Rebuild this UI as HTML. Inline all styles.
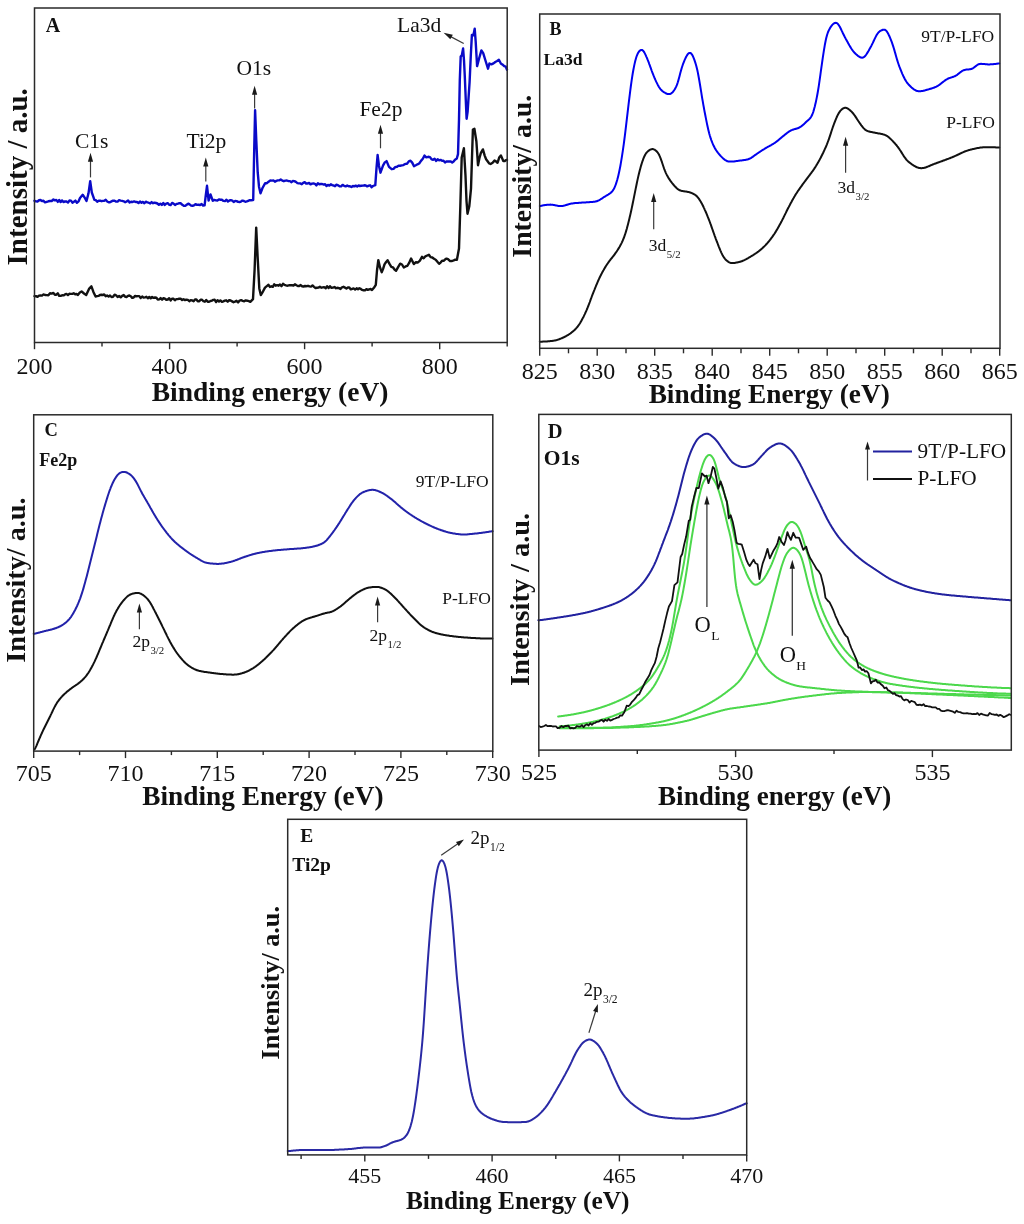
<!DOCTYPE html><html><head><meta charset="utf-8"><style>html,body{margin:0;padding:0;background:#fff;width:1024px;height:1224px;overflow:hidden}svg{display:block;will-change:transform}text{font-family:"Liberation Serif",serif;fill:#111}</style></head><body>
<svg width="1024" height="1224" viewBox="0 0 1024 1224">
<rect width="1024" height="1224" fill="#fff"/>
<g>
<line x1="34.5" y1="342.5" x2="34.5" y2="349.2" stroke="#2a2a2a" stroke-width="1.4"/>
<line x1="169.6" y1="342.5" x2="169.6" y2="349.2" stroke="#2a2a2a" stroke-width="1.4"/>
<line x1="304.6" y1="342.5" x2="304.6" y2="349.2" stroke="#2a2a2a" stroke-width="1.4"/>
<line x1="439.7" y1="342.5" x2="439.7" y2="349.2" stroke="#2a2a2a" stroke-width="1.4"/>
<line x1="102" y1="342.5" x2="102" y2="346.5" stroke="#2a2a2a" stroke-width="1.4"/>
<line x1="237.1" y1="342.5" x2="237.1" y2="346.5" stroke="#2a2a2a" stroke-width="1.4"/>
<line x1="372.1" y1="342.5" x2="372.1" y2="346.5" stroke="#2a2a2a" stroke-width="1.4"/>
<line x1="507.2" y1="342.5" x2="507.2" y2="346.5" stroke="#2a2a2a" stroke-width="1.4"/>
<path d="M34.5,296.1 36,296.2 37.5,296.9 39,295.6 40.5,295.5 42,295.6 43.5,294.4 45,295 46.7,295.1 48.4,295.3 50,293.3 51.7,293.6 53.4,292.9 54.9,294.8 56.3,294.7 57.8,293.3 59.2,295.8 60.6,295.9 62.1,295.3 63.5,295.4 65,294.4 66.4,293.9 67.9,295.1 69.3,293.8 70.8,293.9 72.2,293.9 73.7,293.3 75.1,294.2 76.6,294 78,294.9 79.8,292.5 81.6,291.4 84,293.5 86.2,295 89,288.9 91.4,286.3 93.5,292.2 95.6,296.5 97,296.2 98.5,295.9 99.9,295 101.4,294.8 102.8,295 104.2,294.5 105.7,296.3 107.1,295.5 108.6,296.6 110,295.5 111.5,297 113,296.8 114.6,294.7 116.1,295.3 117.6,297 119.1,296 120.7,297.3 122.2,295.9 123.7,295.1 125.1,296.6 126.5,297.1 128,295.9 129.4,295.5 130.8,296.2 132.2,297.9 133.6,297.5 135.1,295.9 136.5,296.3 137.9,296.1 139.3,296.1 140.7,298 142.2,296.5 143.6,297.6 145,297.4 146.4,296.8 147.8,298.3 149.3,296.9 150.7,298.3 152.1,297 153.5,297.9 155,297.5 156.4,297.7 157.8,299.6 159.2,299.3 160.6,298.1 162.1,299.7 163.5,298.1 164.9,298.6 166.3,299.9 167.8,299.5 169.2,298.2 170.6,300.5 172,298.6 173.5,298.8 174.9,300.2 176.3,299.1 177.8,299.1 179.2,298.6 180.6,298.7 182.1,300 183.5,299.2 185,300.1 186.4,299.6 187.8,299.9 189.3,301.2 190.7,300.1 192.1,300.4 193.6,301.2 195,299.5 196.4,299.5 197.8,301.4 199.2,301.2 200.6,299.8 202,299.7 203.4,301.2 204.8,301.7 206.2,299.9 207.7,301.8 209.1,301.7 210.5,301 211.9,300.6 213.3,299.9 214.7,299.8 216.1,302.1 217.5,300.3 219,301.5 220.4,300.4 221.9,301.9 223.3,301.3 224.8,300.6 226.2,300.3 227.7,301.7 229.2,300.1 230.6,300.5 232.1,301.4 233.5,302.2 235,301.6 236.5,300.8 238.1,302.4 239.6,300.6 241.1,300.2 242.7,300.9 244.2,301.3 245.7,300.4 247.2,300.7 248.8,301.2 250.3,301.8 253,299.1 254.6,269.7 256.2,227.6 257.6,256.2 259.3,288.4 260.8,295.1 262.3,292.7 265,287.6 266.8,286.1 268.5,284.8 269.9,286.9 271.4,286.3 272.8,286.8 274.2,284.3 275.7,285.7 277.1,285.2 278.6,285.7 280,284.5 281.5,286.2 283,283.8 284.5,284.9 286,285.4 287.5,285.7 289,285.3 290.5,285.1 292,285.3 293.5,285.5 294.9,284.3 296.4,285.3 297.8,286 299.2,286.1 300.7,285.1 302.1,286.2 303.6,286.5 305,286 306.5,286.2 308,285.8 309.5,286.4 311,286.6 312.5,285.4 314,286.9 315.5,288 317,287.8 318.5,287.6 319.9,286.8 321.4,287.7 322.8,287.4 324.2,287.1 325.7,288.2 327.1,286.3 328.6,288.1 330,286.3 331.5,287.8 333,287.6 334.5,287 336,288.2 337.5,287.8 339,288.1 340.5,288.9 342,287.3 343.5,286.8 344.9,287.6 346.4,288.6 347.9,287.5 349.3,287.5 350.8,289.4 352.2,288.9 353.6,288.4 355.1,289.6 356.6,288.3 358,289.2 359.4,288.2 360.8,288.9 362.2,289.9 363.6,290.3 365,290.4 366.4,289.2 367.8,289.8 369.2,289.3 370.6,289 372,290 373.9,287.8 375.8,284.8 377,270.5 378.3,260.1 380,267.4 381.7,272.2 383.1,268.9 384.5,264.4 386.1,262 387.6,260.2 389.5,263.9 391.3,266.8 392.9,267.3 394.5,269.5 396.1,270.8 398.1,267.1 400.2,263.7 402,264.5 403.8,267.5 405.6,266.4 407.3,265.8 409,263.2 411.1,258.5 413.8,264.1 415.9,262.2 417.9,262.5 419.9,260.6 422,256.8 423.7,258.3 425.4,256.3 427.2,255.5 428.9,254.8 430.6,257.1 432.3,257.5 434,258.8 435.7,259.7 437.4,261.8 439.1,263.8 440.6,262.6 442.1,260.8 443.6,260.9 445,259.6 446.5,258.6 448,259.2 450.1,261.1 452.1,261 453.7,260.4 455.3,259.7 456.9,259.8 459,248.5 460.3,207.3 461.7,157.5 463.9,148.2 465.5,175.7 466.5,201 467.5,213.7 469.3,206.1 471,188.6 472.9,129.5 474.4,128.8 476.4,141.5 478,165.2 479.4,158.2 480.8,153.1 482.9,149.4 484.7,155.6 486.1,159.2 487.6,161.2 489.1,163.4 490.6,164 492.6,162.8 494.5,160.6 496,161.4 497.5,162.8 499.2,157.6 500.9,155.4 503.3,161 504.8,161 506.3,159.9 507,160" fill="none" stroke="#111111" stroke-width="2.4" stroke-linejoin="round" stroke-linecap="round"/>
<path d="M34.5,200.8 36,201.4 37.5,201.5 39,200.3 40.5,200 42,201 43.5,200.8 45,202.3 46.7,201.8 48.4,201.3 50,201 51.7,201 53.4,199.5 54.9,200.4 56.3,199.9 57.8,201.9 59.2,200 60.6,202.1 62.1,200.4 63.5,202.1 65,201.4 66.5,201.5 68,202.6 69.5,200.5 71,200.6 72.4,202.7 73.9,201.7 75.4,200.6 76.9,202.8 78.5,201.4 80,198 82.7,194.8 85,198.1 86.5,201 88.5,193.3 90.2,181.2 91.8,192.5 94.4,199.8 95.8,200.1 97.2,201.7 98.7,200.7 100.1,200.7 101.5,201.2 102.9,200.9 104.3,200.7 105.7,199.8 107.2,201.5 108.6,202.2 110,202.2 111.5,201.4 113,200.7 114.6,200.8 116.1,201.6 117.6,201.6 119.1,200.2 120.7,200.6 122.2,200.9 123.7,201.3 125.2,202.2 126.7,201.5 128.1,200.4 129.6,202.5 131.1,201.7 132.6,202 134.1,201.4 135.6,202 137,202 138.5,203.1 140,201.5 141.5,202.7 142.9,201.9 144.4,203.3 145.8,201.7 147.3,202.4 148.7,202.7 150.2,203.5 151.6,202.1 153.1,203.2 154.5,202.7 156,203 157.4,203.5 158.9,204.8 160.4,203.7 161.8,204.9 163.3,203 164.8,204.9 166.2,203.6 167.7,203.2 169.1,204.6 170.6,205.1 172.1,202.9 173.5,203.6 175,204.9 176.5,203.9 177.9,203.7 179.4,203.2 180.8,203.3 182.3,204.8 183.8,205.8 185.2,205.9 186.7,204.7 188.2,203.6 189.6,204.4 191.1,205.6 192.5,205.8 194,205.3 195.5,204.2 197,204.9 198.5,204.7 200.1,205 201.6,204 203.1,205.6 204.6,205.4 205.8,195.2 207,185.8 208.6,200.6 210.5,194.4 212.8,200.8 214.3,199.9 215.9,200.4 217.4,200.5 218.9,199.4 220.4,199.7 221.9,199.8 223.5,200.9 225,201.1 226.5,199.7 227.9,201.6 229.4,200.5 230.8,200.1 232.3,200.6 233.7,202 235.2,200.9 236.6,201.1 238.1,201.9 239.5,202 241,201.6 242.4,200.6 243.9,201 245.3,201.7 246.8,201.4 248.2,200.8 249.7,200.2 251.1,200.2 253.2,200.1 254.2,150.2 255.1,110.3 256.3,140.5 257.7,172.2 259,186.7 260.5,193.3 262.5,188 265.2,183.1 266.9,183.2 268.6,181.7 270.3,180.5 272,180.6 273.4,180.4 274.9,181.7 276.3,180.9 277.8,180.4 279.2,180.4 280.7,179.4 282.3,180.6 283.8,181.2 285.4,180.6 286.9,180.5 288.5,181.1 290,181.1 291.5,182.2 292.9,181 294.4,181.1 295.9,181.9 297.4,183.1 298.8,183.4 300.3,183.4 301.8,184.2 303.2,182.9 304.7,182.2 306.1,183.5 307.6,183.5 309.1,182.9 310.5,184.3 312,183.6 313.5,183.4 314.9,183.8 316.4,185.4 317.9,183.2 319.3,184.2 320.8,184 322.2,184 323.7,184.6 325.1,184.2 326.5,186 327.9,185 329.4,185.5 330.8,184.3 332.2,185.1 333.6,185.5 335,186.2 336.5,184.7 338.1,185.3 339.6,186.4 341.1,186.4 342.6,184.9 344.1,185.8 345.7,186.4 347.2,185.5 348.6,186.3 350,186.3 351.5,187 352.9,186 354.3,186.4 355.7,185.6 357.2,186.5 358.6,185.5 360,186 361.4,185.7 362.9,185.6 364.3,185.3 365.8,185.5 367.2,186.4 368.7,185.7 370.1,185.3 371.6,187.2 373,186 375.3,185.1 376.5,168.2 377.6,155 379,165.9 380.5,172.7 383,165.6 384.8,162.4 386.6,161.1 389,166.9 391.7,169.2 393.5,168.8 395.2,167.1 397,166.8 398.6,165.6 400.2,165.7 401.8,165.4 403.4,165.1 405.2,163.9 407,163.8 408.8,161.4 410.5,160.7 412.2,162.6 414,166.2 415.8,165.3 417.5,164.3 419.2,163.5 421,160.9 422.8,158.8 424.5,155.6 426.3,157.3 428.2,156.8 430,157.1 431.6,159.4 433.1,159.8 434.6,158.8 436.2,160.9 437.6,159.2 439.1,160.3 440.6,159.9 442,160.7 443.5,160.8 445,162.4 446.4,161.5 447.9,161.4 449.4,161.5 450.8,161.4 452.2,162.4 453.6,161.4 455,159.7 456.8,158.5 458,154.1 459,119.9 459.8,80.1 460.7,56.4 461.8,55.5 463.1,48.5 464,60.3 464.8,76.5 466,105.3 466.6,118.8 467.6,111.8 469.6,82 470.8,55.5 471.9,34.9 473.4,35.3 474.7,28.7 475.7,41.9 477.1,66.1 479.1,58.5 481.4,50.4 483.2,53.1 485.3,60 488,68.7 489.4,63.5 491.4,64.4 493.5,63.4 495.3,62 497.1,61 498.9,59.8 501,63.8 502.6,64.6 504.2,66.1 505.8,66.7 507,69.7" fill="none" stroke="#0a0ac8" stroke-width="2.4" stroke-linejoin="round" stroke-linecap="round"/>
<rect x="34.5" y="8" width="472.7" height="334.5" fill="none" stroke="#2a2a2a" stroke-width="1.5"/>
<text x="34.5" y="374" font-size="24" text-anchor="middle">200</text>
<text x="169.6" y="374" font-size="24" text-anchor="middle">400</text>
<text x="304.6" y="374" font-size="24" text-anchor="middle">600</text>
<text x="439.7" y="374" font-size="24" text-anchor="middle">800</text>
<text x="270.1" y="401.2" font-size="27.5" font-weight="bold" text-anchor="middle">Binding energy (eV)</text>
<text transform="translate(26.5,176.8) rotate(-90)" font-size="29" font-weight="bold" text-anchor="middle">Intensity / a.u.</text>
<text x="45.8" y="32" font-size="20" font-weight="bold">A</text>
<text x="75" y="148" font-size="21.5">C1s</text>
<text x="186.5" y="148" font-size="21.5">Ti2p</text>
<text x="236.6" y="74.7" font-size="21.5">O1s</text>
<text x="359.4" y="116.2" font-size="21.5">Fe2p</text>
<text x="397" y="32.1" font-size="21.5">La3d</text>
<line x1="90.5" y1="177.4" x2="90.5" y2="160.8" stroke="#3a3a3a" stroke-width="1.2"/>
<path d="M90.5,152.8 L93.1,161.8 L87.9,161.8 Z" fill="#1a1a1a"/>
<line x1="205.8" y1="181.4" x2="205.8" y2="165.5" stroke="#3a3a3a" stroke-width="1.2"/>
<path d="M205.8,157.5 L208.4,166.5 L203.2,166.5 Z" fill="#1a1a1a"/>
<line x1="254.6" y1="108.4" x2="254.6" y2="93.7" stroke="#3a3a3a" stroke-width="1.2"/>
<path d="M254.6,85.7 L257.2,94.7 L252,94.7 Z" fill="#1a1a1a"/>
<line x1="380.5" y1="148.3" x2="380.5" y2="132.8" stroke="#3a3a3a" stroke-width="1.2"/>
<path d="M380.5,124.8 L383.1,133.8 L377.9,133.8 Z" fill="#1a1a1a"/>
<line x1="463.7" y1="43.5" x2="450.7" y2="36.6" stroke="#3a3a3a" stroke-width="1.2"/>
<path d="M443.6,32.8 L452.8,34.7 L450.3,39.3 Z" fill="#1a1a1a"/>
<line x1="539.7" y1="348.3" x2="539.7" y2="355.8" stroke="#2a2a2a" stroke-width="1.4"/>
<line x1="597.2" y1="348.3" x2="597.2" y2="355.8" stroke="#2a2a2a" stroke-width="1.4"/>
<line x1="654.7" y1="348.3" x2="654.7" y2="355.8" stroke="#2a2a2a" stroke-width="1.4"/>
<line x1="712.2" y1="348.3" x2="712.2" y2="355.8" stroke="#2a2a2a" stroke-width="1.4"/>
<line x1="769.7" y1="348.3" x2="769.7" y2="355.8" stroke="#2a2a2a" stroke-width="1.4"/>
<line x1="827.2" y1="348.3" x2="827.2" y2="355.8" stroke="#2a2a2a" stroke-width="1.4"/>
<line x1="884.7" y1="348.3" x2="884.7" y2="355.8" stroke="#2a2a2a" stroke-width="1.4"/>
<line x1="942.2" y1="348.3" x2="942.2" y2="355.8" stroke="#2a2a2a" stroke-width="1.4"/>
<line x1="999.7" y1="348.3" x2="999.7" y2="355.8" stroke="#2a2a2a" stroke-width="1.4"/>
<line x1="568.5" y1="348.3" x2="568.5" y2="353.3" stroke="#2a2a2a" stroke-width="1.4"/>
<line x1="626" y1="348.3" x2="626" y2="353.3" stroke="#2a2a2a" stroke-width="1.4"/>
<line x1="683.5" y1="348.3" x2="683.5" y2="353.3" stroke="#2a2a2a" stroke-width="1.4"/>
<line x1="741" y1="348.3" x2="741" y2="353.3" stroke="#2a2a2a" stroke-width="1.4"/>
<line x1="798.5" y1="348.3" x2="798.5" y2="353.3" stroke="#2a2a2a" stroke-width="1.4"/>
<line x1="856" y1="348.3" x2="856" y2="353.3" stroke="#2a2a2a" stroke-width="1.4"/>
<line x1="913.5" y1="348.3" x2="913.5" y2="353.3" stroke="#2a2a2a" stroke-width="1.4"/>
<line x1="971" y1="348.3" x2="971" y2="353.3" stroke="#2a2a2a" stroke-width="1.4"/>
<path d="M539.8,341.7 540.3,341.7 540.8,341.7 541.3,341.7 541.8,341.7 542.3,341.7 542.8,341.6 543.3,341.6 543.8,341.6 544.3,341.6 544.8,341.5 545.3,341.5 545.8,341.5 546.3,341.5 546.8,341.4 547.3,341.4 547.8,341.3 548.3,341.3 548.8,341.3 549.3,341.2 549.8,341.2 550.3,341.1 550.8,341.1 551.3,341 551.8,341 552.3,340.9 552.8,340.8 553.3,340.8 553.8,340.7 554.3,340.6 554.8,340.5 555.3,340.4 555.8,340.3 556.3,340.2 556.8,340.1 557.3,339.9 557.8,339.7 558.3,339.6 558.8,339.4 559.3,339.2 559.8,339 560.3,338.8 560.8,338.6 561.3,338.4 561.8,338.2 562.3,338 562.8,337.7 563.3,337.5 563.8,337.3 564.3,337 564.8,336.8 565.3,336.5 565.8,336.3 566.3,336 566.8,335.7 567.3,335.4 567.8,335.1 568.3,334.8 568.8,334.5 569.3,334.2 569.8,333.8 570.3,333.5 570.8,333.1 571.3,332.7 571.8,332.3 572.3,331.9 572.8,331.5 573.3,331.1 573.8,330.6 574.3,330.2 574.8,329.7 575.3,329.2 575.8,328.7 576.3,328.1 576.8,327.6 577.3,327 577.8,326.4 578.3,325.7 578.8,325 579.3,324.3 579.8,323.5 580.3,322.7 580.8,321.8 581.3,320.9 581.8,320 582.3,319.1 582.8,318.1 583.3,317.2 583.8,316.2 584.3,315.1 584.8,314.1 585.3,313 585.8,311.9 586.3,310.8 586.8,309.7 587.3,308.5 587.8,307.2 588.3,306 588.8,304.6 589.3,303.3 589.8,302 590.3,300.6 590.8,299.2 591.3,297.9 591.8,296.5 592.3,295.2 592.8,293.9 593.3,292.6 593.8,291.3 594.3,290.1 594.8,288.8 595.3,287.6 595.8,286.4 596.3,285.1 596.8,284 597.3,282.8 597.8,281.6 598.3,280.5 598.8,279.4 599.3,278.3 599.8,277.3 600.3,276.2 600.8,275.2 601.3,274.2 601.8,273.3 602.3,272.3 602.8,271.4 603.3,270.5 603.8,269.7 604.3,268.8 604.8,267.9 605.3,267.1 605.8,266.3 606.3,265.5 606.8,264.7 607.3,264 607.8,263.3 608.3,262.5 608.8,261.9 609.3,261.2 609.8,260.5 610.3,259.9 610.8,259.2 611.3,258.6 611.8,258 612.3,257.4 612.8,256.7 613.3,256.1 613.8,255.5 614.3,254.8 614.8,254.1 615.3,253.4 615.8,252.7 616.3,252 616.8,251.3 617.3,250.5 617.8,249.7 618.3,248.9 618.8,248.1 619.3,247.3 619.8,246.4 620.3,245.5 620.8,244.6 621.3,243.6 621.8,242.6 622.3,241.5 622.8,240.4 623.3,239.2 623.8,238 624.3,236.6 624.8,235.2 625.3,233.7 625.8,232.1 626.3,230.4 626.8,228.7 627.3,226.8 627.8,224.9 628.3,223 628.8,221 629.3,218.9 629.8,216.8 630.3,214.7 630.8,212.5 631.3,210.2 631.8,207.9 632.3,205.5 632.8,203 633.3,200.6 633.8,198.1 634.3,195.6 634.8,193.1 635.3,190.6 635.8,188.1 636.3,185.7 636.8,183.3 637.3,180.9 637.8,178.6 638.3,176.4 638.8,174.3 639.3,172.2 639.8,170.2 640.3,168.4 640.8,166.6 641.3,164.9 641.8,163.3 642.3,161.7 642.8,160.3 643.3,158.9 643.8,157.6 644.3,156.5 644.8,155.5 645.3,154.5 645.8,153.7 646.3,153 646.8,152.4 647.3,151.9 647.8,151.4 648.3,151 648.8,150.6 649.3,150.2 649.8,149.9 650.3,149.6 650.8,149.4 651.3,149.3 651.8,149.2 652.3,149.1 652.8,149.1 653.3,149.2 653.8,149.4 654.3,149.6 654.8,149.8 655.3,150.2 655.8,150.6 656.3,151 656.8,151.5 657.3,152.1 657.8,152.7 658.3,153.5 658.8,154.3 659.3,155.3 659.8,156.4 660.3,157.6 660.8,158.9 661.3,160.3 661.8,161.7 662.3,163.2 662.8,164.7 663.3,166.2 663.8,167.7 664.3,169.1 664.8,170.4 665.3,171.6 665.8,172.8 666.3,173.9 666.8,174.9 667.3,175.8 667.8,176.7 668.3,177.6 668.8,178.4 669.3,179.2 669.8,179.9 670.3,180.7 670.8,181.4 671.3,182 671.8,182.7 672.3,183.3 672.8,183.9 673.3,184.5 673.8,185.1 674.3,185.7 674.8,186.2 675.3,186.8 675.8,187.3 676.3,187.8 676.8,188.3 677.3,188.7 677.8,189.1 678.3,189.4 678.8,189.8 679.3,190 679.8,190.3 680.3,190.5 680.8,190.6 681.3,190.8 681.8,190.9 682.3,191 682.8,191.1 683.3,191.2 683.8,191.3 684.3,191.3 684.8,191.4 685.3,191.5 685.8,191.5 686.3,191.6 686.8,191.7 687.3,191.8 687.8,191.9 688.3,192 688.8,192.1 689.3,192.2 689.8,192.4 690.3,192.5 690.8,192.7 691.3,192.9 691.8,193.1 692.3,193.3 692.8,193.6 693.3,193.8 693.8,194.1 694.3,194.4 694.8,194.7 695.3,195 695.8,195.4 696.3,195.8 696.8,196.3 697.3,196.8 697.8,197.4 698.3,198 698.8,198.7 699.3,199.4 699.8,200.2 700.3,201 700.8,201.8 701.3,202.7 701.8,203.6 702.3,204.5 702.8,205.5 703.3,206.5 703.8,207.6 704.3,208.6 704.8,209.8 705.3,210.9 705.8,212 706.3,213.2 706.8,214.4 707.3,215.6 707.8,216.9 708.3,218.1 708.8,219.4 709.3,220.7 709.8,222 710.3,223.4 710.8,224.7 711.3,226.1 711.8,227.6 712.3,229 712.8,230.4 713.3,231.8 713.8,233.3 714.3,234.7 714.8,236.1 715.3,237.4 715.8,238.8 716.3,240.1 716.8,241.5 717.3,242.7 717.8,244 718.3,245.3 718.8,246.6 719.3,247.8 719.8,249 720.3,250.3 720.8,251.4 721.3,252.6 721.8,253.6 722.3,254.7 722.8,255.6 723.3,256.5 723.8,257.2 724.3,257.9 724.8,258.6 725.3,259.2 725.8,259.7 726.3,260.2 726.8,260.6 727.3,261 727.8,261.4 728.3,261.8 728.8,262.1 729.3,262.4 729.8,262.6 730.3,262.8 730.8,262.9 731.3,263 731.8,263.1 732.3,263.1 732.8,263.1 733.3,263 733.8,263 734.3,262.9 734.8,262.9 735.3,262.8 735.8,262.7 736.3,262.6 736.8,262.5 737.3,262.4 737.8,262.3 738.3,262.2 738.8,262.1 739.3,261.9 739.8,261.8 740.3,261.7 740.8,261.5 741.3,261.4 741.8,261.2 742.3,261 742.8,260.8 743.3,260.6 743.8,260.4 744.3,260.1 744.8,259.9 745.3,259.6 745.8,259.4 746.3,259.1 746.8,258.8 747.3,258.6 747.8,258.3 748.3,258 748.8,257.7 749.3,257.4 749.8,257.1 750.3,256.8 750.8,256.5 751.3,256.2 751.8,255.9 752.3,255.6 752.8,255.3 753.3,255 753.8,254.7 754.3,254.3 754.8,254 755.3,253.7 755.8,253.3 756.3,253 756.8,252.6 757.3,252.3 757.8,251.9 758.3,251.6 758.8,251.2 759.3,250.8 759.8,250.4 760.3,250 760.8,249.6 761.3,249.1 761.8,248.7 762.3,248.3 762.8,247.8 763.3,247.3 763.8,246.9 764.3,246.4 764.8,245.9 765.3,245.4 765.8,244.8 766.3,244.3 766.8,243.7 767.3,243.2 767.8,242.6 768.3,242 768.8,241.4 769.3,240.8 769.8,240.2 770.3,239.5 770.8,238.9 771.3,238.2 771.8,237.5 772.3,236.9 772.8,236.2 773.3,235.4 773.8,234.7 774.3,234 774.8,233.2 775.3,232.4 775.8,231.6 776.3,230.7 776.8,229.9 777.3,229.1 777.8,228.2 778.3,227.3 778.8,226.4 779.3,225.5 779.8,224.6 780.3,223.7 780.8,222.8 781.3,221.8 781.8,220.9 782.3,219.9 782.8,218.9 783.3,218 783.8,216.9 784.3,215.9 784.8,214.9 785.3,213.9 785.8,212.9 786.3,211.8 786.8,210.8 787.3,209.8 787.8,208.8 788.3,207.8 788.8,206.9 789.3,205.9 789.8,205 790.3,204 790.8,203.1 791.3,202.2 791.8,201.2 792.3,200.3 792.8,199.4 793.3,198.5 793.8,197.7 794.3,196.8 794.8,196 795.3,195.1 795.8,194.3 796.3,193.5 796.8,192.8 797.3,192 797.8,191.2 798.3,190.5 798.8,189.8 799.3,189.1 799.8,188.4 800.3,187.7 800.8,187 801.3,186.3 801.8,185.6 802.3,184.9 802.8,184.2 803.3,183.5 803.8,182.8 804.3,182.2 804.8,181.5 805.3,180.8 805.8,180.1 806.3,179.5 806.8,178.8 807.3,178.1 807.8,177.5 808.3,176.8 808.8,176.2 809.3,175.5 809.8,174.9 810.3,174.2 810.8,173.5 811.3,172.9 811.8,172.2 812.3,171.5 812.8,170.8 813.3,170.1 813.8,169.3 814.3,168.6 814.8,167.8 815.3,167.1 815.8,166.3 816.3,165.5 816.8,164.6 817.3,163.8 817.8,162.9 818.3,162.1 818.8,161.2 819.3,160.3 819.8,159.4 820.3,158.4 820.8,157.5 821.3,156.5 821.8,155.5 822.3,154.5 822.8,153.5 823.3,152.5 823.8,151.4 824.3,150.3 824.8,149.2 825.3,148.1 825.8,147 826.3,145.8 826.8,144.6 827.3,143.3 827.8,142 828.3,140.7 828.8,139.3 829.3,137.9 829.8,136.4 830.3,134.9 830.8,133.4 831.3,131.8 831.8,130.3 832.3,128.8 832.8,127.3 833.3,125.9 833.8,124.5 834.3,123.2 834.8,121.9 835.3,120.6 835.8,119.3 836.3,118.2 836.8,117 837.3,115.9 837.8,114.9 838.3,114 838.8,113.1 839.3,112.3 839.8,111.6 840.3,110.9 840.8,110.4 841.3,109.8 841.8,109.4 842.3,109 842.8,108.6 843.3,108.3 843.8,108.1 844.3,107.9 844.8,107.8 845.3,107.8 845.8,107.8 846.3,107.9 846.8,108.1 847.3,108.3 847.8,108.6 848.3,108.9 848.8,109.3 849.3,109.6 849.8,110.1 850.3,110.5 850.8,111 851.3,111.4 851.8,111.9 852.3,112.5 852.8,113 853.3,113.6 853.8,114.3 854.3,115 854.8,115.7 855.3,116.4 855.8,117.2 856.3,117.9 856.8,118.7 857.3,119.5 857.8,120.2 858.3,121 858.8,121.7 859.3,122.5 859.8,123.2 860.3,123.9 860.8,124.6 861.3,125.3 861.8,125.9 862.3,126.6 862.8,127.2 863.3,127.8 863.8,128.4 864.3,128.9 864.8,129.4 865.3,129.8 865.8,130.1 866.3,130.4 866.8,130.7 867.3,130.9 867.8,131.1 868.3,131.3 868.8,131.4 869.3,131.5 869.8,131.7 870.3,131.8 870.8,131.9 871.3,132 871.8,132.1 872.3,132.2 872.8,132.3 873.3,132.4 873.8,132.5 874.3,132.6 874.8,132.7 875.3,132.8 875.8,132.9 876.3,133 876.8,133.1 877.3,133.2 877.8,133.3 878.3,133.4 878.8,133.4 879.3,133.5 879.8,133.6 880.3,133.7 880.8,133.8 881.3,133.9 881.8,134 882.3,134.1 882.8,134.3 883.3,134.4 883.8,134.6 884.3,134.7 884.8,134.9 885.3,135.1 885.8,135.3 886.3,135.6 886.8,135.9 887.3,136.2 887.8,136.5 888.3,136.9 888.8,137.3 889.3,137.7 889.8,138.2 890.3,138.6 890.8,139.1 891.3,139.6 891.8,140.1 892.3,140.6 892.8,141.1 893.3,141.7 893.8,142.2 894.3,142.8 894.8,143.3 895.3,143.9 895.8,144.5 896.3,145 896.8,145.6 897.3,146.3 897.8,146.9 898.3,147.6 898.8,148.3 899.3,149 899.8,149.8 900.3,150.5 900.8,151.3 901.3,152.1 901.8,152.9 902.3,153.7 902.8,154.5 903.3,155.3 903.8,156.1 904.3,156.8 904.8,157.5 905.3,158.2 905.8,158.9 906.3,159.5 906.8,160.1 907.3,160.6 907.8,161.1 908.3,161.6 908.8,162 909.3,162.4 909.8,162.8 910.3,163.2 910.8,163.5 911.3,163.9 911.8,164.3 912.3,164.6 912.8,164.9 913.3,165.3 913.8,165.6 914.3,165.9 914.8,166.2 915.3,166.5 915.8,166.7 916.3,167 916.8,167.2 917.3,167.4 917.8,167.6 918.3,167.7 918.8,167.9 919.3,168 919.8,168.1 920.3,168.1 920.8,168.2 921.3,168.2 921.8,168.2 922.3,168.1 922.8,168.1 923.3,168 923.8,167.9 924.3,167.8 924.8,167.7 925.3,167.5 925.8,167.4 926.3,167.2 926.8,167 927.3,166.8 927.8,166.6 928.3,166.4 928.8,166.2 929.3,166 929.8,165.8 930.3,165.5 930.8,165.3 931.3,165.1 931.8,164.9 932.3,164.7 932.8,164.5 933.3,164.3 933.8,164.1 934.3,163.9 934.8,163.7 935.3,163.5 935.8,163.4 936.3,163.2 936.8,163 937.3,162.8 937.8,162.6 938.3,162.5 938.8,162.3 939.3,162.1 939.8,161.9 940.3,161.7 940.8,161.6 941.3,161.4 941.8,161.2 942.3,161 942.8,160.8 943.3,160.6 943.8,160.5 944.3,160.3 944.8,160.1 945.3,159.9 945.8,159.7 946.3,159.5 946.8,159.3 947.3,159.1 947.8,158.9 948.3,158.8 948.8,158.6 949.3,158.4 949.8,158.2 950.3,158 950.8,157.8 951.3,157.6 951.8,157.4 952.3,157.2 952.8,157 953.3,156.8 953.8,156.6 954.3,156.3 954.8,156.1 955.3,155.9 955.8,155.7 956.3,155.4 956.8,155.2 957.3,155 957.8,154.7 958.3,154.5 958.8,154.3 959.3,154 959.8,153.8 960.3,153.5 960.8,153.3 961.3,153.1 961.8,152.8 962.3,152.6 962.8,152.4 963.3,152.1 963.8,151.9 964.3,151.7 964.8,151.5 965.3,151.3 965.8,151.1 966.3,150.9 966.8,150.8 967.3,150.6 967.8,150.4 968.3,150.3 968.8,150.1 969.3,150 969.8,149.9 970.3,149.7 970.8,149.6 971.3,149.5 971.8,149.4 972.3,149.2 972.8,149.1 973.3,149 973.8,148.9 974.3,148.8 974.8,148.7 975.3,148.6 975.8,148.4 976.3,148.3 976.8,148.2 977.3,148.1 977.8,148 978.3,147.9 978.8,147.9 979.3,147.8 979.8,147.7 980.3,147.6 980.8,147.6 981.3,147.5 981.8,147.4 982.3,147.4 982.8,147.3 983.3,147.3 983.8,147.3 984.3,147.3 984.8,147.2 985.3,147.2 985.8,147.2 986.3,147.2 986.8,147.2 987.3,147.2 987.8,147.2 988.3,147.2 988.8,147.2 989.3,147.2 989.8,147.2 990.3,147.2 990.8,147.2 991.3,147.2 991.8,147.2 992.3,147.3 992.8,147.3 993.3,147.3 993.8,147.3 994.3,147.3 994.8,147.3 995.3,147.3 995.8,147.4 996.3,147.4 996.8,147.4 997.3,147.4 997.8,147.5 998.3,147.5 998.8,147.5 999.3,147.5" fill="none" stroke="#111111" stroke-width="2.0" stroke-linejoin="round" stroke-linecap="round"/>
<path d="M539.8,206 540.3,206 540.8,205.9 541.3,205.8 541.8,205.7 542.3,205.6 542.8,205.4 543.3,205.3 543.8,205.3 544.3,205.2 544.8,205.1 545.3,205 545.8,204.9 546.3,204.9 546.8,204.8 547.3,204.8 547.8,204.7 548.3,204.7 548.8,204.7 549.3,204.7 549.8,204.7 550.3,204.6 550.8,204.7 551.3,204.7 551.8,204.7 552.3,204.7 552.8,204.8 553.3,204.9 553.8,205 554.3,205.1 554.8,205.2 555.3,205.3 555.8,205.4 556.3,205.5 556.8,205.6 557.3,205.7 557.8,205.8 558.3,205.9 558.8,206 559.3,206 559.8,206.1 560.3,206.1 560.8,206.1 561.3,206.1 561.8,206 562.3,206 562.8,205.9 563.3,205.8 563.8,205.7 564.3,205.6 564.8,205.4 565.3,205.3 565.8,205.1 566.3,205 566.8,204.8 567.3,204.7 567.8,204.5 568.3,204.4 568.8,204.2 569.3,204.1 569.8,203.9 570.3,203.8 570.8,203.7 571.3,203.6 571.8,203.5 572.3,203.4 572.8,203.4 573.3,203.3 573.8,203.2 574.3,203.2 574.8,203.1 575.3,203.1 575.8,203.1 576.3,203 576.8,203 577.3,202.9 577.8,202.9 578.3,202.9 578.8,202.8 579.3,202.8 579.8,202.8 580.3,202.7 580.8,202.7 581.3,202.7 581.8,202.6 582.3,202.6 582.8,202.6 583.3,202.5 583.8,202.5 584.3,202.5 584.8,202.4 585.3,202.4 585.8,202.4 586.3,202.3 586.8,202.3 587.3,202.3 587.8,202.3 588.3,202.2 588.8,202.2 589.3,202.2 589.8,202.1 590.3,202.1 590.8,202.1 591.3,202 591.8,202 592.3,201.9 592.8,201.9 593.3,201.8 593.8,201.8 594.3,201.7 594.8,201.7 595.3,201.6 595.8,201.5 596.3,201.3 596.8,201.2 597.3,201 597.8,200.8 598.3,200.6 598.8,200.4 599.3,200.1 599.8,199.8 600.3,199.5 600.8,199.2 601.3,198.9 601.8,198.6 602.3,198.2 602.8,197.9 603.3,197.5 603.8,197.2 604.3,196.9 604.8,196.6 605.3,196.3 605.8,196 606.3,195.7 606.8,195.4 607.3,195.1 607.8,194.8 608.3,194.5 608.8,194.1 609.3,193.8 609.8,193.5 610.3,193.1 610.8,192.7 611.3,192.2 611.8,191.7 612.3,191.2 612.8,190.6 613.3,189.8 613.8,189 614.3,188 614.8,186.9 615.3,185.7 615.8,184.4 616.3,182.9 616.8,181.3 617.3,179.6 617.8,177.7 618.3,175.7 618.8,173.6 619.3,171.3 619.8,168.8 620.3,166.2 620.8,163.4 621.3,160.4 621.8,157.4 622.3,154.2 622.8,150.9 623.3,147.4 623.8,143.8 624.3,140 624.8,136.1 625.3,132.1 625.8,127.9 626.3,123.7 626.8,119.4 627.3,115.1 627.8,110.8 628.3,106.6 628.8,102.4 629.3,98.3 629.8,94.3 630.3,90.3 630.8,86.5 631.3,82.8 631.8,79.4 632.3,76.1 632.8,73 633.3,70.2 633.8,67.6 634.3,65.1 634.8,62.9 635.3,60.8 635.8,59 636.3,57.3 636.8,55.8 637.3,54.6 637.8,53.5 638.3,52.6 638.8,51.9 639.3,51.2 639.8,50.7 640.3,50.4 640.8,50.1 641.3,50 641.8,50 642.3,50.1 642.8,50.5 643.3,51 643.8,51.6 644.3,52.4 644.8,53.4 645.3,54.4 645.8,55.4 646.3,56.6 646.8,57.7 647.3,58.9 647.8,60.2 648.3,61.4 648.8,62.7 649.3,64.1 649.8,65.4 650.3,66.8 650.8,68.2 651.3,69.6 651.8,71 652.3,72.3 652.8,73.6 653.3,74.9 653.8,76.2 654.3,77.4 654.8,78.5 655.3,79.7 655.8,80.8 656.3,81.9 656.8,82.9 657.3,83.9 657.8,84.9 658.3,85.8 658.8,86.7 659.3,87.5 659.8,88.2 660.3,88.9 660.8,89.5 661.3,90 661.8,90.5 662.3,91 662.8,91.4 663.3,91.7 663.8,92.1 664.3,92.4 664.8,92.7 665.3,93 665.8,93.3 666.3,93.5 666.8,93.7 667.3,93.9 667.8,94 668.3,94.1 668.8,94.1 669.3,94.1 669.8,94 670.3,93.9 670.8,93.6 671.3,93.3 671.8,92.9 672.3,92.5 672.8,92 673.3,91.4 673.8,90.7 674.3,90 674.8,89.2 675.3,88.4 675.8,87.4 676.3,86.4 676.8,85.2 677.3,83.8 677.8,82.3 678.3,80.6 678.8,78.8 679.3,76.9 679.8,75 680.3,73.1 680.8,71.2 681.3,69.4 681.8,67.7 682.3,66.2 682.8,64.7 683.3,63.4 683.8,62.1 684.3,60.8 684.8,59.7 685.3,58.6 685.8,57.5 686.3,56.5 686.8,55.7 687.3,54.9 687.8,54.2 688.3,53.6 688.8,53.2 689.3,53 689.8,52.9 690.3,52.9 690.8,53.2 691.3,53.7 691.8,54.3 692.3,55.1 692.8,56 693.3,57.1 693.8,58.3 694.3,59.6 694.8,61.1 695.3,62.6 695.8,64.2 696.3,66 696.8,68 697.3,70.1 697.8,72.4 698.3,75 698.8,77.7 699.3,80.5 699.8,83.5 700.3,86.5 700.8,89.6 701.3,92.7 701.8,95.8 702.3,98.8 702.8,101.7 703.3,104.6 703.8,107.3 704.3,110.1 704.8,112.7 705.3,115.3 705.8,117.9 706.3,120.4 706.8,122.9 707.3,125.2 707.8,127.5 708.3,129.7 708.8,131.7 709.3,133.7 709.8,135.5 710.3,137.1 710.8,138.7 711.3,140.1 711.8,141.4 712.3,142.7 712.8,143.9 713.3,145 713.8,146 714.3,147 714.8,148 715.3,148.9 715.8,149.7 716.3,150.5 716.8,151.2 717.3,151.9 717.8,152.6 718.3,153.2 718.8,153.8 719.3,154.4 719.8,155 720.3,155.5 720.8,156.1 721.3,156.6 721.8,157.1 722.3,157.6 722.8,158.1 723.3,158.6 723.8,159 724.3,159.4 724.8,159.8 725.3,160.1 725.8,160.4 726.3,160.7 726.8,161 727.3,161.2 727.8,161.3 728.3,161.4 728.8,161.5 729.3,161.6 729.8,161.6 730.3,161.6 730.8,161.6 731.3,161.6 731.8,161.6 732.3,161.5 732.8,161.5 733.3,161.5 733.8,161.4 734.3,161.4 734.8,161.3 735.3,161.2 735.8,161.2 736.3,161.1 736.8,161.1 737.3,161 737.8,160.9 738.3,160.8 738.8,160.8 739.3,160.7 739.8,160.6 740.3,160.6 740.8,160.5 741.3,160.5 741.8,160.4 742.3,160.3 742.8,160.3 743.3,160.2 743.8,160.1 744.3,160.1 744.8,160 745.3,159.9 745.8,159.8 746.3,159.7 746.8,159.6 747.3,159.5 747.8,159.4 748.3,159.2 748.8,159 749.3,158.8 749.8,158.6 750.3,158.3 750.8,158.1 751.3,157.8 751.8,157.4 752.3,157.1 752.8,156.8 753.3,156.4 753.8,156 754.3,155.7 754.8,155.3 755.3,154.9 755.8,154.6 756.3,154.2 756.8,153.9 757.3,153.5 757.8,153.2 758.3,152.9 758.8,152.5 759.3,152.2 759.8,151.9 760.3,151.5 760.8,151.2 761.3,150.9 761.8,150.5 762.3,150.2 762.8,149.9 763.3,149.6 763.8,149.3 764.3,149 764.8,148.6 765.3,148.3 765.8,148 766.3,147.8 766.8,147.5 767.3,147.2 767.8,146.9 768.3,146.6 768.8,146.4 769.3,146.1 769.8,145.8 770.3,145.6 770.8,145.3 771.3,145 771.8,144.7 772.3,144.4 772.8,144.1 773.3,143.8 773.8,143.5 774.3,143.2 774.8,142.9 775.3,142.5 775.8,142.2 776.3,141.8 776.8,141.4 777.3,141 777.8,140.6 778.3,140.2 778.8,139.8 779.3,139.4 779.8,138.9 780.3,138.5 780.8,138.1 781.3,137.6 781.8,137.2 782.3,136.8 782.8,136.4 783.3,136 783.8,135.6 784.3,135.2 784.8,134.8 785.3,134.4 785.8,134 786.3,133.6 786.8,133.2 787.3,132.8 787.8,132.4 788.3,132.1 788.8,131.7 789.3,131.4 789.8,131.1 790.3,130.8 790.8,130.5 791.3,130.3 791.8,130.1 792.3,129.9 792.8,129.7 793.3,129.5 793.8,129.4 794.3,129.2 794.8,129.1 795.3,129 795.8,128.8 796.3,128.7 796.8,128.5 797.3,128.4 797.8,128.2 798.3,128 798.8,127.8 799.3,127.5 799.8,127.3 800.3,126.9 800.8,126.6 801.3,126.3 801.8,125.9 802.3,125.5 802.8,125.1 803.3,124.6 803.8,124.2 804.3,123.7 804.8,123.3 805.3,122.8 805.8,122.3 806.3,121.8 806.8,121.4 807.3,120.9 807.8,120.5 808.3,120 808.8,119.6 809.3,119.1 809.8,118.6 810.3,118 810.8,117.3 811.3,116.5 811.8,115.6 812.3,114.5 812.8,113.2 813.3,111.8 813.8,110.1 814.3,108.3 814.8,106.4 815.3,104.3 815.8,102.2 816.3,99.9 816.8,97.4 817.3,94.8 817.8,92 818.3,89 818.8,85.8 819.3,82.4 819.8,78.9 820.3,75.3 820.8,71.7 821.3,68.1 821.8,64.6 822.3,61.1 822.8,57.7 823.3,54.4 823.8,51.1 824.3,48.1 824.8,45.2 825.3,42.5 825.8,40 826.3,37.8 826.8,35.9 827.3,34.2 827.8,32.7 828.3,31.5 828.8,30.4 829.3,29.4 829.8,28.5 830.3,27.6 830.8,26.9 831.3,26.2 831.8,25.5 832.3,24.9 832.8,24.4 833.3,23.9 833.8,23.5 834.3,23.2 834.8,23 835.3,22.9 835.8,22.8 836.3,22.9 836.8,23.1 837.3,23.4 837.8,23.9 838.3,24.5 838.8,25.2 839.3,26 839.8,26.8 840.3,27.8 840.8,28.8 841.3,29.8 841.8,30.9 842.3,31.9 842.8,33 843.3,34 843.8,35.1 844.3,36 844.8,37 845.3,37.9 845.8,38.9 846.3,39.8 846.8,40.7 847.3,41.6 847.8,42.5 848.3,43.4 848.8,44.3 849.3,45.2 849.8,46 850.3,46.9 850.8,47.7 851.3,48.5 851.8,49.3 852.3,50 852.8,50.7 853.3,51.3 853.8,51.9 854.3,52.5 854.8,53 855.3,53.5 855.8,54 856.3,54.4 856.8,54.9 857.3,55.3 857.8,55.7 858.3,56.1 858.8,56.4 859.3,56.8 859.8,57 860.3,57.3 860.8,57.5 861.3,57.6 861.8,57.7 862.3,57.7 862.8,57.6 863.3,57.5 863.8,57.2 864.3,56.8 864.8,56.4 865.3,55.8 865.8,55.2 866.3,54.5 866.8,53.7 867.3,52.9 867.8,52.1 868.3,51.3 868.8,50.4 869.3,49.5 869.8,48.6 870.3,47.7 870.8,46.8 871.3,45.9 871.8,44.9 872.3,43.9 872.8,42.9 873.3,41.8 873.8,40.8 874.3,39.7 874.8,38.6 875.3,37.6 875.8,36.6 876.3,35.6 876.8,34.8 877.3,34 877.8,33.3 878.3,32.7 878.8,32.1 879.3,31.7 879.8,31.3 880.3,30.9 880.8,30.7 881.3,30.4 881.8,30.2 882.3,30 882.8,29.8 883.3,29.7 883.8,29.7 884.3,29.7 884.8,29.8 885.3,30 885.8,30.4 886.3,30.9 886.8,31.4 887.3,32.2 887.8,33 888.3,33.9 888.8,35 889.3,36 889.8,37.2 890.3,38.4 890.8,39.6 891.3,40.9 891.8,42.2 892.3,43.6 892.8,45.1 893.3,46.6 893.8,48.2 894.3,49.9 894.8,51.7 895.3,53.4 895.8,55.2 896.3,57 896.8,58.7 897.3,60.4 897.8,62 898.3,63.5 898.8,65 899.3,66.4 899.8,67.7 900.3,69 900.8,70.2 901.3,71.4 901.8,72.6 902.3,73.8 902.8,74.9 903.3,76 903.8,77 904.3,78 904.8,79 905.3,79.9 905.8,80.7 906.3,81.5 906.8,82.3 907.3,83 907.8,83.6 908.3,84.2 908.8,84.8 909.3,85.3 909.8,85.8 910.3,86.3 910.8,86.8 911.3,87.3 911.8,87.7 912.3,88.1 912.8,88.5 913.3,88.9 913.8,89.3 914.3,89.6 914.8,89.9 915.3,90.2 915.8,90.5 916.3,90.7 916.8,90.9 917.3,91 917.8,91.1 918.3,91.2 918.8,91.3 919.3,91.3 919.8,91.3 920.3,91.2 920.8,91.2 921.3,91.1 921.8,91.1 922.3,91 922.8,90.9 923.3,90.8 923.8,90.7 924.3,90.5 924.8,90.4 925.3,90.3 925.8,90.1 926.3,90 926.8,89.8 927.3,89.7 927.8,89.6 928.3,89.4 928.8,89.3 929.3,89.1 929.8,89 930.3,88.8 930.8,88.7 931.3,88.5 931.8,88.4 932.3,88.2 932.8,88.1 933.3,87.9 933.8,87.7 934.3,87.5 934.8,87.3 935.3,87.1 935.8,86.9 936.3,86.7 936.8,86.4 937.3,86.1 937.8,85.9 938.3,85.5 938.8,85.2 939.3,84.9 939.8,84.5 940.3,84.1 940.8,83.7 941.3,83.3 941.8,82.9 942.3,82.5 942.8,82.1 943.3,81.7 943.8,81.3 944.3,81 944.8,80.6 945.3,80.2 945.8,79.9 946.3,79.6 946.8,79.3 947.3,79 947.8,78.7 948.3,78.5 948.8,78.3 949.3,78.1 949.8,77.9 950.3,77.8 950.8,77.6 951.3,77.4 951.8,77.3 952.3,77.1 952.8,77 953.3,76.8 953.8,76.6 954.3,76.4 954.8,76.2 955.3,76 955.8,75.7 956.3,75.4 956.8,75.1 957.3,74.7 957.8,74.3 958.3,73.9 958.8,73.5 959.3,73.1 959.8,72.7 960.3,72.3 960.8,71.9 961.3,71.6 961.8,71.2 962.3,70.9 962.8,70.6 963.3,70.4 963.8,70.2 964.3,70 964.8,69.9 965.3,69.8 965.8,69.7 966.3,69.6 966.8,69.6 967.3,69.5 967.8,69.5 968.3,69.4 968.8,69.4 969.3,69.3 969.8,69.3 970.3,69.2 970.8,69.1 971.3,69 971.8,68.8 972.3,68.6 972.8,68.3 973.3,68 973.8,67.7 974.3,67.3 974.8,66.9 975.3,66.5 975.8,66.1 976.3,65.7 976.8,65.3 977.3,65 977.8,64.7 978.3,64.4 978.8,64.2 979.3,64 979.8,63.9 980.3,63.9 980.8,63.8 981.3,63.8 981.8,63.9 982.3,63.9 982.8,63.9 983.3,64 983.8,64 984.3,64.1 984.8,64.1 985.3,64.2 985.8,64.2 986.3,64.3 986.8,64.3 987.3,64.3 987.8,64.4 988.3,64.4 988.8,64.4 989.3,64.4 989.8,64.4 990.3,64.3 990.8,64.3 991.3,64.3 991.8,64.3 992.3,64.2 992.8,64.2 993.3,64.2 993.8,64.1 994.3,64.1 994.8,64 995.3,64 995.8,63.9 996.3,63.8 996.8,63.8 997.3,63.7 997.8,63.6 998.3,63.6 998.8,63.5 999.3,63.4" fill="none" stroke="#0000f0" stroke-width="2.0" stroke-linejoin="round" stroke-linecap="round"/>
<rect x="539.7" y="14" width="460.3" height="334.3" fill="none" stroke="#2a2a2a" stroke-width="1.5"/>
<text x="539.7" y="379" font-size="24" text-anchor="middle">825</text>
<text x="597.2" y="379" font-size="24" text-anchor="middle">830</text>
<text x="654.7" y="379" font-size="24" text-anchor="middle">835</text>
<text x="712.2" y="379" font-size="24" text-anchor="middle">840</text>
<text x="769.7" y="379" font-size="24" text-anchor="middle">845</text>
<text x="827.2" y="379" font-size="24" text-anchor="middle">850</text>
<text x="884.7" y="379" font-size="24" text-anchor="middle">855</text>
<text x="942.2" y="379" font-size="24" text-anchor="middle">860</text>
<text x="999.7" y="379" font-size="24" text-anchor="middle">865</text>
<text x="769.2" y="402.9" font-size="27.3" font-weight="bold" text-anchor="middle">Binding Energy (eV)</text>
<text transform="translate(531.4,176.2) rotate(-90)" font-size="27.8" font-weight="bold" text-anchor="middle">Intensity/ a.u.</text>
<text x="549.5" y="35.4" font-size="18" font-weight="bold">B</text>
<text x="543.6" y="64.5" font-size="17.5" font-weight="bold">La3d</text>
<text x="921.2" y="42.2" font-size="17.5">9T/P-LFO</text>
<text x="946.2" y="127.7" font-size="17.5">P-LFO</text>
<line x1="653.7" y1="229.2" x2="653.7" y2="200.9" stroke="#3a3a3a" stroke-width="1.2"/>
<path d="M653.7,192.9 L656.3,201.9 L651.1,201.9 Z" fill="#1a1a1a"/>
<text x="648.8" y="250.8" font-size="17.5">3d<tspan font-size="10.8" dy="7" dx="0.5">5/2</tspan></text>
<line x1="845.6" y1="172.8" x2="845.6" y2="144.8" stroke="#3a3a3a" stroke-width="1.2"/>
<path d="M845.6,136.8 L848.2,145.8 L843,145.8 Z" fill="#1a1a1a"/>
<text x="837.6" y="193.3" font-size="17.5">3d<tspan font-size="10.8" dy="7" dx="0.5">3/2</tspan></text>
<line x1="33.7" y1="751.1" x2="33.7" y2="758.1" stroke="#2a2a2a" stroke-width="1.4"/>
<line x1="125.5" y1="751.1" x2="125.5" y2="758.1" stroke="#2a2a2a" stroke-width="1.4"/>
<line x1="217.3" y1="751.1" x2="217.3" y2="758.1" stroke="#2a2a2a" stroke-width="1.4"/>
<line x1="309.1" y1="751.1" x2="309.1" y2="758.1" stroke="#2a2a2a" stroke-width="1.4"/>
<line x1="400.9" y1="751.1" x2="400.9" y2="758.1" stroke="#2a2a2a" stroke-width="1.4"/>
<line x1="492.7" y1="751.1" x2="492.7" y2="758.1" stroke="#2a2a2a" stroke-width="1.4"/>
<line x1="79.6" y1="751.1" x2="79.6" y2="755.1" stroke="#2a2a2a" stroke-width="1.4"/>
<line x1="171.4" y1="751.1" x2="171.4" y2="755.1" stroke="#2a2a2a" stroke-width="1.4"/>
<line x1="263.2" y1="751.1" x2="263.2" y2="755.1" stroke="#2a2a2a" stroke-width="1.4"/>
<line x1="355" y1="751.1" x2="355" y2="755.1" stroke="#2a2a2a" stroke-width="1.4"/>
<line x1="446.8" y1="751.1" x2="446.8" y2="755.1" stroke="#2a2a2a" stroke-width="1.4"/>
<path d="M34.4,749.5 34.9,748.8 35.4,747.9 35.9,746.9 36.4,745.8 36.9,744.6 37.4,743.4 37.9,742.2 38.4,741 38.9,739.8 39.4,738.6 39.9,737.5 40.4,736.3 40.9,735.2 41.4,734.1 41.9,733 42.4,731.9 42.9,730.8 43.4,729.7 43.9,728.7 44.4,727.7 44.9,726.7 45.4,725.7 45.9,724.7 46.4,723.7 46.9,722.7 47.4,721.7 47.9,720.7 48.4,719.7 48.9,718.7 49.4,717.7 49.9,716.7 50.4,715.7 50.9,714.6 51.4,713.6 51.9,712.5 52.4,711.5 52.9,710.4 53.4,709.4 53.9,708.4 54.4,707.4 54.9,706.4 55.4,705.5 55.9,704.6 56.4,703.8 56.9,702.9 57.4,702.2 57.9,701.5 58.4,700.8 58.9,700.1 59.4,699.5 59.9,698.9 60.4,698.3 60.9,697.7 61.4,697.1 61.9,696.6 62.4,696 62.9,695.5 63.4,695 63.9,694.5 64.4,694.1 64.9,693.6 65.4,693.1 65.9,692.7 66.4,692.2 66.9,691.8 67.4,691.4 67.9,691 68.4,690.6 68.9,690.2 69.4,689.8 69.9,689.4 70.4,689 70.9,688.6 71.4,688.3 71.9,687.9 72.4,687.5 72.9,687.2 73.4,686.8 73.9,686.5 74.4,686.2 74.9,685.8 75.4,685.5 75.9,685.2 76.4,684.8 76.9,684.5 77.4,684.1 77.9,683.8 78.4,683.4 78.9,683 79.4,682.6 79.9,682.2 80.4,681.8 80.9,681.4 81.4,680.9 81.9,680.5 82.4,680 82.9,679.5 83.4,679 83.9,678.5 84.4,677.9 84.9,677.4 85.4,676.8 85.9,676.2 86.4,675.6 86.9,674.9 87.4,674.2 87.9,673.5 88.4,672.8 88.9,672 89.4,671.2 89.9,670.3 90.4,669.5 90.9,668.6 91.4,667.7 91.9,666.8 92.4,665.8 92.9,664.9 93.4,663.9 93.9,662.9 94.4,661.9 94.9,660.8 95.4,659.7 95.9,658.6 96.4,657.5 96.9,656.3 97.4,655.1 97.9,654 98.4,652.8 98.9,651.6 99.4,650.4 99.9,649.2 100.4,648 100.9,646.8 101.4,645.6 101.9,644.4 102.4,643.2 102.9,642.1 103.4,640.9 103.9,639.7 104.4,638.5 104.9,637.3 105.4,636.2 105.9,635 106.4,633.8 106.9,632.6 107.4,631.4 107.9,630.3 108.4,629.1 108.9,627.9 109.4,626.7 109.9,625.5 110.4,624.3 110.9,623 111.4,621.8 111.9,620.6 112.4,619.5 112.9,618.3 113.4,617.2 113.9,616 114.4,615 114.9,613.9 115.4,612.9 115.9,612 116.4,611 116.9,610.1 117.4,609.3 117.9,608.4 118.4,607.6 118.9,606.8 119.4,606 119.9,605.2 120.4,604.5 120.9,603.8 121.4,603.1 121.9,602.5 122.4,601.8 122.9,601.2 123.4,600.6 123.9,600 124.4,599.5 124.9,598.9 125.4,598.4 125.9,597.9 126.4,597.4 126.9,596.9 127.4,596.4 127.9,596 128.4,595.6 128.9,595.3 129.4,595 129.9,594.7 130.4,594.5 130.9,594.3 131.4,594.1 131.9,593.9 132.4,593.7 132.9,593.6 133.4,593.5 133.9,593.4 134.4,593.2 134.9,593.2 135.4,593.1 135.9,593 136.4,593 136.9,592.9 137.4,592.9 137.9,593 138.4,593 138.9,593.1 139.4,593.2 139.9,593.4 140.4,593.6 140.9,593.8 141.4,594 141.9,594.3 142.4,594.6 142.9,594.9 143.4,595.3 143.9,595.6 144.4,596 144.9,596.5 145.4,596.9 145.9,597.4 146.4,597.9 146.9,598.4 147.4,598.9 147.9,599.5 148.4,600.1 148.9,600.8 149.4,601.5 149.9,602.2 150.4,603 150.9,603.9 151.4,604.7 151.9,605.6 152.4,606.6 152.9,607.5 153.4,608.5 153.9,609.4 154.4,610.4 154.9,611.4 155.4,612.3 155.9,613.3 156.4,614.3 156.9,615.2 157.4,616.2 157.9,617.2 158.4,618.2 158.9,619.2 159.4,620.2 159.9,621.2 160.4,622.3 160.9,623.3 161.4,624.3 161.9,625.3 162.4,626.4 162.9,627.4 163.4,628.4 163.9,629.4 164.4,630.4 164.9,631.5 165.4,632.5 165.9,633.5 166.4,634.5 166.9,635.6 167.4,636.6 167.9,637.6 168.4,638.6 168.9,639.6 169.4,640.5 169.9,641.5 170.4,642.4 170.9,643.3 171.4,644.2 171.9,645.1 172.4,645.9 172.9,646.8 173.4,647.6 173.9,648.4 174.4,649.2 174.9,650 175.4,650.8 175.9,651.5 176.4,652.3 176.9,653 177.4,653.7 177.9,654.3 178.4,655 178.9,655.7 179.4,656.3 179.9,656.9 180.4,657.5 180.9,658.1 181.4,658.7 181.9,659.3 182.4,659.8 182.9,660.4 183.4,660.9 183.9,661.5 184.4,662 184.9,662.5 185.4,663 185.9,663.4 186.4,663.9 186.9,664.3 187.4,664.7 187.9,665.1 188.4,665.5 188.9,665.9 189.4,666.2 189.9,666.5 190.4,666.9 190.9,667.2 191.4,667.5 191.9,667.8 192.4,668.1 192.9,668.3 193.4,668.6 193.9,668.9 194.4,669.1 194.9,669.3 195.4,669.6 195.9,669.8 196.4,670 196.9,670.2 197.4,670.3 197.9,670.5 198.4,670.6 198.9,670.8 199.4,670.9 199.9,671 200.4,671.1 200.9,671.2 201.4,671.3 201.9,671.4 202.4,671.5 202.9,671.6 203.4,671.7 203.9,671.8 204.4,671.9 204.9,671.9 205.4,672 205.9,672.1 206.4,672.1 206.9,672.2 207.4,672.3 207.9,672.3 208.4,672.4 208.9,672.5 209.4,672.5 209.9,672.6 210.4,672.7 210.9,672.7 211.4,672.8 211.9,672.9 212.4,672.9 212.9,673 213.4,673.1 213.9,673.2 214.4,673.2 214.9,673.3 215.4,673.3 215.9,673.4 216.4,673.5 216.9,673.5 217.4,673.6 217.9,673.7 218.4,673.7 218.9,673.8 219.4,673.8 219.9,673.9 220.4,673.9 220.9,674 221.4,674 221.9,674.1 222.4,674.1 222.9,674.1 223.4,674.2 223.9,674.2 224.4,674.2 224.9,674.3 225.4,674.3 225.9,674.3 226.4,674.4 226.9,674.4 227.4,674.4 227.9,674.5 228.4,674.5 228.9,674.5 229.4,674.6 229.9,674.6 230.4,674.6 230.9,674.6 231.4,674.6 231.9,674.7 232.4,674.7 232.9,674.7 233.4,674.7 233.9,674.7 234.4,674.6 234.9,674.6 235.4,674.6 235.9,674.5 236.4,674.5 236.9,674.4 237.4,674.3 237.9,674.3 238.4,674.2 238.9,674 239.4,673.9 239.9,673.8 240.4,673.7 240.9,673.5 241.4,673.4 241.9,673.3 242.4,673.1 242.9,673 243.4,672.8 243.9,672.7 244.4,672.5 244.9,672.3 245.4,672.1 245.9,671.9 246.4,671.7 246.9,671.5 247.4,671.3 247.9,671.1 248.4,670.8 248.9,670.6 249.4,670.3 249.9,670 250.4,669.7 250.9,669.5 251.4,669.2 251.9,668.9 252.4,668.6 252.9,668.3 253.4,668 253.9,667.6 254.4,667.3 254.9,667 255.4,666.6 255.9,666.3 256.4,665.9 256.9,665.5 257.4,665.2 257.9,664.8 258.4,664.4 258.9,664 259.4,663.5 259.9,663.1 260.4,662.7 260.9,662.3 261.4,661.8 261.9,661.4 262.4,661 262.9,660.5 263.4,660.1 263.9,659.6 264.4,659.2 264.9,658.7 265.4,658.2 265.9,657.8 266.4,657.3 266.9,656.8 267.4,656.3 267.9,655.8 268.4,655.3 268.9,654.8 269.4,654.3 269.9,653.8 270.4,653.3 270.9,652.7 271.4,652.2 271.9,651.7 272.4,651.1 272.9,650.6 273.4,650.1 273.9,649.5 274.4,649 274.9,648.4 275.4,647.8 275.9,647.3 276.4,646.7 276.9,646.1 277.4,645.5 277.9,644.9 278.4,644.3 278.9,643.7 279.4,643.1 279.9,642.5 280.4,641.9 280.9,641.3 281.4,640.7 281.9,640.1 282.4,639.6 282.9,639 283.4,638.4 283.9,637.9 284.4,637.3 284.9,636.7 285.4,636.2 285.9,635.7 286.4,635.1 286.9,634.6 287.4,634 287.9,633.5 288.4,633 288.9,632.5 289.4,631.9 289.9,631.4 290.4,630.9 290.9,630.4 291.4,629.9 291.9,629.4 292.4,629 292.9,628.5 293.4,628 293.9,627.6 294.4,627.2 294.9,626.7 295.4,626.3 295.9,625.9 296.4,625.5 296.9,625.1 297.4,624.7 297.9,624.3 298.4,623.9 298.9,623.5 299.4,623.1 299.9,622.8 300.4,622.4 300.9,622.1 301.4,621.7 301.9,621.4 302.4,621.1 302.9,620.8 303.4,620.5 303.9,620.3 304.4,620 304.9,619.8 305.4,619.5 305.9,619.3 306.4,619.1 306.9,618.9 307.4,618.7 307.9,618.6 308.4,618.4 308.9,618.2 309.4,618 309.9,617.9 310.4,617.7 310.9,617.6 311.4,617.4 311.9,617.3 312.4,617.1 312.9,617 313.4,616.8 313.9,616.7 314.4,616.5 314.9,616.4 315.4,616.2 315.9,616.1 316.4,615.9 316.9,615.8 317.4,615.6 317.9,615.4 318.4,615.3 318.9,615.1 319.4,614.9 319.9,614.8 320.4,614.6 320.9,614.4 321.4,614.3 321.9,614.1 322.4,614 322.9,613.8 323.4,613.7 323.9,613.5 324.4,613.4 324.9,613.3 325.4,613.1 325.9,613 326.4,612.9 326.9,612.8 327.4,612.7 327.9,612.6 328.4,612.6 328.9,612.5 329.4,612.4 329.9,612.2 330.4,612.1 330.9,612 331.4,611.8 331.9,611.6 332.4,611.4 332.9,611.2 333.4,610.9 333.9,610.7 334.4,610.4 334.9,610.1 335.4,609.8 335.9,609.5 336.4,609.2 336.9,608.9 337.4,608.5 337.9,608.2 338.4,607.9 338.9,607.5 339.4,607.2 339.9,606.8 340.4,606.5 340.9,606.1 341.4,605.7 341.9,605.3 342.4,604.9 342.9,604.5 343.4,604 343.9,603.6 344.4,603.2 344.9,602.7 345.4,602.3 345.9,601.8 346.4,601.4 346.9,601 347.4,600.5 347.9,600.1 348.4,599.7 348.9,599.3 349.4,598.8 349.9,598.4 350.4,598 350.9,597.6 351.4,597.2 351.9,596.8 352.4,596.4 352.9,596 353.4,595.6 353.9,595.2 354.4,594.8 354.9,594.5 355.4,594.1 355.9,593.7 356.4,593.4 356.9,593 357.4,592.7 357.9,592.4 358.4,592.1 358.9,591.8 359.4,591.5 359.9,591.2 360.4,591 360.9,590.7 361.4,590.4 361.9,590.2 362.4,589.9 362.9,589.7 363.4,589.4 363.9,589.2 364.4,589 364.9,588.8 365.4,588.6 365.9,588.4 366.4,588.2 366.9,588.1 367.4,587.9 367.9,587.8 368.4,587.7 368.9,587.6 369.4,587.5 369.9,587.4 370.4,587.4 370.9,587.3 371.4,587.2 371.9,587.2 372.4,587.1 372.9,587 373.4,587 373.9,587 374.4,586.9 374.9,586.9 375.4,586.9 375.9,586.9 376.4,586.9 376.9,586.9 377.4,586.9 377.9,587 378.4,587 378.9,587.1 379.4,587.2 379.9,587.4 380.4,587.5 380.9,587.7 381.4,587.8 381.9,588 382.4,588.2 382.9,588.4 383.4,588.6 383.9,588.8 384.4,589.1 384.9,589.3 385.4,589.6 385.9,589.9 386.4,590.2 386.9,590.5 387.4,590.9 387.9,591.2 388.4,591.6 388.9,592 389.4,592.5 389.9,592.9 390.4,593.4 390.9,593.8 391.4,594.3 391.9,594.8 392.4,595.3 392.9,595.7 393.4,596.2 393.9,596.7 394.4,597.2 394.9,597.7 395.4,598.2 395.9,598.7 396.4,599.2 396.9,599.8 397.4,600.3 397.9,600.9 398.4,601.4 398.9,602 399.4,602.5 399.9,603.1 400.4,603.6 400.9,604.2 401.4,604.8 401.9,605.3 402.4,605.9 402.9,606.5 403.4,607 403.9,607.6 404.4,608.1 404.9,608.7 405.4,609.2 405.9,609.8 406.4,610.3 406.9,610.9 407.4,611.4 407.9,612 408.4,612.5 408.9,613 409.4,613.6 409.9,614.1 410.4,614.7 410.9,615.2 411.4,615.7 411.9,616.2 412.4,616.8 412.9,617.3 413.4,617.8 413.9,618.3 414.4,618.8 414.9,619.3 415.4,619.8 415.9,620.3 416.4,620.8 416.9,621.3 417.4,621.8 417.9,622.3 418.4,622.8 418.9,623.3 419.4,623.7 419.9,624.2 420.4,624.6 420.9,625.1 421.4,625.5 421.9,625.9 422.4,626.2 422.9,626.6 423.4,627 423.9,627.3 424.4,627.6 424.9,628 425.4,628.3 425.9,628.6 426.4,628.9 426.9,629.2 427.4,629.5 427.9,629.7 428.4,630 428.9,630.3 429.4,630.5 429.9,630.8 430.4,631 430.9,631.2 431.4,631.4 431.9,631.7 432.4,631.9 432.9,632 433.4,632.2 433.9,632.4 434.4,632.6 434.9,632.7 435.4,632.9 435.9,633 436.4,633.2 436.9,633.3 437.4,633.4 437.9,633.6 438.4,633.7 438.9,633.8 439.4,633.9 439.9,634 440.4,634.2 440.9,634.3 441.4,634.4 441.9,634.5 442.4,634.6 442.9,634.7 443.4,634.8 443.9,634.9 444.4,635 444.9,635.1 445.4,635.2 445.9,635.2 446.4,635.3 446.9,635.4 447.4,635.5 447.9,635.6 448.4,635.6 448.9,635.7 449.4,635.8 449.9,635.9 450.4,635.9 450.9,636 451.4,636.1 451.9,636.1 452.4,636.2 452.9,636.3 453.4,636.3 453.9,636.4 454.4,636.4 454.9,636.5 455.4,636.6 455.9,636.6 456.4,636.7 456.9,636.7 457.4,636.8 457.9,636.8 458.4,636.9 458.9,636.9 459.4,637 459.9,637 460.4,637.1 460.9,637.1 461.4,637.2 461.9,637.2 462.4,637.2 462.9,637.3 463.4,637.3 463.9,637.4 464.4,637.4 464.9,637.4 465.4,637.5 465.9,637.5 466.4,637.6 466.9,637.6 467.4,637.6 467.9,637.7 468.4,637.7 468.9,637.7 469.4,637.8 469.9,637.8 470.4,637.8 470.9,637.9 471.4,637.9 471.9,637.9 472.4,638 472.9,638 473.4,638 473.9,638.1 474.4,638.1 474.9,638.1 475.4,638.1 475.9,638.2 476.4,638.2 476.9,638.2 477.4,638.2 477.9,638.3 478.4,638.3 478.9,638.3 479.4,638.3 479.9,638.3 480.4,638.4 480.9,638.4 481.4,638.4 481.9,638.4 482.4,638.4 482.9,638.4 483.4,638.4 483.9,638.4 484.4,638.4 484.9,638.4 485.4,638.4 485.9,638.4 486.4,638.4 486.9,638.4 487.4,638.4 487.9,638.4 488.4,638.4 488.9,638.4 489.4,638.4 489.9,638.4 490.4,638.4 490.9,638.4 491.4,638.4 491.9,638.4 492.4,638.4" fill="none" stroke="#111111" stroke-width="2.0" stroke-linejoin="round" stroke-linecap="round"/>
<path d="M33.7,633.8 34.2,633.8 34.7,633.7 35.2,633.6 35.7,633.4 36.2,633.3 36.7,633.2 37.2,633.1 37.7,632.9 38.2,632.8 38.7,632.7 39.2,632.5 39.7,632.4 40.2,632.3 40.7,632.1 41.2,632 41.7,631.9 42.2,631.8 42.7,631.6 43.2,631.5 43.7,631.4 44.2,631.2 44.7,631.1 45.2,631 45.7,630.9 46.2,630.7 46.7,630.6 47.2,630.5 47.7,630.4 48.2,630.3 48.7,630.1 49.2,630 49.7,629.9 50.2,629.8 50.7,629.7 51.2,629.5 51.7,629.4 52.2,629.3 52.7,629.1 53.2,629 53.7,628.8 54.2,628.7 54.7,628.5 55.2,628.3 55.7,628.2 56.2,628 56.7,627.8 57.2,627.6 57.7,627.4 58.2,627.2 58.7,627 59.2,626.7 59.7,626.5 60.2,626.3 60.7,626 61.2,625.7 61.7,625.5 62.2,625.2 62.7,624.8 63.2,624.5 63.7,624.2 64.2,623.8 64.7,623.4 65.2,623 65.7,622.6 66.2,622.2 66.7,621.7 67.2,621.3 67.7,620.8 68.2,620.3 68.7,619.7 69.2,619.2 69.7,618.6 70.2,617.9 70.7,617.3 71.2,616.6 71.7,615.8 72.2,615 72.7,614.2 73.2,613.4 73.7,612.5 74.2,611.6 74.7,610.7 75.2,609.8 75.7,608.8 76.2,607.8 76.7,606.7 77.2,605.7 77.7,604.5 78.2,603.4 78.7,602.2 79.2,600.9 79.7,599.6 80.2,598.3 80.7,596.9 81.2,595.4 81.7,593.9 82.2,592.4 82.7,590.8 83.2,589.1 83.7,587.4 84.2,585.6 84.7,583.8 85.2,582 85.7,580.1 86.2,578.3 86.7,576.4 87.2,574.4 87.7,572.5 88.2,570.5 88.7,568.5 89.2,566.5 89.7,564.5 90.2,562.5 90.7,560.4 91.2,558.4 91.7,556.4 92.2,554.4 92.7,552.4 93.2,550.4 93.7,548.4 94.2,546.4 94.7,544.4 95.2,542.4 95.7,540.4 96.2,538.4 96.7,536.4 97.2,534.3 97.7,532.3 98.2,530.3 98.7,528.3 99.2,526.3 99.7,524.3 100.2,522.4 100.7,520.5 101.2,518.6 101.7,516.7 102.2,514.9 102.7,513.1 103.2,511.3 103.7,509.5 104.2,507.8 104.7,506.1 105.2,504.4 105.7,502.8 106.2,501.1 106.7,499.5 107.2,497.9 107.7,496.3 108.2,494.8 108.7,493.3 109.2,491.8 109.7,490.4 110.2,489.1 110.7,487.7 111.2,486.5 111.7,485.3 112.2,484.1 112.7,483 113.2,482 113.7,481 114.2,480.1 114.7,479.2 115.2,478.3 115.7,477.6 116.2,476.8 116.7,476.1 117.2,475.5 117.7,474.9 118.2,474.4 118.7,473.9 119.2,473.5 119.7,473.1 120.2,472.8 120.7,472.6 121.2,472.4 121.7,472.2 122.2,472.1 122.7,472 123.2,472 123.7,471.9 124.2,472 124.7,472 125.2,472.1 125.7,472.2 126.2,472.3 126.7,472.5 127.2,472.7 127.7,473 128.2,473.3 128.7,473.6 129.2,473.9 129.7,474.2 130.2,474.6 130.7,475 131.2,475.4 131.7,475.9 132.2,476.4 132.7,477 133.2,477.6 133.7,478.2 134.2,478.9 134.7,479.6 135.2,480.3 135.7,481.1 136.2,481.9 136.7,482.8 137.2,483.7 137.7,484.6 138.2,485.6 138.7,486.6 139.2,487.6 139.7,488.6 140.2,489.6 140.7,490.6 141.2,491.6 141.7,492.5 142.2,493.5 142.7,494.4 143.2,495.2 143.7,496.1 144.2,497 144.7,497.8 145.2,498.7 145.7,499.5 146.2,500.4 146.7,501.2 147.2,502.1 147.7,503 148.2,503.8 148.7,504.7 149.2,505.6 149.7,506.5 150.2,507.4 150.7,508.3 151.2,509.1 151.7,510 152.2,510.9 152.7,511.8 153.2,512.7 153.7,513.5 154.2,514.4 154.7,515.2 155.2,516 155.7,516.9 156.2,517.7 156.7,518.5 157.2,519.3 157.7,520.1 158.2,520.8 158.7,521.6 159.2,522.4 159.7,523.1 160.2,523.9 160.7,524.6 161.2,525.3 161.7,526.1 162.2,526.8 162.7,527.5 163.2,528.2 163.7,528.8 164.2,529.5 164.7,530.2 165.2,530.8 165.7,531.5 166.2,532.1 166.7,532.8 167.2,533.4 167.7,534 168.2,534.6 168.7,535.3 169.2,535.9 169.7,536.4 170.2,537 170.7,537.6 171.2,538.1 171.7,538.7 172.2,539.2 172.7,539.7 173.2,540.2 173.7,540.7 174.2,541.2 174.7,541.7 175.2,542.2 175.7,542.6 176.2,543.1 176.7,543.5 177.2,544 177.7,544.4 178.2,544.8 178.7,545.2 179.2,545.6 179.7,546.1 180.2,546.5 180.7,546.9 181.2,547.2 181.7,547.6 182.2,548 182.7,548.4 183.2,548.8 183.7,549.2 184.2,549.5 184.7,549.9 185.2,550.3 185.7,550.6 186.2,551 186.7,551.4 187.2,551.7 187.7,552.1 188.2,552.4 188.7,552.8 189.2,553.1 189.7,553.5 190.2,553.8 190.7,554.1 191.2,554.5 191.7,554.8 192.2,555.1 192.7,555.4 193.2,555.8 193.7,556.1 194.2,556.4 194.7,556.7 195.2,557 195.7,557.3 196.2,557.6 196.7,557.9 197.2,558.2 197.7,558.5 198.2,558.8 198.7,559.1 199.2,559.4 199.7,559.7 200.2,560 200.7,560.3 201.2,560.6 201.7,560.9 202.2,561.1 202.7,561.4 203.2,561.6 203.7,561.9 204.2,562.1 204.7,562.3 205.2,562.4 205.7,562.6 206.2,562.7 206.7,562.8 207.2,562.9 207.7,563 208.2,563.1 208.7,563.2 209.2,563.2 209.7,563.3 210.2,563.4 210.7,563.4 211.2,563.5 211.7,563.5 212.2,563.6 212.7,563.6 213.2,563.7 213.7,563.7 214.2,563.7 214.7,563.8 215.2,563.8 215.7,563.8 216.2,563.8 216.7,563.9 217.2,563.9 217.7,563.9 218.2,563.9 218.7,563.9 219.2,563.8 219.7,563.8 220.2,563.8 220.7,563.8 221.2,563.7 221.7,563.6 222.2,563.6 222.7,563.5 223.2,563.4 223.7,563.4 224.2,563.3 224.7,563.2 225.2,563.1 225.7,563 226.2,562.9 226.7,562.8 227.2,562.7 227.7,562.6 228.2,562.4 228.7,562.3 229.2,562.2 229.7,562.1 230.2,562 230.7,561.9 231.2,561.7 231.7,561.6 232.2,561.4 232.7,561.3 233.2,561.1 233.7,561 234.2,560.8 234.7,560.6 235.2,560.4 235.7,560.2 236.2,560 236.7,559.9 237.2,559.7 237.7,559.5 238.2,559.3 238.7,559.1 239.2,558.9 239.7,558.7 240.2,558.5 240.7,558.3 241.2,558.1 241.7,557.9 242.2,557.7 242.7,557.5 243.2,557.4 243.7,557.2 244.2,557 244.7,556.8 245.2,556.7 245.7,556.5 246.2,556.4 246.7,556.2 247.2,556 247.7,555.9 248.2,555.7 248.7,555.6 249.2,555.4 249.7,555.2 250.2,555.1 250.7,554.9 251.2,554.8 251.7,554.6 252.2,554.5 252.7,554.3 253.2,554.2 253.7,554.1 254.2,553.9 254.7,553.8 255.2,553.7 255.7,553.5 256.2,553.4 256.7,553.3 257.2,553.2 257.7,553.1 258.2,553 258.7,552.9 259.2,552.8 259.7,552.7 260.2,552.6 260.7,552.5 261.2,552.4 261.7,552.3 262.2,552.2 262.7,552.1 263.2,552 263.7,552 264.2,551.9 264.7,551.8 265.2,551.7 265.7,551.6 266.2,551.6 266.7,551.5 267.2,551.4 267.7,551.3 268.2,551.3 268.7,551.2 269.2,551.1 269.7,551.1 270.2,551 270.7,550.9 271.2,550.9 271.7,550.8 272.2,550.7 272.7,550.7 273.2,550.6 273.7,550.6 274.2,550.5 274.7,550.5 275.2,550.4 275.7,550.3 276.2,550.3 276.7,550.2 277.2,550.2 277.7,550.1 278.2,550.1 278.7,550.1 279.2,550 279.7,550 280.2,549.9 280.7,549.9 281.2,549.8 281.7,549.8 282.2,549.7 282.7,549.7 283.2,549.7 283.7,549.6 284.2,549.6 284.7,549.5 285.2,549.5 285.7,549.5 286.2,549.4 286.7,549.4 287.2,549.3 287.7,549.3 288.2,549.3 288.7,549.2 289.2,549.2 289.7,549.1 290.2,549.1 290.7,549.1 291.2,549 291.7,549 292.2,549 292.7,548.9 293.2,548.9 293.7,548.9 294.2,548.8 294.7,548.8 295.2,548.8 295.7,548.7 296.2,548.7 296.7,548.7 297.2,548.6 297.7,548.6 298.2,548.6 298.7,548.5 299.2,548.5 299.7,548.5 300.2,548.4 300.7,548.4 301.2,548.3 301.7,548.3 302.2,548.2 302.7,548.2 303.2,548.1 303.7,548.1 304.2,548 304.7,548 305.2,547.9 305.7,547.8 306.2,547.8 306.7,547.7 307.2,547.6 307.7,547.6 308.2,547.5 308.7,547.4 309.2,547.3 309.7,547.2 310.2,547.2 310.7,547.1 311.2,547 311.7,546.9 312.2,546.8 312.7,546.7 313.2,546.6 313.7,546.5 314.2,546.3 314.7,546.2 315.2,546.1 315.7,546 316.2,545.8 316.7,545.7 317.2,545.5 317.7,545.4 318.2,545.2 318.7,545 319.2,544.8 319.7,544.7 320.2,544.4 320.7,544.2 321.2,544 321.7,543.8 322.2,543.5 322.7,543.2 323.2,543 323.7,542.6 324.2,542.3 324.7,541.9 325.2,541.5 325.7,541.1 326.2,540.6 326.7,540.1 327.2,539.5 327.7,538.9 328.2,538.3 328.7,537.7 329.2,537.1 329.7,536.5 330.2,535.8 330.7,535.2 331.2,534.5 331.7,533.9 332.2,533.2 332.7,532.6 333.2,531.9 333.7,531.2 334.2,530.5 334.7,529.8 335.2,529 335.7,528.3 336.2,527.6 336.7,526.9 337.2,526.1 337.7,525.4 338.2,524.6 338.7,523.8 339.2,523.1 339.7,522.3 340.2,521.5 340.7,520.7 341.2,519.9 341.7,519.1 342.2,518.2 342.7,517.4 343.2,516.6 343.7,515.8 344.2,515 344.7,514.2 345.2,513.3 345.7,512.5 346.2,511.7 346.7,510.9 347.2,510.1 347.7,509.3 348.2,508.5 348.7,507.8 349.2,507 349.7,506.2 350.2,505.4 350.7,504.6 351.2,503.9 351.7,503.2 352.2,502.5 352.7,501.8 353.2,501.1 353.7,500.5 354.2,499.9 354.7,499.3 355.2,498.7 355.7,498.2 356.2,497.6 356.7,497.1 357.2,496.6 357.7,496.1 358.2,495.6 358.7,495.2 359.2,494.7 359.7,494.3 360.2,493.9 360.7,493.6 361.2,493.3 361.7,493 362.2,492.7 362.7,492.4 363.2,492.2 363.7,492 364.2,491.8 364.7,491.6 365.2,491.4 365.7,491.2 366.2,491 366.7,490.9 367.2,490.7 367.7,490.6 368.2,490.4 368.7,490.3 369.2,490.2 369.7,490.1 370.2,490 370.7,489.9 371.2,489.9 371.7,489.8 372.2,489.8 372.7,489.8 373.2,489.8 373.7,489.9 374.2,489.9 374.7,490 375.2,490.1 375.7,490.3 376.2,490.4 376.7,490.6 377.2,490.7 377.7,490.9 378.2,491.1 378.7,491.3 379.2,491.5 379.7,491.8 380.2,492 380.7,492.2 381.2,492.4 381.7,492.7 382.2,492.9 382.7,493.2 383.2,493.5 383.7,493.7 384.2,494 384.7,494.3 385.2,494.7 385.7,495 386.2,495.3 386.7,495.7 387.2,496 387.7,496.4 388.2,496.8 388.7,497.1 389.2,497.5 389.7,497.9 390.2,498.3 390.7,498.6 391.2,499 391.7,499.4 392.2,499.8 392.7,500.2 393.2,500.6 393.7,501 394.2,501.5 394.7,501.9 395.2,502.3 395.7,502.8 396.2,503.2 396.7,503.7 397.2,504.1 397.7,504.6 398.2,505 398.7,505.5 399.2,505.9 399.7,506.3 400.2,506.8 400.7,507.2 401.2,507.6 401.7,508 402.2,508.4 402.7,508.8 403.2,509.2 403.7,509.6 404.2,510 404.7,510.4 405.2,510.7 405.7,511.1 406.2,511.5 406.7,511.8 407.2,512.2 407.7,512.6 408.2,512.9 408.7,513.3 409.2,513.6 409.7,514 410.2,514.3 410.7,514.7 411.2,515 411.7,515.3 412.2,515.7 412.7,516 413.2,516.3 413.7,516.6 414.2,516.9 414.7,517.3 415.2,517.6 415.7,517.9 416.2,518.2 416.7,518.5 417.2,518.8 417.7,519.1 418.2,519.4 418.7,519.7 419.2,520 419.7,520.2 420.2,520.5 420.7,520.8 421.2,521.1 421.7,521.4 422.2,521.6 422.7,521.9 423.2,522.2 423.7,522.5 424.2,522.7 424.7,523 425.2,523.2 425.7,523.5 426.2,523.7 426.7,524 427.2,524.2 427.7,524.5 428.2,524.7 428.7,525 429.2,525.2 429.7,525.4 430.2,525.7 430.7,525.9 431.2,526.1 431.7,526.4 432.2,526.6 432.7,526.8 433.2,527 433.7,527.3 434.2,527.5 434.7,527.7 435.2,527.9 435.7,528.1 436.2,528.3 436.7,528.5 437.2,528.7 437.7,528.9 438.2,529.1 438.7,529.3 439.2,529.4 439.7,529.6 440.2,529.8 440.7,530 441.2,530.2 441.7,530.3 442.2,530.5 442.7,530.7 443.2,530.8 443.7,531 444.2,531.2 444.7,531.3 445.2,531.5 445.7,531.6 446.2,531.8 446.7,531.9 447.2,532.1 447.7,532.2 448.2,532.4 448.7,532.5 449.2,532.6 449.7,532.7 450.2,532.8 450.7,532.9 451.2,533 451.7,533.1 452.2,533.2 452.7,533.3 453.2,533.4 453.7,533.5 454.2,533.6 454.7,533.6 455.2,533.7 455.7,533.8 456.2,533.9 456.7,533.9 457.2,534 457.7,534.1 458.2,534.1 458.7,534.2 459.2,534.2 459.7,534.3 460.2,534.3 460.7,534.4 461.2,534.4 461.7,534.4 462.2,534.4 462.7,534.5 463.2,534.5 463.7,534.5 464.2,534.5 464.7,534.5 465.2,534.5 465.7,534.4 466.2,534.4 466.7,534.4 467.2,534.4 467.7,534.3 468.2,534.3 468.7,534.2 469.2,534.2 469.7,534.1 470.2,534.1 470.7,534.1 471.2,534 471.7,533.9 472.2,533.9 472.7,533.8 473.2,533.8 473.7,533.7 474.2,533.7 474.7,533.6 475.2,533.6 475.7,533.5 476.2,533.5 476.7,533.4 477.2,533.4 477.7,533.3 478.2,533.2 478.7,533.2 479.2,533.1 479.7,533.1 480.2,533 480.7,532.9 481.2,532.9 481.7,532.8 482.2,532.7 482.7,532.7 483.2,532.6 483.7,532.5 484.2,532.5 484.7,532.4 485.2,532.3 485.7,532.2 486.2,532.2 486.7,532.1 487.2,532 487.7,531.9 488.2,531.9 488.7,531.8 489.2,531.7 489.7,531.6 490.2,531.5 490.7,531.5 491.2,531.4 491.7,531.3 492.2,531.3 492.7,531.2" fill="none" stroke="#2222aa" stroke-width="2.0" stroke-linejoin="round" stroke-linecap="round"/>
<rect x="33.7" y="414.8" width="459.1" height="336.3" fill="none" stroke="#2a2a2a" stroke-width="1.5"/>
<text x="33.7" y="781" font-size="24" text-anchor="middle">705</text>
<text x="125.5" y="781" font-size="24" text-anchor="middle">710</text>
<text x="217.3" y="781" font-size="24" text-anchor="middle">715</text>
<text x="309.1" y="781" font-size="24" text-anchor="middle">720</text>
<text x="400.9" y="781" font-size="24" text-anchor="middle">725</text>
<text x="492.7" y="781" font-size="24" text-anchor="middle">730</text>
<text x="262.9" y="805.4" font-size="27.3" font-weight="bold" text-anchor="middle">Binding Energy (eV)</text>
<text transform="translate(25.1,580.1) rotate(-90)" font-size="28.2" font-weight="bold" text-anchor="middle">Intensity/ a.u.</text>
<text x="44.6" y="436.4" font-size="18.5" font-weight="bold">C</text>
<text x="39.2" y="465.6" font-size="18" font-weight="bold">Fe2p</text>
<text x="415.8" y="486.6" font-size="17.5">9T/P-LFO</text>
<text x="442.3" y="603.9" font-size="17.5">P-LFO</text>
<line x1="139.4" y1="629.2" x2="139.4" y2="611.4" stroke="#3a3a3a" stroke-width="1.2"/>
<path d="M139.4,603.4 L142,612.4 L136.8,612.4 Z" fill="#1a1a1a"/>
<text x="132.4" y="646.6" font-size="17.5">2p<tspan font-size="10.8" dy="7" dx="0.5">3/2</tspan></text>
<line x1="377.6" y1="622.2" x2="377.6" y2="604.4" stroke="#3a3a3a" stroke-width="1.2"/>
<path d="M377.6,596.4 L380.2,605.4 L375,605.4 Z" fill="#1a1a1a"/>
<text x="369.5" y="641" font-size="17.5">2p<tspan font-size="10.8" dy="7" dx="0.5">1/2</tspan></text>
<line x1="538.9" y1="750.1" x2="538.9" y2="757.1" stroke="#2a2a2a" stroke-width="1.4"/>
<line x1="735.6" y1="750.1" x2="735.6" y2="757.1" stroke="#2a2a2a" stroke-width="1.4"/>
<line x1="932.4" y1="750.1" x2="932.4" y2="757.1" stroke="#2a2a2a" stroke-width="1.4"/>
<line x1="637.3" y1="750.1" x2="637.3" y2="754.1" stroke="#2a2a2a" stroke-width="1.4"/>
<line x1="834" y1="750.1" x2="834" y2="754.1" stroke="#2a2a2a" stroke-width="1.4"/>
<path d="M559.5,728.3 560,728.3 560.5,728.3 561,728.3 561.5,728.3 562,728.3 562.5,728.3 563,728.3 563.5,728.3 564,728.3 564.5,728.3 565,728.3 565.5,728.3 566,728.3 566.5,728.3 567,728.3 567.5,728.3 568,728.3 568.5,728.3 569,728.3 569.5,728.3 570,728.3 570.5,728.3 571,728.3 571.5,728.3 572,728.3 572.5,728.3 573,728.3 573.5,728.3 574,728.3 574.5,728.3 575,728.3 575.5,728.3 576,728.3 576.5,728.3 577,728.3 577.5,728.3 578,728.3 578.5,728.2 579,728.2 579.5,728.2 580,728.2 580.5,728.2 581,728.2 581.5,728.2 582,728.2 582.5,728.2 583,728.2 583.5,728.2 584,728.2 584.5,728.2 585,728.2 585.5,728.2 586,728.2 586.5,728.2 587,728.2 587.5,728.2 588,728.2 588.5,728.2 589,728.2 589.5,728.2 590,728.2 590.5,728.2 591,728.2 591.5,728.2 592,728.2 592.5,728.2 593,728.2 593.5,728.2 594,728.1 594.5,728.1 595,728.1 595.5,728.1 596,728.1 596.5,728.1 597,728.1 597.5,728.1 598,728.1 598.5,728.1 599,728.1 599.5,728.1 600,728.1 600.5,728.1 601,728.1 601.5,728.1 602,728.1 602.5,728.1 603,728.1 603.5,728.1 604,728.1 604.5,728 605,728 605.5,728 606,728 606.5,728 607,728 607.5,728 608,728 608.5,728 609,728 609.5,727.9 610,727.9 610.5,727.9 611,727.9 611.5,727.9 612,727.9 612.5,727.9 613,727.9 613.5,727.8 614,727.8 614.5,727.8 615,727.8 615.5,727.8 616,727.8 616.5,727.8 617,727.7 617.5,727.7 618,727.7 618.5,727.7 619,727.7 619.5,727.7 620,727.7 620.5,727.6 621,727.6 621.5,727.6 622,727.6 622.5,727.6 623,727.6 623.5,727.5 624,727.5 624.5,727.5 625,727.5 625.5,727.5 626,727.4 626.5,727.4 627,727.4 627.5,727.4 628,727.4 628.5,727.4 629,727.3 629.5,727.3 630,727.3 630.5,727.3 631,727.3 631.5,727.2 632,727.2 632.5,727.2 633,727.2 633.5,727.2 634,727.1 634.5,727.1 635,727.1 635.5,727.1 636,727.1 636.5,727 637,727 637.5,727 638,727 638.5,726.9 639,726.9 639.5,726.9 640,726.9 640.5,726.8 641,726.8 641.5,726.8 642,726.8 642.5,726.7 643,726.7 643.5,726.7 644,726.7 644.5,726.6 645,726.6 645.5,726.6 646,726.5 646.5,726.5 647,726.5 647.5,726.4 648,726.4 648.5,726.4 649,726.4 649.5,726.3 650,726.3 650.5,726.2 651,726.2 651.5,726.2 652,726.1 652.5,726.1 653,726.1 653.5,726 654,726 654.5,726 655,725.9 655.5,725.9 656,725.8 656.5,725.8 657,725.8 657.5,725.7 658,725.7 658.5,725.6 659,725.6 659.5,725.5 660,725.5 660.5,725.4 661,725.4 661.5,725.3 662,725.3 662.5,725.2 663,725.2 663.5,725.1 664,725.1 664.5,725 665,724.9 665.5,724.9 666,724.8 666.5,724.7 667,724.7 667.5,724.6 668,724.5 668.5,724.4 669,724.4 669.5,724.3 670,724.2 670.5,724.1 671,724 671.5,724 672,723.9 672.5,723.8 673,723.7 673.5,723.6 674,723.5 674.5,723.4 675,723.3 675.5,723.2 676,723.1 676.5,723 677,722.9 677.5,722.8 678,722.7 678.5,722.6 679,722.5 679.5,722.4 680,722.3 680.5,722.2 681,722.1 681.5,722 682,721.9 682.5,721.8 683,721.7 683.5,721.6 684,721.4 684.5,721.3 685,721.2 685.5,721.1 686,721 686.5,720.9 687,720.8 687.5,720.6 688,720.5 688.5,720.4 689,720.3 689.5,720.1 690,720 690.5,719.9 691,719.7 691.5,719.6 692,719.4 692.5,719.3 693,719.1 693.5,719 694,718.8 694.5,718.7 695,718.5 695.5,718.3 696,718.2 696.5,718 697,717.9 697.5,717.7 698,717.5 698.5,717.4 699,717.2 699.5,717.1 700,716.9 700.5,716.8 701,716.6 701.5,716.5 702,716.3 702.5,716.1 703,716 703.5,715.8 704,715.7 704.5,715.5 705,715.4 705.5,715.2 706,715.1 706.5,714.9 707,714.8 707.5,714.6 708,714.5 708.5,714.3 709,714.2 709.5,714 710,713.9 710.5,713.7 711,713.6 711.5,713.4 712,713.3 712.5,713.1 713,713 713.5,712.8 714,712.7 714.5,712.6 715,712.4 715.5,712.3 716,712.1 716.5,712 717,711.9 717.5,711.7 718,711.6 718.5,711.4 719,711.3 719.5,711.2 720,711 720.5,710.9 721,710.7 721.5,710.6 722,710.5 722.5,710.4 723,710.2 723.5,710.1 724,710 724.5,709.9 725,709.7 725.5,709.6 726,709.5 726.5,709.4 727,709.3 727.5,709.2 728,709.1 728.5,709 729,708.9 729.5,708.8 730,708.7 730.5,708.6 731,708.6 731.5,708.5 732,708.4 732.5,708.3 733,708.2 733.5,708.2 734,708.1 734.5,708 735,708 735.5,707.9 736,707.8 736.5,707.8 737,707.7 737.5,707.6 738,707.6 738.5,707.5 739,707.4 739.5,707.4 740,707.3 740.5,707.2 741,707.1 741.5,707.1 742,707 742.5,706.9 743,706.9 743.5,706.8 744,706.7 744.5,706.6 745,706.6 745.5,706.5 746,706.4 746.5,706.3 747,706.3 747.5,706.2 748,706.1 748.5,706.1 749,706 749.5,705.9 750,705.8 750.5,705.8 751,705.7 751.5,705.6 752,705.5 752.5,705.5 753,705.4 753.5,705.3 754,705.3 754.5,705.2 755,705.1 755.5,705 756,705 756.5,704.9 757,704.8 757.5,704.7 758,704.7 758.5,704.6 759,704.5 759.5,704.4 760,704.4 760.5,704.3 761,704.2 761.5,704.1 762,704.1 762.5,704 763,703.9 763.5,703.8 764,703.8 764.5,703.7 765,703.6 765.5,703.5 766,703.5 766.5,703.4 767,703.3 767.5,703.2 768,703.1 768.5,703 769,703 769.5,702.9 770,702.8 770.5,702.7 771,702.6 771.5,702.5 772,702.4 772.5,702.3 773,702.2 773.5,702.1 774,702 774.5,701.9 775,701.8 775.5,701.7 776,701.6 776.5,701.5 777,701.4 777.5,701.3 778,701.2 778.5,701.1 779,701 779.5,700.9 780,700.8 780.5,700.7 781,700.6 781.5,700.5 782,700.4 782.5,700.3 783,700.2 783.5,700.1 784,700 784.5,699.9 785,699.8 785.5,699.8 786,699.7 786.5,699.6 787,699.5 787.5,699.4 788,699.3 788.5,699.2 789,699.1 789.5,699.1 790,699 790.5,698.9 791,698.8 791.5,698.7 792,698.6 792.5,698.6 793,698.5 793.5,698.4 794,698.3 794.5,698.2 795,698.2 795.5,698.1 796,698 796.5,697.9 797,697.8 797.5,697.8 798,697.7 798.5,697.6 799,697.5 799.5,697.5 800,697.4 800.5,697.3 801,697.3 801.5,697.2 802,697.1 802.5,697 803,697 803.5,696.9 804,696.8 804.5,696.8 805,696.7 805.5,696.6 806,696.6 806.5,696.5 807,696.4 807.5,696.4 808,696.3 808.5,696.2 809,696.2 809.5,696.1 810,696 810.5,696 811,695.9 811.5,695.9 812,695.8 812.5,695.7 813,695.7 813.5,695.6 814,695.6 814.5,695.5 815,695.4 815.5,695.4 816,695.3 816.5,695.3 817,695.2 817.5,695.1 818,695.1 818.5,695 819,695 819.5,694.9 820,694.8 820.5,694.8 821,694.7 821.5,694.7 822,694.6 822.5,694.5 823,694.5 823.5,694.4 824,694.4 824.5,694.3 825,694.3 825.5,694.2 826,694.1 826.5,694.1 827,694 827.5,694 828,693.9 828.5,693.9 829,693.8 829.5,693.8 830,693.7 830.5,693.7 831,693.6 831.5,693.6 832,693.5 832.5,693.5 833,693.4 833.5,693.4 834,693.4 834.5,693.3 835,693.3 835.5,693.2 836,693.2 836.5,693.2 837,693.1 837.5,693.1 838,693.1 838.5,693 839,693 839.5,693 840,692.9 840.5,692.9 841,692.9 841.5,692.9 842,692.8 842.5,692.8 843,692.8 843.5,692.8 844,692.7 844.5,692.7 845,692.7 845.5,692.7 846,692.6 846.5,692.6 847,692.6 847.5,692.6 848,692.5 848.5,692.5 849,692.5 849.5,692.5 850,692.4 850.5,692.4 851,692.4 851.5,692.4 852,692.4 852.5,692.3 853,692.3 853.5,692.3 854,692.3 854.5,692.3 855,692.2 855.5,692.2 856,692.2 856.5,692.2 857,692.2 857.5,692.2 858,692.2 858.5,692.2 859,692.1 859.5,692.1 860,692.1 860.5,692.1 861,692.1 861.5,692.1 862,692.1 862.5,692.1 863,692.1 863.5,692.1 864,692.1 864.5,692.1 865,692.1 865.5,692.1 866,692.1 866.5,692.1 867,692.1 867.5,692.1 868,692.1 868.5,692.1 869,692.1 869.5,692.1 870,692.1 870.5,692.1 871,692.1 871.5,692.1 872,692.1 872.5,692.2 873,692.2 873.5,692.2 874,692.2 874.5,692.2 875,692.2 875.5,692.2 876,692.2 876.5,692.2 877,692.2 877.5,692.2 878,692.2 878.5,692.2 879,692.2 879.5,692.2 880,692.2 880.5,692.3 881,692.3 881.5,692.3 882,692.3 882.5,692.3 883,692.3 883.5,692.3 884,692.3 884.5,692.3 885,692.3 885.5,692.3 886,692.3 886.5,692.3 887,692.4 887.5,692.4 888,692.4 888.5,692.4 889,692.4 889.5,692.4 890,692.4 890.5,692.4 891,692.4 891.5,692.4 892,692.4 892.5,692.4 893,692.4 893.5,692.5 894,692.5 894.5,692.5 895,692.5 895.5,692.5 896,692.5 896.5,692.5 897,692.5 897.5,692.5 898,692.5 898.5,692.6 899,692.6 899.5,692.6 900,692.6 900.5,692.6 901,692.6 901.5,692.6 902,692.6 902.5,692.6 903,692.7 903.5,692.7 904,692.7 904.5,692.7 905,692.7 905.5,692.7 906,692.7 906.5,692.7 907,692.8 907.5,692.8 908,692.8 908.5,692.8 909,692.8 909.5,692.8 910,692.8 910.5,692.8 911,692.9 911.5,692.9 912,692.9 912.5,692.9 913,692.9 913.5,692.9 914,692.9 914.5,693 915,693 915.5,693 916,693 916.5,693 917,693 917.5,693 918,693.1 918.5,693.1 919,693.1 919.5,693.1 920,693.1 920.5,693.1 921,693.2 921.5,693.2 922,693.2 922.5,693.2 923,693.2 923.5,693.2 924,693.2 924.5,693.3 925,693.3 925.5,693.3 926,693.3 926.5,693.3 927,693.3 927.5,693.3 928,693.4 928.5,693.4 929,693.4 929.5,693.4 930,693.4 930.5,693.4 931,693.5 931.5,693.5 932,693.5 932.5,693.5 933,693.5 933.5,693.5 934,693.5 934.5,693.6 935,693.6 935.5,693.6 936,693.6 936.5,693.6 937,693.6 937.5,693.7 938,693.7 938.5,693.7 939,693.7 939.5,693.7 940,693.7 940.5,693.7 941,693.8 941.5,693.8 942,693.8 942.5,693.8 943,693.8 943.5,693.8 944,693.8 944.5,693.9 945,693.9 945.5,693.9 946,693.9 946.5,693.9 947,693.9 947.5,693.9 948,693.9 948.5,694 949,694 949.5,694 950,694 950.5,694 951,694 951.5,694 952,694.1 952.5,694.1 953,694.1 953.5,694.1 954,694.1 954.5,694.1 955,694.1 955.5,694.1 956,694.2 956.5,694.2 957,694.2 957.5,694.2 958,694.2 958.5,694.2 959,694.2 959.5,694.2 960,694.3 960.5,694.3 961,694.3 961.5,694.3 962,694.3 962.5,694.3 963,694.3 963.5,694.3 964,694.4 964.5,694.4 965,694.4 965.5,694.4 966,694.4 966.5,694.4 967,694.4 967.5,694.4 968,694.5 968.5,694.5 969,694.5 969.5,694.5 970,694.5 970.5,694.5 971,694.5 971.5,694.5 972,694.6 972.5,694.6 973,694.6 973.5,694.6 974,694.6 974.5,694.6 975,694.6 975.5,694.6 976,694.7 976.5,694.7 977,694.7 977.5,694.7 978,694.7 978.5,694.7 979,694.7 979.5,694.7 980,694.8 980.5,694.8 981,694.8 981.5,694.8 982,694.8 982.5,694.8 983,694.8 983.5,694.8 984,694.9 984.5,694.9 985,694.9 985.5,694.9 986,694.9 986.5,694.9 987,694.9 987.5,694.9 988,694.9 988.5,695 989,695 989.5,695 990,695 990.5,695 991,695 991.5,695 992,695 992.5,695.1 993,695.1 993.5,695.1 994,695.1 994.5,695.1 995,695.1 995.5,695.1 996,695.1 996.5,695.2 997,695.2 997.5,695.2 998,695.2 998.5,695.2 999,695.2 999.5,695.2 1000,695.2 1000.5,695.3 1001,695.3 1001.5,695.3 1002,695.3 1002.5,695.3 1003,695.3 1003.5,695.3 1004,695.3 1004.5,695.3 1005,695.4 1005.5,695.4 1006,695.4 1006.5,695.4 1007,695.4 1007.5,695.4 1008,695.4 1008.5,695.4 1009,695.5 1009.5,695.5 1010,695.5 1010.5,695.5 1011,695.5" fill="none" stroke="#4cd84c" stroke-width="2.0" stroke-linejoin="round" stroke-linecap="round"/>
<path d="M559.5,727.9 560,727.9 560.5,727.9 561,727.9 561.5,727.9 562,727.9 562.5,727.9 563,727.9 563.5,727.9 564,727.9 564.5,727.9 565,727.9 565.5,727.9 566,727.9 566.5,727.9 567,727.9 567.5,727.9 568,727.9 568.5,727.9 569,727.9 569.5,727.9 570,727.9 570.5,727.9 571,727.9 571.5,727.9 572,727.9 572.5,727.9 573,727.9 573.5,727.9 574,727.9 574.5,727.9 575,727.9 575.5,727.9 576,727.9 576.5,727.9 577,727.9 577.5,727.9 578,727.9 578.5,727.9 579,727.9 579.5,727.8 580,727.8 580.5,727.8 581,727.8 581.5,727.8 582,727.8 582.5,727.8 583,727.8 583.5,727.8 584,727.8 584.5,727.8 585,727.8 585.5,727.8 586,727.8 586.5,727.8 587,727.8 587.5,727.8 588,727.8 588.5,727.8 589,727.8 589.5,727.8 590,727.8 590.5,727.8 591,727.8 591.5,727.8 592,727.8 592.5,727.8 593,727.8 593.5,727.8 594,727.8 594.5,727.7 595,727.7 595.5,727.7 596,727.7 596.5,727.7 597,727.7 597.5,727.7 598,727.7 598.5,727.7 599,727.7 599.5,727.7 600,727.7 600.5,727.7 601,727.7 601.5,727.7 602,727.7 602.5,727.7 603,727.7 603.5,727.6 604,727.6 604.5,727.6 605,727.6 605.5,727.6 606,727.6 606.5,727.6 607,727.5 607.5,727.5 608,727.5 608.5,727.5 609,727.5 609.5,727.5 610,727.4 610.5,727.4 611,727.4 611.5,727.4 612,727.3 612.5,727.3 613,727.3 613.5,727.3 614,727.2 614.5,727.2 615,727.2 615.5,727.2 616,727.1 616.5,727.1 617,727.1 617.5,727 618,727 618.5,727 619,727 619.5,726.9 620,726.9 620.5,726.9 621,726.8 621.5,726.8 622,726.8 622.5,726.7 623,726.7 623.5,726.7 624,726.6 624.5,726.6 625,726.6 625.5,726.5 626,726.5 626.5,726.5 627,726.4 627.5,726.4 628,726.3 628.5,726.3 629,726.3 629.5,726.2 630,726.2 630.5,726.2 631,726.1 631.5,726.1 632,726 632.5,726 633,725.9 633.5,725.9 634,725.9 634.5,725.8 635,725.8 635.5,725.7 636,725.7 636.5,725.6 637,725.5 637.5,725.5 638,725.4 638.5,725.4 639,725.3 639.5,725.3 640,725.2 640.5,725.1 641,725.1 641.5,725 642,724.9 642.5,724.9 643,724.8 643.5,724.7 644,724.7 644.5,724.6 645,724.5 645.5,724.4 646,724.4 646.5,724.3 647,724.2 647.5,724.1 648,724.1 648.5,724 649,723.9 649.5,723.8 650,723.7 650.5,723.7 651,723.6 651.5,723.5 652,723.4 652.5,723.3 653,723.2 653.5,723.2 654,723.1 654.5,723 655,722.9 655.5,722.8 656,722.7 656.5,722.6 657,722.5 657.5,722.5 658,722.4 658.5,722.3 659,722.2 659.5,722.1 660,722 660.5,721.9 661,721.8 661.5,721.7 662,721.6 662.5,721.5 663,721.4 663.5,721.3 664,721.2 664.5,721 665,720.9 665.5,720.8 666,720.7 666.5,720.6 667,720.4 667.5,720.3 668,720.2 668.5,720 669,719.9 669.5,719.8 670,719.6 670.5,719.5 671,719.4 671.5,719.2 672,719.1 672.5,718.9 673,718.8 673.5,718.7 674,718.5 674.5,718.4 675,718.2 675.5,718 676,717.9 676.5,717.7 677,717.6 677.5,717.4 678,717.2 678.5,717.1 679,716.9 679.5,716.7 680,716.5 680.5,716.4 681,716.2 681.5,716 682,715.8 682.5,715.6 683,715.5 683.5,715.3 684,715.1 684.5,714.9 685,714.7 685.5,714.5 686,714.3 686.5,714.1 687,713.9 687.5,713.7 688,713.5 688.5,713.3 689,713.1 689.5,712.9 690,712.7 690.5,712.5 691,712.3 691.5,712.1 692,711.9 692.5,711.6 693,711.4 693.5,711.2 694,711 694.5,710.8 695,710.5 695.5,710.3 696,710.1 696.5,709.8 697,709.6 697.5,709.4 698,709.1 698.5,708.9 699,708.7 699.5,708.4 700,708.2 700.5,707.9 701,707.7 701.5,707.4 702,707.2 702.5,707 703,706.7 703.5,706.4 704,706.2 704.5,705.9 705,705.7 705.5,705.4 706,705.1 706.5,704.9 707,704.6 707.5,704.3 708,704.1 708.5,703.8 709,703.5 709.5,703.2 710,703 710.5,702.7 711,702.4 711.5,702.1 712,701.8 712.5,701.5 713,701.2 713.5,700.9 714,700.6 714.5,700.3 715,700 715.5,699.7 716,699.4 716.5,699.1 717,698.7 717.5,698.4 718,698.1 718.5,697.8 719,697.4 719.5,697.1 720,696.8 720.5,696.4 721,696.1 721.5,695.7 722,695.4 722.5,695 723,694.7 723.5,694.3 724,693.9 724.5,693.6 725,693.2 725.5,692.8 726,692.4 726.5,692.1 727,691.7 727.5,691.3 728,690.9 728.5,690.5 729,690.1 729.5,689.7 730,689.3 730.5,689 731,688.6 731.5,688.2 732,687.8 732.5,687.4 733,687 733.5,686.5 734,686.1 734.5,685.7 735,685.2 735.5,684.8 736,684.3 736.5,683.9 737,683.4 737.5,682.9 738,682.4 738.5,681.8 739,681.3 739.5,680.7 740,680.1 740.5,679.5 741,678.8 741.5,678.1 742,677.4 742.5,676.7 743,675.9 743.5,675.2 744,674.4 744.5,673.6 745,672.8 745.5,672 746,671.2 746.5,670.3 747,669.5 747.5,668.7 748,667.9 748.5,667 749,666.2 749.5,665.3 750,664.5 750.5,663.6 751,662.7 751.5,661.8 752,660.9 752.5,660 753,659.1 753.5,658.1 754,657.2 754.5,656.2 755,655.2 755.5,654.1 756,653.1 756.5,652 757,650.8 757.5,649.6 758,648.4 758.5,647.2 759,645.9 759.5,644.6 760,643.3 760.5,641.9 761,640.5 761.5,639 762,637.5 762.5,636 763,634.5 763.5,632.9 764,631.3 764.5,629.6 765,627.9 765.5,626.3 766,624.6 766.5,622.8 767,621.1 767.5,619.3 768,617.5 768.5,615.7 769,613.9 769.5,612.1 770,610.3 770.5,608.4 771,606.6 771.5,604.7 772,602.8 772.5,600.9 773,599 773.5,597 774,595.1 774.5,593.1 775,591.2 775.5,589.2 776,587.3 776.5,585.4 777,583.4 777.5,581.5 778,579.6 778.5,577.7 779,575.8 779.5,573.9 780,572 780.5,570.2 781,568.5 781.5,566.8 782,565.2 782.5,563.7 783,562.2 783.5,560.8 784,559.5 784.5,558.2 785,557 785.5,555.9 786,554.9 786.5,554 787,553.2 787.5,552.5 788,551.8 788.5,551.2 789,550.6 789.5,550 790,549.5 790.5,549.1 791,548.7 791.5,548.3 792,548.1 792.5,547.9 793,547.8 793.5,547.8 794,547.9 794.5,548 795,548.3 795.5,548.6 796,549 796.5,549.4 797,549.9 797.5,550.5 798,551.1 798.5,551.8 799,552.5 799.5,553.4 800,554.3 800.5,555.4 801,556.6 801.5,557.9 802,559.4 802.5,561 803,562.7 803.5,564.5 804,566.4 804.5,568.4 805,570.4 805.5,572.5 806,574.6 806.5,576.7 807,578.8 807.5,580.8 808,582.8 808.5,584.7 809,586.5 809.5,588.3 810,590 810.5,591.7 811,593.4 811.5,595 812,596.7 812.5,598.3 813,599.9 813.5,601.4 814,602.9 814.5,604.4 815,605.9 815.5,607.3 816,608.7 816.5,610.1 817,611.4 817.5,612.7 818,614 818.5,615.3 819,616.5 819.5,617.8 820,619 820.5,620.1 821,621.3 821.5,622.5 822,623.6 822.5,624.7 823,625.8 823.5,626.8 824,627.9 824.5,628.9 825,629.9 825.5,630.9 826,631.9 826.5,632.9 827,633.8 827.5,634.8 828,635.7 828.5,636.6 829,637.5 829.5,638.4 830,639.3 830.5,640.1 831,641 831.5,641.8 832,642.7 832.5,643.5 833,644.3 833.5,645.1 834,645.9 834.5,646.7 835,647.4 835.5,648.2 836,648.9 836.5,649.6 837,650.3 837.5,651 838,651.7 838.5,652.4 839,653.1 839.5,653.7 840,654.4 840.5,655 841,655.7 841.5,656.3 842,656.9 842.5,657.5 843,658.1 843.5,658.7 844,659.3 844.5,659.9 845,660.4 845.5,661 846,661.5 846.5,662.1 847,662.6 847.5,663.1 848,663.6 848.5,664.1 849,664.6 849.5,665 850,665.5 850.5,665.9 851,666.3 851.5,666.7 852,667.1 852.5,667.5 853,667.9 853.5,668.3 854,668.6 854.5,669 855,669.4 855.5,669.7 856,670.1 856.5,670.4 857,670.7 857.5,671.1 858,671.4 858.5,671.7 859,672 859.5,672.4 860,672.7 860.5,673 861,673.3 861.5,673.6 862,673.8 862.5,674.1 863,674.4 863.5,674.7 864,674.9 864.5,675.2 865,675.4 865.5,675.7 866,675.9 866.5,676.2 867,676.4 867.5,676.6 868,676.9 868.5,677.1 869,677.3 869.5,677.5 870,677.7 870.5,677.9 871,678.1 871.5,678.3 872,678.5 872.5,678.7 873,678.9 873.5,679.1 874,679.3 874.5,679.5 875,679.6 875.5,679.8 876,680 876.5,680.2 877,680.3 877.5,680.5 878,680.7 878.5,680.8 879,681 879.5,681.2 880,681.3 880.5,681.5 881,681.6 881.5,681.8 882,681.9 882.5,682.1 883,682.2 883.5,682.3 884,682.5 884.5,682.6 885,682.7 885.5,682.8 886,683 886.5,683.1 887,683.2 887.5,683.3 888,683.4 888.5,683.5 889,683.6 889.5,683.7 890,683.8 890.5,683.9 891,684 891.5,684.1 892,684.1 892.5,684.2 893,684.3 893.5,684.4 894,684.5 894.5,684.6 895,684.6 895.5,684.7 896,684.8 896.5,684.9 897,685 897.5,685 898,685.1 898.5,685.2 899,685.3 899.5,685.3 900,685.4 900.5,685.5 901,685.6 901.5,685.6 902,685.7 902.5,685.8 903,685.9 903.5,685.9 904,686 904.5,686.1 905,686.1 905.5,686.2 906,686.3 906.5,686.3 907,686.4 907.5,686.5 908,686.5 908.5,686.6 909,686.7 909.5,686.7 910,686.8 910.5,686.8 911,686.9 911.5,687 912,687 912.5,687.1 913,687.1 913.5,687.2 914,687.3 914.5,687.3 915,687.4 915.5,687.4 916,687.5 916.5,687.6 917,687.6 917.5,687.7 918,687.7 918.5,687.8 919,687.8 919.5,687.9 920,687.9 920.5,688 921,688 921.5,688.1 922,688.1 922.5,688.2 923,688.2 923.5,688.3 924,688.3 924.5,688.4 925,688.4 925.5,688.5 926,688.5 926.5,688.6 927,688.6 927.5,688.7 928,688.7 928.5,688.8 929,688.8 929.5,688.9 930,688.9 930.5,688.9 931,689 931.5,689 932,689.1 932.5,689.1 933,689.2 933.5,689.2 934,689.3 934.5,689.3 935,689.3 935.5,689.4 936,689.4 936.5,689.5 937,689.5 937.5,689.5 938,689.6 938.5,689.6 939,689.7 939.5,689.7 940,689.7 940.5,689.8 941,689.8 941.5,689.9 942,689.9 942.5,689.9 943,690 943.5,690 944,690.1 944.5,690.1 945,690.1 945.5,690.2 946,690.2 946.5,690.2 947,690.3 947.5,690.3 948,690.4 948.5,690.4 949,690.4 949.5,690.5 950,690.5 950.5,690.5 951,690.6 951.5,690.6 952,690.6 952.5,690.7 953,690.7 953.5,690.8 954,690.8 954.5,690.8 955,690.9 955.5,690.9 956,690.9 956.5,691 957,691 957.5,691 958,691.1 958.5,691.1 959,691.1 959.5,691.2 960,691.2 960.5,691.2 961,691.3 961.5,691.3 962,691.3 962.5,691.4 963,691.4 963.5,691.5 964,691.5 964.5,691.5 965,691.6 965.5,691.6 966,691.6 966.5,691.7 967,691.7 967.5,691.7 968,691.8 968.5,691.8 969,691.8 969.5,691.8 970,691.9 970.5,691.9 971,691.9 971.5,692 972,692 972.5,692 973,692.1 973.5,692.1 974,692.1 974.5,692.2 975,692.2 975.5,692.2 976,692.3 976.5,692.3 977,692.3 977.5,692.3 978,692.4 978.5,692.4 979,692.4 979.5,692.5 980,692.5 980.5,692.5 981,692.5 981.5,692.6 982,692.6 982.5,692.6 983,692.7 983.5,692.7 984,692.7 984.5,692.7 985,692.8 985.5,692.8 986,692.8 986.5,692.8 987,692.9 987.5,692.9 988,692.9 988.5,692.9 989,693 989.5,693 990,693 990.5,693 991,693.1 991.5,693.1 992,693.1 992.5,693.1 993,693.2 993.5,693.2 994,693.2 994.5,693.2 995,693.2 995.5,693.3 996,693.3 996.5,693.3 997,693.3 997.5,693.4 998,693.4 998.5,693.4 999,693.4 999.5,693.4 1000,693.4 1000.5,693.5 1001,693.5 1001.5,693.5 1002,693.5 1002.5,693.5 1003,693.6 1003.5,693.6 1004,693.6 1004.5,693.6 1005,693.6 1005.5,693.6 1006,693.7 1006.5,693.7 1007,693.7 1007.5,693.7 1008,693.7 1008.5,693.7 1009,693.7 1009.5,693.8 1010,693.8 1010.5,693.8 1011,693.8" fill="none" stroke="#4cd84c" stroke-width="2.0" stroke-linejoin="round" stroke-linecap="round"/>
<path d="M559.5,726.4 560,726.3 560.5,726.3 561,726.3 561.5,726.2 562,726.2 562.5,726.2 563,726.1 563.5,726.1 564,726 564.5,726 565,725.9 565.5,725.9 566,725.8 566.5,725.8 567,725.7 567.5,725.7 568,725.6 568.5,725.6 569,725.5 569.5,725.5 570,725.4 570.5,725.4 571,725.3 571.5,725.2 572,725.2 572.5,725.1 573,725 573.5,725 574,724.9 574.5,724.9 575,724.8 575.5,724.7 576,724.7 576.5,724.6 577,724.5 577.5,724.5 578,724.4 578.5,724.3 579,724.2 579.5,724.2 580,724.1 580.5,724 581,723.9 581.5,723.9 582,723.8 582.5,723.7 583,723.6 583.5,723.6 584,723.5 584.5,723.4 585,723.3 585.5,723.2 586,723.1 586.5,723 587,722.9 587.5,722.9 588,722.8 588.5,722.7 589,722.6 589.5,722.5 590,722.4 590.5,722.3 591,722.2 591.5,722.1 592,722 592.5,721.9 593,721.8 593.5,721.6 594,721.5 594.5,721.4 595,721.3 595.5,721.2 596,721.1 596.5,721 597,720.9 597.5,720.7 598,720.6 598.5,720.5 599,720.4 599.5,720.3 600,720.1 600.5,720 601,719.9 601.5,719.7 602,719.6 602.5,719.5 603,719.3 603.5,719.2 604,719.1 604.5,718.9 605,718.8 605.5,718.6 606,718.5 606.5,718.3 607,718.1 607.5,718 608,717.8 608.5,717.7 609,717.5 609.5,717.3 610,717.2 610.5,717 611,716.8 611.5,716.6 612,716.4 612.5,716.3 613,716.1 613.5,715.9 614,715.7 614.5,715.5 615,715.3 615.5,715.1 616,714.9 616.5,714.7 617,714.5 617.5,714.3 618,714.1 618.5,713.9 619,713.7 619.5,713.4 620,713.2 620.5,713 621,712.8 621.5,712.6 622,712.3 622.5,712.1 623,711.9 623.5,711.7 624,711.4 624.5,711.2 625,710.9 625.5,710.7 626,710.4 626.5,710.2 627,709.9 627.5,709.6 628,709.4 628.5,709.1 629,708.8 629.5,708.5 630,708.2 630.5,707.9 631,707.6 631.5,707.3 632,707 632.5,706.7 633,706.4 633.5,706.1 634,705.7 634.5,705.4 635,705.1 635.5,704.7 636,704.4 636.5,704 637,703.7 637.5,703.3 638,702.9 638.5,702.5 639,702.1 639.5,701.7 640,701.3 640.5,700.9 641,700.5 641.5,700.1 642,699.7 642.5,699.2 643,698.8 643.5,698.3 644,697.8 644.5,697.4 645,696.9 645.5,696.4 646,695.9 646.5,695.4 647,694.8 647.5,694.3 648,693.7 648.5,693.2 649,692.6 649.5,692 650,691.4 650.5,690.8 651,690.2 651.5,689.6 652,688.9 652.5,688.2 653,687.5 653.5,686.8 654,686 654.5,685.2 655,684.4 655.5,683.6 656,682.7 656.5,681.8 657,680.9 657.5,679.9 658,679 658.5,678 659,677 659.5,675.9 660,674.9 660.5,673.9 661,672.8 661.5,671.7 662,670.7 662.5,669.6 663,668.4 663.5,667.3 664,666.1 664.5,664.9 665,663.6 665.5,662.3 666,660.9 666.5,659.5 667,657.9 667.5,656.3 668,654.6 668.5,652.7 669,650.8 669.5,648.8 670,646.8 670.5,644.7 671,642.5 671.5,640.4 672,638.3 672.5,636.1 673,633.9 673.5,631.7 674,629.5 674.5,627.4 675,625.2 675.5,623.1 676,621 676.5,619 677,617 677.5,615.1 678,613.2 678.5,611.4 679,609.5 679.5,607.6 680,605.6 680.5,603.6 681,601.4 681.5,599.2 682,596.8 682.5,594.4 683,591.8 683.5,589.1 684,586.3 684.5,583.5 685,580.6 685.5,577.6 686,574.6 686.5,571.5 687,568.3 687.5,565.1 688,561.8 688.5,558.4 689,555.1 689.5,551.7 690,548.5 690.5,545.2 691,542 691.5,538.9 692,535.9 692.5,532.9 693,529.9 693.5,527 694,524.1 694.5,521.2 695,518.3 695.5,515.5 696,512.6 696.5,509.9 697,507.2 697.5,504.5 698,502 698.5,499.6 699,497.3 699.5,495.1 700,493 700.5,491 701,489.1 701.5,487.4 702,485.8 702.5,484.3 703,483 703.5,481.9 704,480.9 704.5,480 705,479.2 705.5,478.4 706,477.8 706.5,477.2 707,476.7 707.5,476.2 708,475.9 708.5,475.7 709,475.6 709.5,475.6 710,475.7 710.5,476 711,476.3 711.5,476.8 712,477.3 712.5,478 713,478.6 713.5,479.4 714,480.2 714.5,481 715,481.9 715.5,482.8 716,483.8 716.5,484.9 717,486.1 717.5,487.3 718,488.7 718.5,490.2 719,491.7 719.5,493.3 720,495 720.5,496.7 721,498.5 721.5,500.3 722,502.1 722.5,503.9 723,505.9 723.5,507.8 724,509.8 724.5,511.9 725,514 725.5,516.1 726,518.3 726.5,520.5 727,522.6 727.5,524.7 728,526.7 728.5,528.7 729,530.6 729.5,532.6 730,534.7 730.5,536.9 731,539.4 731.5,542.4 732,545.9 732.5,550.2 733,555.2 733.5,560.7 734,566.6 734.5,572.2 735,577.3 735.5,581.7 736,585.4 736.5,588.5 737,591.1 737.5,593.4 738,595.4 738.5,597.3 739,599.1 739.5,600.9 740,602.6 740.5,604.3 741,606 741.5,607.7 742,609.5 742.5,611.2 743,612.9 743.5,614.6 744,616.3 744.5,617.9 745,619.6 745.5,621.2 746,622.7 746.5,624.3 747,625.8 747.5,627.4 748,628.9 748.5,630.4 749,631.9 749.5,633.4 750,634.8 750.5,636.3 751,637.8 751.5,639.2 752,640.6 752.5,642 753,643.4 753.5,644.8 754,646.1 754.5,647.3 755,648.5 755.5,649.7 756,650.9 756.5,652 757,653 757.5,654 758,655 758.5,656 759,656.9 759.5,657.8 760,658.7 760.5,659.6 761,660.4 761.5,661.2 762,662 762.5,662.7 763,663.5 763.5,664.2 764,664.9 764.5,665.6 765,666.3 765.5,666.9 766,667.6 766.5,668.2 767,668.8 767.5,669.4 768,669.9 768.5,670.4 769,671 769.5,671.4 770,671.9 770.5,672.4 771,672.8 771.5,673.3 772,673.7 772.5,674.1 773,674.5 773.5,674.9 774,675.3 774.5,675.7 775,676.1 775.5,676.5 776,676.9 776.5,677.2 777,677.6 777.5,677.9 778,678.2 778.5,678.5 779,678.9 779.5,679.2 780,679.4 780.5,679.7 781,680 781.5,680.3 782,680.5 782.5,680.7 783,681 783.5,681.2 784,681.4 784.5,681.6 785,681.9 785.5,682.1 786,682.3 786.5,682.5 787,682.7 787.5,682.9 788,683 788.5,683.2 789,683.4 789.5,683.6 790,683.8 790.5,683.9 791,684.1 791.5,684.3 792,684.4 792.5,684.6 793,684.7 793.5,684.9 794,685 794.5,685.2 795,685.3 795.5,685.4 796,685.6 796.5,685.7 797,685.8 797.5,685.9 798,686 798.5,686.1 799,686.2 799.5,686.3 800,686.4 800.5,686.5 801,686.6 801.5,686.6 802,686.7 802.5,686.8 803,686.8 803.5,686.9 804,687 804.5,687 805,687.1 805.5,687.2 806,687.2 806.5,687.3 807,687.3 807.5,687.4 808,687.4 808.5,687.5 809,687.5 809.5,687.6 810,687.6 810.5,687.7 811,687.7 811.5,687.8 812,687.8 812.5,687.9 813,687.9 813.5,688 814,688 814.5,688.1 815,688.2 815.5,688.2 816,688.3 816.5,688.3 817,688.4 817.5,688.4 818,688.5 818.5,688.5 819,688.6 819.5,688.6 820,688.7 820.5,688.8 821,688.8 821.5,688.9 822,688.9 822.5,689 823,689 823.5,689.1 824,689.1 824.5,689.2 825,689.2 825.5,689.3 826,689.4 826.5,689.4 827,689.5 827.5,689.5 828,689.6 828.5,689.6 829,689.7 829.5,689.7 830,689.8 830.5,689.8 831,689.8 831.5,689.9 832,689.9 832.5,690 833,690 833.5,690.1 834,690.1 834.5,690.2 835,690.2 835.5,690.2 836,690.3 836.5,690.3 837,690.4 837.5,690.4 838,690.4 838.5,690.5 839,690.5 839.5,690.5 840,690.6 840.5,690.6 841,690.6 841.5,690.7 842,690.7 842.5,690.7 843,690.7 843.5,690.8 844,690.8 844.5,690.8 845,690.9 845.5,690.9 846,690.9 846.5,690.9 847,691 847.5,691 848,691 848.5,691.1 849,691.1 849.5,691.1 850,691.1 850.5,691.2 851,691.2 851.5,691.2 852,691.2 852.5,691.3 853,691.3 853.5,691.3 854,691.3 854.5,691.3 855,691.4 855.5,691.4 856,691.4 856.5,691.4 857,691.5 857.5,691.5 858,691.5 858.5,691.5 859,691.5 859.5,691.6 860,691.6 860.5,691.6 861,691.6 861.5,691.6 862,691.6 862.5,691.7 863,691.7 863.5,691.7 864,691.7 864.5,691.7 865,691.7 865.5,691.8 866,691.8 866.5,691.8 867,691.8 867.5,691.8 868,691.8 868.5,691.9 869,691.9 869.5,691.9 870,691.9 870.5,691.9 871,691.9 871.5,691.9 872,691.9 872.5,692 873,692 873.5,692 874,692 874.5,692 875,692 875.5,692 876,692 876.5,692.1 877,692.1 877.5,692.1 878,692.1 878.5,692.1 879,692.1 879.5,692.1 880,692.1 880.5,692.1 881,692.2 881.5,692.2 882,692.2 882.5,692.2 883,692.2 883.5,692.2 884,692.2 884.5,692.2 885,692.3 885.5,692.3 886,692.3 886.5,692.3 887,692.3 887.5,692.3 888,692.3 888.5,692.4 889,692.4 889.5,692.4 890,692.4 890.5,692.4 891,692.4 891.5,692.4 892,692.5 892.5,692.5 893,692.5 893.5,692.5 894,692.5 894.5,692.6 895,692.6 895.5,692.6 896,692.6 896.5,692.6 897,692.6 897.5,692.7 898,692.7 898.5,692.7 899,692.7 899.5,692.7 900,692.8 900.5,692.8 901,692.8 901.5,692.8 902,692.8 902.5,692.8 903,692.9 903.5,692.9 904,692.9 904.5,692.9 905,692.9 905.5,693 906,693 906.5,693 907,693 907.5,693 908,693.1 908.5,693.1 909,693.1 909.5,693.1 910,693.2 910.5,693.2 911,693.2 911.5,693.2 912,693.2 912.5,693.3 913,693.3 913.5,693.3 914,693.3 914.5,693.3 915,693.4 915.5,693.4 916,693.4 916.5,693.4 917,693.5 917.5,693.5 918,693.5 918.5,693.5 919,693.5 919.5,693.6 920,693.6 920.5,693.6 921,693.6 921.5,693.7 922,693.7 922.5,693.7 923,693.7 923.5,693.8 924,693.8 924.5,693.8 925,693.8 925.5,693.8 926,693.9 926.5,693.9 927,693.9 927.5,693.9 928,694 928.5,694 929,694 929.5,694 930,694.1 930.5,694.1 931,694.1 931.5,694.1 932,694.2 932.5,694.2 933,694.2 933.5,694.2 934,694.2 934.5,694.3 935,694.3 935.5,694.3 936,694.3 936.5,694.4 937,694.4 937.5,694.4 938,694.4 938.5,694.5 939,694.5 939.5,694.5 940,694.5 940.5,694.6 941,694.6 941.5,694.6 942,694.6 942.5,694.6 943,694.7 943.5,694.7 944,694.7 944.5,694.7 945,694.8 945.5,694.8 946,694.8 946.5,694.8 947,694.9 947.5,694.9 948,694.9 948.5,694.9 949,695 949.5,695 950,695 950.5,695 951,695 951.5,695.1 952,695.1 952.5,695.1 953,695.1 953.5,695.2 954,695.2 954.5,695.2 955,695.2 955.5,695.3 956,695.3 956.5,695.3 957,695.3 957.5,695.3 958,695.4 958.5,695.4 959,695.4 959.5,695.4 960,695.5 960.5,695.5 961,695.5 961.5,695.5 962,695.6 962.5,695.6 963,695.6 963.5,695.6 964,695.7 964.5,695.7 965,695.7 965.5,695.7 966,695.8 966.5,695.8 967,695.8 967.5,695.8 968,695.8 968.5,695.9 969,695.9 969.5,695.9 970,695.9 970.5,696 971,696 971.5,696 972,696 972.5,696.1 973,696.1 973.5,696.1 974,696.1 974.5,696.2 975,696.2 975.5,696.2 976,696.2 976.5,696.3 977,696.3 977.5,696.3 978,696.3 978.5,696.4 979,696.4 979.5,696.4 980,696.4 980.5,696.5 981,696.5 981.5,696.5 982,696.5 982.5,696.6 983,696.6 983.5,696.6 984,696.6 984.5,696.7 985,696.7 985.5,696.7 986,696.7 986.5,696.8 987,696.8 987.5,696.8 988,696.8 988.5,696.9 989,696.9 989.5,696.9 990,696.9 990.5,697 991,697 991.5,697 992,697 992.5,697.1 993,697.1 993.5,697.1 994,697.1 994.5,697.2 995,697.2 995.5,697.2 996,697.2 996.5,697.3 997,697.3 997.5,697.3 998,697.3 998.5,697.4 999,697.4 999.5,697.4 1000,697.4 1000.5,697.5 1001,697.5 1001.5,697.5 1002,697.5 1002.5,697.6 1003,697.6 1003.5,697.6 1004,697.6 1004.5,697.7 1005,697.7 1005.5,697.7 1006,697.7 1006.5,697.8 1007,697.8 1007.5,697.8 1008,697.8 1008.5,697.9 1009,697.9 1009.5,697.9 1010,697.9 1010.5,698 1011,698" fill="none" stroke="#4cd84c" stroke-width="2.0" stroke-linejoin="round" stroke-linecap="round"/>
<path d="M558.1,716.4 558.6,716.4 559.1,716.4 559.6,716.3 560.1,716.3 560.6,716.2 561.1,716.2 561.6,716.1 562.1,716 562.6,716 563.1,715.9 563.6,715.8 564.1,715.8 564.6,715.7 565.1,715.6 565.6,715.6 566.1,715.5 566.6,715.4 567.1,715.3 567.6,715.3 568.1,715.2 568.6,715.1 569.1,715 569.6,714.9 570.1,714.9 570.6,714.8 571.1,714.7 571.6,714.6 572.1,714.5 572.6,714.4 573.1,714.4 573.6,714.3 574.1,714.2 574.6,714.1 575.1,714 575.6,713.9 576.1,713.8 576.6,713.7 577.1,713.6 577.6,713.5 578.1,713.4 578.6,713.3 579.1,713.2 579.6,713.1 580.1,713 580.6,712.9 581.1,712.8 581.6,712.7 582.1,712.6 582.6,712.5 583.1,712.4 583.6,712.3 584.1,712.2 584.6,712.1 585.1,711.9 585.6,711.8 586.1,711.7 586.6,711.6 587.1,711.5 587.6,711.3 588.1,711.2 588.6,711.1 589.1,711 589.6,710.8 590.1,710.7 590.6,710.6 591.1,710.4 591.6,710.3 592.1,710.1 592.6,710 593.1,709.9 593.6,709.7 594.1,709.6 594.6,709.4 595.1,709.3 595.6,709.1 596.1,709 596.6,708.8 597.1,708.7 597.6,708.5 598.1,708.4 598.6,708.2 599.1,708.1 599.6,707.9 600.1,707.8 600.6,707.6 601.1,707.5 601.6,707.3 602.1,707.1 602.6,707 603.1,706.8 603.6,706.6 604.1,706.5 604.6,706.3 605.1,706.1 605.6,706 606.1,705.8 606.6,705.6 607.1,705.4 607.6,705.2 608.1,705.1 608.6,704.9 609.1,704.7 609.6,704.5 610.1,704.3 610.6,704.1 611.1,703.9 611.6,703.7 612.1,703.5 612.6,703.3 613.1,703.1 613.6,702.9 614.1,702.7 614.6,702.5 615.1,702.3 615.6,702.1 616.1,701.9 616.6,701.6 617.1,701.4 617.6,701.2 618.1,701 618.6,700.8 619.1,700.5 619.6,700.3 620.1,700.1 620.6,699.8 621.1,699.6 621.6,699.4 622.1,699.1 622.6,698.9 623.1,698.6 623.6,698.4 624.1,698.1 624.6,697.9 625.1,697.6 625.6,697.4 626.1,697.1 626.6,696.8 627.1,696.6 627.6,696.3 628.1,696 628.6,695.7 629.1,695.5 629.6,695.2 630.1,694.9 630.6,694.6 631.1,694.3 631.6,694 632.1,693.7 632.6,693.4 633.1,693 633.6,692.7 634.1,692.4 634.6,692.1 635.1,691.7 635.6,691.4 636.1,691.1 636.6,690.7 637.1,690.4 637.6,690 638.1,689.6 638.6,689.3 639.1,688.9 639.6,688.5 640.1,688.2 640.6,687.8 641.1,687.4 641.6,687 642.1,686.6 642.6,686.2 643.1,685.8 643.6,685.3 644.1,684.9 644.6,684.5 645.1,684 645.6,683.6 646.1,683.1 646.6,682.6 647.1,682.1 647.6,681.6 648.1,681.1 648.6,680.6 649.1,680 649.6,679.4 650.1,678.9 650.6,678.3 651.1,677.6 651.6,677 652.1,676.3 652.6,675.6 653.1,674.9 653.6,674.2 654.1,673.4 654.6,672.6 655.1,671.9 655.6,671.1 656.1,670.2 656.6,669.4 657.1,668.6 657.6,667.7 658.1,666.9 658.6,666 659.1,665.2 659.6,664.3 660.1,663.4 660.6,662.5 661.1,661.6 661.6,660.6 662.1,659.7 662.6,658.7 663.1,657.6 663.6,656.6 664.1,655.4 664.6,654.3 665.1,653 665.6,651.7 666.1,650.4 666.6,648.9 667.1,647.4 667.6,645.8 668.1,644.1 668.6,642.3 669.1,640.5 669.6,638.5 670.1,636.5 670.6,634.3 671.1,632 671.6,629.6 672.1,627.1 672.6,624.4 673.1,621.6 673.6,618.7 674.1,615.7 674.6,612.7 675.1,609.7 675.6,606.7 676.1,603.7 676.6,600.9 677.1,598.1 677.6,595.4 678.1,592.7 678.6,590.2 679.1,587.6 679.6,585.2 680.1,582.7 680.6,580.2 681.1,577.7 681.6,575.2 682.1,572.7 682.6,570.1 683.1,567.4 683.6,564.7 684.1,561.8 684.6,558.8 685.1,555.7 685.6,552.4 686.1,548.9 686.6,545.3 687.1,541.6 687.6,537.8 688.1,534 688.6,530.3 689.1,526.7 689.6,523.2 690.1,520 690.6,517 691.1,514.1 691.6,511.3 692.1,508.7 692.6,506.2 693.1,503.7 693.6,501.3 694.1,498.9 694.6,496.6 695.1,494.3 695.6,492.1 696.1,489.8 696.6,487.6 697.1,485.4 697.6,483.3 698.1,481.2 698.6,479.1 699.1,477.1 699.6,475.2 700.1,473.3 700.6,471.5 701.1,469.8 701.6,468.2 702.1,466.6 702.6,465 703.1,463.6 703.6,462.3 704.1,461.1 704.6,460 705.1,459 705.6,458.2 706.1,457.4 706.6,456.7 707.1,456.2 707.6,455.7 708.1,455.3 708.6,455.1 709.1,454.9 709.6,454.9 710.1,455.1 710.6,455.3 711.1,455.7 711.6,456.2 712.1,456.8 712.6,457.5 713.1,458.3 713.6,459.2 714.1,460.3 714.6,461.6 715.1,463.1 715.6,464.8 716.1,466.6 716.6,468.6 717.1,470.6 717.6,472.6 718.1,474.6 718.6,476.6 719.1,478.4 719.6,480.1 720.1,481.7 720.6,483.3 721.1,484.7 721.6,486.1 722.1,487.4 722.6,488.8 723.1,490.1 723.6,491.5 724.1,492.9 724.6,494.3 725.1,495.8 725.6,497.4 726.1,499.2 726.6,501 727.1,502.9 727.6,505 728.1,507.1 728.6,509.3 729.1,511.6 729.6,513.9 730.1,516.2 730.6,518.6 731.1,520.9 731.6,523.2 732.1,525.6 732.6,527.9 733.1,530.3 733.6,532.6 734.1,534.9 734.6,537.2 735.1,539.4 735.6,541.5 736.1,543.6 736.6,545.5 737.1,547.4 737.6,549.1 738.1,550.8 738.6,552.5 739.1,554.1 739.6,555.6 740.1,557.1 740.6,558.6 741.1,560 741.6,561.4 742.1,562.7 742.6,564.1 743.1,565.4 743.6,566.7 744.1,567.9 744.6,569.2 745.1,570.4 745.6,571.6 746.1,572.8 746.6,574 747.1,575 747.6,576.1 748.1,577 748.6,577.9 749.1,578.7 749.6,579.5 750.1,580.2 750.6,580.9 751.1,581.5 751.6,582.1 752.1,582.7 752.6,583.2 753.1,583.6 753.6,584 754.1,584.3 754.6,584.6 755.1,584.7 755.6,584.8 756.1,584.7 756.6,584.6 757.1,584.5 757.6,584.3 758.1,584 758.6,583.7 759.1,583.4 759.6,583 760.1,582.6 760.6,582.2 761.1,581.8 761.6,581.3 762.1,580.8 762.6,580.3 763.1,579.7 763.6,579 764.1,578.4 764.6,577.6 765.1,576.8 765.6,576 766.1,575.2 766.6,574.3 767.1,573.4 767.6,572.5 768.1,571.5 768.6,570.6 769.1,569.6 769.6,568.6 770.1,567.6 770.6,566.5 771.1,565.4 771.6,564.3 772.1,563.1 772.6,561.9 773.1,560.6 773.6,559.4 774.1,558.1 774.6,556.8 775.1,555.5 775.6,554.2 776.1,552.8 776.6,551.4 777.1,550 777.6,548.6 778.1,547.1 778.6,545.6 779.1,544.2 779.6,542.7 780.1,541.3 780.6,539.9 781.1,538.5 781.6,537.1 782.1,535.8 782.6,534.5 783.1,533.3 783.6,532 784.1,530.8 784.6,529.7 785.1,528.7 785.6,527.7 786.1,526.9 786.6,526.1 787.1,525.4 787.6,524.7 788.1,524.2 788.6,523.6 789.1,523.2 789.6,522.8 790.1,522.4 790.6,522.2 791.1,522 791.6,522 792.1,522 792.6,522.1 793.1,522.2 793.6,522.5 794.1,522.7 794.6,523.1 795.1,523.4 795.6,523.8 796.1,524.3 796.6,524.8 797.1,525.5 797.6,526.2 798.1,527 798.6,527.8 799.1,528.8 799.6,529.9 800.1,531 800.6,532.2 801.1,533.5 801.6,534.9 802.1,536.4 802.6,538 803.1,539.6 803.6,541.2 804.1,542.9 804.6,544.5 805.1,546.1 805.6,547.7 806.1,549.2 806.6,550.7 807.1,552.1 807.6,553.7 808.1,555.2 808.6,556.9 809.1,558.6 809.6,560.6 810.1,562.7 810.6,564.9 811.1,567.3 811.6,569.8 812.1,572.4 812.6,575 813.1,577.5 813.6,580 814.1,582.3 814.6,584.5 815.1,586.6 815.6,588.6 816.1,590.5 816.6,592.4 817.1,594.2 817.6,595.9 818.1,597.6 818.6,599.2 819.1,600.8 819.6,602.4 820.1,603.9 820.6,605.3 821.1,606.7 821.6,608.1 822.1,609.4 822.6,610.7 823.1,612 823.6,613.2 824.1,614.4 824.6,615.5 825.1,616.6 825.6,617.7 826.1,618.8 826.6,619.9 827.1,620.9 827.6,621.9 828.1,622.9 828.6,623.9 829.1,624.9 829.6,625.9 830.1,626.8 830.6,627.8 831.1,628.7 831.6,629.6 832.1,630.5 832.6,631.5 833.1,632.4 833.6,633.3 834.1,634.2 834.6,635 835.1,635.9 835.6,636.7 836.1,637.6 836.6,638.4 837.1,639.2 837.6,640 838.1,640.8 838.6,641.6 839.1,642.4 839.6,643.1 840.1,643.8 840.6,644.5 841.1,645.2 841.6,645.9 842.1,646.6 842.6,647.2 843.1,647.9 843.6,648.5 844.1,649.1 844.6,649.8 845.1,650.4 845.6,651 846.1,651.6 846.6,652.2 847.1,652.8 847.6,653.3 848.1,653.9 848.6,654.4 849.1,655 849.6,655.5 850.1,656 850.6,656.5 851.1,657 851.6,657.4 852.1,657.9 852.6,658.3 853.1,658.8 853.6,659.2 854.1,659.6 854.6,660 855.1,660.4 855.6,660.8 856.1,661.1 856.6,661.5 857.1,661.9 857.6,662.2 858.1,662.6 858.6,662.9 859.1,663.2 859.6,663.6 860.1,663.9 860.6,664.2 861.1,664.5 861.6,664.9 862.1,665.2 862.6,665.5 863.1,665.7 863.6,666 864.1,666.3 864.6,666.6 865.1,666.9 865.6,667.1 866.1,667.4 866.6,667.6 867.1,667.9 867.6,668.1 868.1,668.4 868.6,668.6 869.1,668.8 869.6,669 870.1,669.3 870.6,669.5 871.1,669.7 871.6,669.9 872.1,670.1 872.6,670.3 873.1,670.5 873.6,670.7 874.1,670.9 874.6,671.1 875.1,671.3 875.6,671.5 876.1,671.6 876.6,671.8 877.1,672 877.6,672.2 878.1,672.3 878.6,672.5 879.1,672.7 879.6,672.8 880.1,673 880.6,673.2 881.1,673.3 881.6,673.5 882.1,673.6 882.6,673.8 883.1,673.9 883.6,674.1 884.1,674.2 884.6,674.4 885.1,674.5 885.6,674.7 886.1,674.8 886.6,674.9 887.1,675.1 887.6,675.2 888.1,675.3 888.6,675.4 889.1,675.6 889.6,675.7 890.1,675.8 890.6,675.9 891.1,676.1 891.6,676.2 892.1,676.3 892.6,676.4 893.1,676.5 893.6,676.6 894.1,676.8 894.6,676.9 895.1,677 895.6,677.1 896.1,677.2 896.6,677.3 897.1,677.4 897.6,677.5 898.1,677.6 898.6,677.7 899.1,677.8 899.6,677.9 900.1,678 900.6,678.1 901.1,678.2 901.6,678.3 902.1,678.4 902.6,678.5 903.1,678.6 903.6,678.7 904.1,678.8 904.6,678.9 905.1,679 905.6,679.1 906.1,679.2 906.6,679.2 907.1,679.3 907.6,679.4 908.1,679.5 908.6,679.6 909.1,679.7 909.6,679.7 910.1,679.8 910.6,679.9 911.1,680 911.6,680.1 912.1,680.1 912.6,680.2 913.1,680.3 913.6,680.4 914.1,680.5 914.6,680.5 915.1,680.6 915.6,680.7 916.1,680.7 916.6,680.8 917.1,680.9 917.6,681 918.1,681 918.6,681.1 919.1,681.2 919.6,681.2 920.1,681.3 920.6,681.4 921.1,681.4 921.6,681.5 922.1,681.6 922.6,681.6 923.1,681.7 923.6,681.8 924.1,681.8 924.6,681.9 925.1,681.9 925.6,682 926.1,682.1 926.6,682.1 927.1,682.2 927.6,682.2 928.1,682.3 928.6,682.4 929.1,682.4 929.6,682.5 930.1,682.5 930.6,682.6 931.1,682.7 931.6,682.7 932.1,682.8 932.6,682.8 933.1,682.9 933.6,682.9 934.1,683 934.6,683 935.1,683.1 935.6,683.2 936.1,683.2 936.6,683.3 937.1,683.3 937.6,683.4 938.1,683.4 938.6,683.5 939.1,683.5 939.6,683.6 940.1,683.6 940.6,683.7 941.1,683.7 941.6,683.8 942.1,683.8 942.6,683.9 943.1,683.9 943.6,683.9 944.1,684 944.6,684 945.1,684.1 945.6,684.1 946.1,684.2 946.6,684.2 947.1,684.3 947.6,684.3 948.1,684.3 948.6,684.4 949.1,684.4 949.6,684.5 950.1,684.5 950.6,684.5 951.1,684.6 951.6,684.6 952.1,684.7 952.6,684.7 953.1,684.7 953.6,684.8 954.1,684.8 954.6,684.9 955.1,684.9 955.6,684.9 956.1,685 956.6,685 957.1,685.1 957.6,685.1 958.1,685.1 958.6,685.2 959.1,685.2 959.6,685.3 960.1,685.3 960.6,685.3 961.1,685.4 961.6,685.4 962.1,685.5 962.6,685.5 963.1,685.5 963.6,685.6 964.1,685.6 964.6,685.6 965.1,685.7 965.6,685.7 966.1,685.8 966.6,685.8 967.1,685.8 967.6,685.9 968.1,685.9 968.6,685.9 969.1,686 969.6,686 970.1,686 970.6,686.1 971.1,686.1 971.6,686.1 972.1,686.2 972.6,686.2 973.1,686.3 973.6,686.3 974.1,686.3 974.6,686.4 975.1,686.4 975.6,686.4 976.1,686.5 976.6,686.5 977.1,686.5 977.6,686.6 978.1,686.6 978.6,686.6 979.1,686.7 979.6,686.7 980.1,686.7 980.6,686.8 981.1,686.8 981.6,686.8 982.1,686.8 982.6,686.9 983.1,686.9 983.6,686.9 984.1,687 984.6,687 985.1,687 985.6,687.1 986.1,687.1 986.6,687.1 987.1,687.1 987.6,687.2 988.1,687.2 988.6,687.2 989.1,687.3 989.6,687.3 990.1,687.3 990.6,687.3 991.1,687.4 991.6,687.4 992.1,687.4 992.6,687.4 993.1,687.5 993.6,687.5 994.1,687.5 994.6,687.6 995.1,687.6 995.6,687.6 996.1,687.6 996.6,687.6 997.1,687.7 997.6,687.7 998.1,687.7 998.6,687.7 999.1,687.8 999.6,687.8 1000.1,687.8 1000.6,687.8 1001.1,687.8 1001.6,687.9 1002.1,687.9 1002.6,687.9 1003.1,687.9 1003.6,687.9 1004.1,688 1004.6,688 1005.1,688 1005.6,688 1006.1,688 1006.6,688.1 1007.1,688.1 1007.6,688.1 1008.1,688.1 1008.6,688.1 1009.1,688.1 1009.6,688.2 1010.1,688.2 1010.6,688.2" fill="none" stroke="#4cd84c" stroke-width="2.0" stroke-linejoin="round" stroke-linecap="round"/>
<path d="M539,726 540.7,727.1 542.5,726.7 544.2,726 545.9,725 547.7,726.2 549.4,726 551,725.9 552.7,726.5 554.3,726.4 556,726.4 557.6,728 559.5,727.9 561.5,725.9 563.4,727.2 565.1,725.9 566.8,726 568.5,725.7 570.1,728.4 571.8,727.9 573.5,728.4 575.2,727.9 576.9,726 578.5,726.5 580.2,726.6 581.9,725.2 583.6,727.1 585.2,725.2 586.9,724.3 588.6,725.5 590.2,723.2 591.9,724.8 593.6,723.1 595.3,722.8 596.9,721.8 598.6,721.7 600.3,720.6 601.9,719.8 603.6,721.7 605.3,719.7 607,720.8 608.6,719 610.3,720.6 612,719.9 613.6,719 615.3,718.5 617,717.6 618.7,717.4 620.3,715.3 622,715.7 624.4,712 626.7,705.7 628.5,706.1 630.2,704.6 632,701.8 633.7,700.2 635.6,697.9 637.5,695.1 639.3,694.1 641.2,690 643.1,686.5 645.5,681.4 647.8,677.8 649.5,675 651.3,670.1 653,666.6 654.8,663.2 656.6,656.7 658.3,648.3 660.1,642.3 661.9,635.1 663.6,628.3 665.4,620.1 667.1,613.1 668.9,606.5 672,601.1 674.4,585.1 677.5,582.3 680.6,557 682.2,554 684.2,544.4 686.1,536.8 688.8,520.7 690.2,519.7 691.7,506.9 694,497.1 696.4,487.9 698.8,488.1 701.9,473.4 705,476.5 706.6,475.6 708.5,483.2 710.9,475.4 712.8,467 714.4,468.6 716.3,477.6 718.3,488.7 720.6,481.3 723,488.1 725.3,497.1 726.9,501.7 728.8,518.4 730.7,515.3 732.7,521.7 734.6,530.8 736.6,542.7 738.3,543.9 740.1,544.1 741.8,544.7 744.1,551.9 746.4,559.9 748,563.4 749.7,566 751.7,562.7 753.6,559.6 755.5,563.3 757.5,564.2 759.5,579.1 761.1,570.1 762.7,563.4 765.1,556.9 767.5,548.8 769.8,558.4 771.8,554.2 773.7,550.2 775.7,547.1 777.5,543.1 779.2,537 781.5,541.7 783.9,545.1 785.6,540.2 787.4,532.1 789.1,536.5 790.9,539.9 793.3,532.8 795.6,537.7 797.4,537.6 799.1,537.8 801.2,543.9 803.2,549.8 806.2,546.7 808.1,553.2 810.1,558.1 812,561.1 814.4,565.1 816.7,569.2 818.8,571.4 820.8,574.9 823.8,587 825.5,597.8 827.6,600.5 829.6,602.4 831.7,606.7 833.5,610.7 835.4,615.8 837.2,619.7 839,624.1 840.7,626.9 842.4,630 844.2,633.6 845.9,635.9 847.6,637.2 849.5,643.2 851.3,648 853.1,652 855,656.4 856.8,660.4 858.6,667.7 860.2,667.5 861.9,670.1 863.5,669.4 865.1,671.6 866.8,671.2 868.4,673.2 870.9,683.3 872.5,681.4 874.2,681 875.8,679.6 877.5,682.5 879.3,682.4 881,684.3 882.8,685.8 884.5,688.3 886.3,687.5 888,690.2 889.6,690.9 891.3,692.4 892.9,693.9 894.5,693.1 896.1,695.1 897.8,695.5 899.4,696.6 901,696.2 902.7,699.1 904.3,700.4 906,699.5 907.8,700.1 909.5,702.5 911.3,700.9 913,701.5 914.8,702.2 916.5,704.8 918.2,705 920,704.6 921.7,705.4 923.5,704.2 925.2,706.2 927,706 928.7,706.5 930.4,706.7 932.2,707.3 933.9,707.3 935.7,707.4 937.4,708.9 939.2,708.9 940.9,710.6 942.6,711.1 944.4,711.1 946.1,710.5 947.9,710.2 949.6,710.7 951.4,711.2 953.1,711.7 954.8,712.8 956.6,710.7 958.3,711.9 960.1,712.1 961.8,712.8 963.6,713.4 965.3,713.3 967,713.1 968.8,713.6 970.5,713.6 972.3,714.2 974,714 975.8,714.1 977.5,713.1 979.2,715 981,713.6 982.7,714.3 984.5,714.9 986.2,715.4 988,715.5 989.7,713 991.4,714.1 993.2,714.4 994.9,714.9 996.7,714.5 998.4,715.9 1000.2,714.9 1001.9,715.8 1003.7,717.2 1005.5,716.4 1007.4,715.4 1009.2,714.2 1011,715" fill="none" stroke="#111111" stroke-width="1.8" stroke-linejoin="round" stroke-linecap="round"/>
<path d="M538.3,620.3 538.8,620.3 539.3,620.2 539.8,620.2 540.3,620.1 540.8,620.1 541.3,620 541.8,619.9 542.3,619.9 542.8,619.8 543.3,619.7 543.8,619.7 544.3,619.6 544.8,619.5 545.3,619.5 545.8,619.4 546.3,619.3 546.8,619.3 547.3,619.2 547.8,619.1 548.3,619.1 548.8,619 549.3,618.9 549.8,618.8 550.3,618.8 550.8,618.7 551.3,618.6 551.8,618.6 552.3,618.5 552.8,618.4 553.3,618.3 553.8,618.3 554.3,618.2 554.8,618.1 555.3,618 555.8,618 556.3,617.9 556.8,617.8 557.3,617.7 557.8,617.6 558.3,617.6 558.8,617.5 559.3,617.4 559.8,617.3 560.3,617.3 560.8,617.2 561.3,617.1 561.8,617 562.3,616.9 562.8,616.9 563.3,616.8 563.8,616.7 564.3,616.6 564.8,616.6 565.3,616.5 565.8,616.4 566.3,616.3 566.8,616.2 567.3,616.2 567.8,616.1 568.3,616 568.8,615.9 569.3,615.8 569.8,615.7 570.3,615.7 570.8,615.6 571.3,615.5 571.8,615.4 572.3,615.3 572.8,615.2 573.3,615.1 573.8,615.1 574.3,615 574.8,614.9 575.3,614.8 575.8,614.7 576.3,614.6 576.8,614.5 577.3,614.4 577.8,614.3 578.3,614.2 578.8,614.1 579.3,614 579.8,613.9 580.3,613.8 580.8,613.7 581.3,613.6 581.8,613.5 582.3,613.4 582.8,613.3 583.3,613.2 583.8,613.1 584.3,613 584.8,612.9 585.3,612.8 585.8,612.6 586.3,612.5 586.8,612.4 587.3,612.3 587.8,612.2 588.3,612 588.8,611.9 589.3,611.8 589.8,611.7 590.3,611.5 590.8,611.4 591.3,611.3 591.8,611.1 592.3,611 592.8,610.9 593.3,610.7 593.8,610.6 594.3,610.4 594.8,610.3 595.3,610.1 595.8,610 596.3,609.9 596.8,609.7 597.3,609.6 597.8,609.4 598.3,609.3 598.8,609.1 599.3,609 599.8,608.8 600.3,608.7 600.8,608.5 601.3,608.3 601.8,608.2 602.3,608 602.8,607.9 603.3,607.7 603.8,607.6 604.3,607.4 604.8,607.2 605.3,607.1 605.8,606.9 606.3,606.7 606.8,606.6 607.3,606.4 607.8,606.2 608.3,606.1 608.8,605.9 609.3,605.7 609.8,605.5 610.3,605.3 610.8,605.2 611.3,605 611.8,604.8 612.3,604.6 612.8,604.4 613.3,604.2 613.8,604 614.3,603.8 614.8,603.6 615.3,603.4 615.8,603.2 616.3,602.9 616.8,602.7 617.3,602.5 617.8,602.3 618.3,602 618.8,601.8 619.3,601.6 619.8,601.3 620.3,601.1 620.8,600.8 621.3,600.5 621.8,600.3 622.3,600 622.8,599.7 623.3,599.4 623.8,599.1 624.3,598.8 624.8,598.5 625.3,598.2 625.8,597.9 626.3,597.6 626.8,597.2 627.3,596.9 627.8,596.6 628.3,596.2 628.8,595.9 629.3,595.5 629.8,595.2 630.3,594.8 630.8,594.4 631.3,594.1 631.8,593.7 632.3,593.3 632.8,592.9 633.3,592.5 633.8,592.1 634.3,591.6 634.8,591.2 635.3,590.8 635.8,590.3 636.3,589.9 636.8,589.4 637.3,588.9 637.8,588.4 638.3,588 638.8,587.5 639.3,586.9 639.8,586.4 640.3,585.9 640.8,585.3 641.3,584.8 641.8,584.2 642.3,583.6 642.8,583 643.3,582.4 643.8,581.8 644.3,581.1 644.8,580.5 645.3,579.8 645.8,579.1 646.3,578.4 646.8,577.7 647.3,576.9 647.8,576.2 648.3,575.4 648.8,574.6 649.3,573.8 649.8,573 650.3,572.1 650.8,571.3 651.3,570.4 651.8,569.5 652.3,568.6 652.8,567.6 653.3,566.7 653.8,565.6 654.3,564.6 654.8,563.5 655.3,562.4 655.8,561.3 656.3,560.1 656.8,558.9 657.3,557.6 657.8,556.3 658.3,555 658.8,553.7 659.3,552.4 659.8,551.1 660.3,549.7 660.8,548.4 661.3,547.1 661.8,545.7 662.3,544.4 662.8,543.1 663.3,541.7 663.8,540.4 664.3,539.1 664.8,537.8 665.3,536.5 665.8,535.2 666.3,533.9 666.8,532.6 667.3,531.3 667.8,530 668.3,528.6 668.8,527.2 669.3,525.8 669.8,524.4 670.3,522.9 670.8,521.5 671.3,519.9 671.8,518.4 672.3,516.8 672.8,515.2 673.3,513.6 673.8,511.9 674.3,510.2 674.8,508.5 675.3,506.8 675.8,505.1 676.3,503.3 676.8,501.5 677.3,499.6 677.8,497.8 678.3,495.9 678.8,493.9 679.3,492 679.8,490 680.3,487.9 680.8,485.9 681.3,483.9 681.8,481.9 682.3,479.9 682.8,477.9 683.3,476 683.8,474.1 684.3,472.2 684.8,470.4 685.3,468.7 685.8,467 686.3,465.3 686.8,463.6 687.3,462 687.8,460.4 688.3,458.8 688.8,457.3 689.3,455.9 689.8,454.5 690.3,453.2 690.8,451.9 691.3,450.7 691.8,449.5 692.3,448.4 692.8,447.3 693.3,446.3 693.8,445.3 694.3,444.3 694.8,443.4 695.3,442.5 695.8,441.7 696.3,440.9 696.8,440.2 697.3,439.5 697.8,438.9 698.3,438.4 698.8,437.9 699.3,437.4 699.8,437 700.3,436.6 700.8,436.2 701.3,435.9 701.8,435.6 702.3,435.2 702.8,435 703.3,434.7 703.8,434.4 704.3,434.2 704.8,434.1 705.3,433.9 705.8,433.8 706.3,433.7 706.8,433.7 707.3,433.8 707.8,433.8 708.3,434 708.8,434.1 709.3,434.4 709.8,434.6 710.3,434.9 710.8,435.3 711.3,435.7 711.8,436.1 712.3,436.5 712.8,436.9 713.3,437.4 713.8,437.8 714.3,438.3 714.8,438.8 715.3,439.3 715.8,439.8 716.3,440.4 716.8,441 717.3,441.6 717.8,442.2 718.3,442.9 718.8,443.6 719.3,444.3 719.8,445 720.3,445.8 720.8,446.5 721.3,447.3 721.8,448 722.3,448.7 722.8,449.5 723.3,450.2 723.8,450.9 724.3,451.6 724.8,452.3 725.3,453 725.8,453.7 726.3,454.4 726.8,455.1 727.3,455.9 727.8,456.6 728.3,457.3 728.8,458 729.3,458.7 729.8,459.3 730.3,460 730.8,460.6 731.3,461.1 731.8,461.7 732.3,462.2 732.8,462.6 733.3,463 733.8,463.4 734.3,463.7 734.8,464 735.3,464.3 735.8,464.6 736.3,464.9 736.8,465.1 737.3,465.4 737.8,465.6 738.3,465.8 738.8,466 739.3,466.2 739.8,466.4 740.3,466.6 740.8,466.7 741.3,466.8 741.8,466.9 742.3,467 742.8,467.1 743.3,467.1 743.8,467.1 744.3,467.1 744.8,467.1 745.3,467 745.8,466.9 746.3,466.8 746.8,466.7 747.3,466.6 747.8,466.5 748.3,466.4 748.8,466.2 749.3,466 749.8,465.9 750.3,465.7 750.8,465.5 751.3,465.3 751.8,465.1 752.3,464.8 752.8,464.6 753.3,464.3 753.8,463.9 754.3,463.6 754.8,463.2 755.3,462.7 755.8,462.3 756.3,461.8 756.8,461.2 757.3,460.7 757.8,460.1 758.3,459.6 758.8,459 759.3,458.4 759.8,457.9 760.3,457.3 760.8,456.7 761.3,456.2 761.8,455.6 762.3,455.1 762.8,454.6 763.3,454 763.8,453.5 764.3,452.9 764.8,452.4 765.3,451.9 765.8,451.3 766.3,450.8 766.8,450.3 767.3,449.8 767.8,449.3 768.3,448.9 768.8,448.5 769.3,448.1 769.8,447.7 770.3,447.4 770.8,447.1 771.3,446.7 771.8,446.4 772.3,446.1 772.8,445.8 773.3,445.6 773.8,445.3 774.3,445 774.8,444.8 775.3,444.5 775.8,444.3 776.3,444.1 776.8,444 777.3,443.8 777.8,443.7 778.3,443.6 778.8,443.5 779.3,443.5 779.8,443.5 780.3,443.5 780.8,443.6 781.3,443.7 781.8,443.8 782.3,444 782.8,444.2 783.3,444.4 783.8,444.6 784.3,444.9 784.8,445.2 785.3,445.5 785.8,445.9 786.3,446.2 786.8,446.6 787.3,447 787.8,447.4 788.3,447.8 788.8,448.2 789.3,448.6 789.8,449.1 790.3,449.6 790.8,450.1 791.3,450.6 791.8,451.2 792.3,451.8 792.8,452.5 793.3,453.1 793.8,453.8 794.3,454.6 794.8,455.3 795.3,456.1 795.8,456.9 796.3,457.7 796.8,458.5 797.3,459.3 797.8,460.2 798.3,461 798.8,461.9 799.3,462.7 799.8,463.6 800.3,464.5 800.8,465.5 801.3,466.4 801.8,467.4 802.3,468.4 802.8,469.4 803.3,470.4 803.8,471.4 804.3,472.5 804.8,473.5 805.3,474.6 805.8,475.6 806.3,476.7 806.8,477.7 807.3,478.8 807.8,479.8 808.3,480.8 808.8,481.9 809.3,482.9 809.8,483.9 810.3,484.9 810.8,485.9 811.3,486.9 811.8,487.9 812.3,488.9 812.8,489.9 813.3,490.9 813.8,491.9 814.3,492.9 814.8,493.9 815.3,494.9 815.8,495.9 816.3,496.9 816.8,497.9 817.3,498.9 817.8,499.9 818.3,500.9 818.8,501.9 819.3,502.9 819.8,503.9 820.3,504.9 820.8,506 821.3,507 821.8,508 822.3,509.1 822.8,510.1 823.3,511.1 823.8,512.2 824.3,513.2 824.8,514.2 825.3,515.2 825.8,516.2 826.3,517.2 826.8,518.2 827.3,519.2 827.8,520.1 828.3,521 828.8,521.9 829.3,522.8 829.8,523.7 830.3,524.5 830.8,525.4 831.3,526.2 831.8,527 832.3,527.9 832.8,528.7 833.3,529.4 833.8,530.2 834.3,531 834.8,531.7 835.3,532.5 835.8,533.2 836.3,533.9 836.8,534.6 837.3,535.3 837.8,536 838.3,536.6 838.8,537.3 839.3,537.9 839.8,538.6 840.3,539.2 840.8,539.8 841.3,540.4 841.8,541 842.3,541.5 842.8,542.1 843.3,542.7 843.8,543.2 844.3,543.8 844.8,544.3 845.3,544.9 845.8,545.4 846.3,545.9 846.8,546.4 847.3,547 847.8,547.5 848.3,548 848.8,548.5 849.3,549 849.8,549.5 850.3,550 850.8,550.5 851.3,550.9 851.8,551.4 852.3,551.9 852.8,552.4 853.3,552.8 853.8,553.3 854.3,553.8 854.8,554.2 855.3,554.7 855.8,555.1 856.3,555.6 856.8,556 857.3,556.4 857.8,556.8 858.3,557.3 858.8,557.7 859.3,558.1 859.8,558.5 860.3,558.9 860.8,559.3 861.3,559.7 861.8,560.1 862.3,560.5 862.8,560.9 863.3,561.3 863.8,561.6 864.3,562 864.8,562.4 865.3,562.7 865.8,563.1 866.3,563.4 866.8,563.8 867.3,564.1 867.8,564.5 868.3,564.8 868.8,565.1 869.3,565.5 869.8,565.8 870.3,566.2 870.8,566.5 871.3,566.8 871.8,567.1 872.3,567.5 872.8,567.8 873.3,568.1 873.8,568.5 874.3,568.8 874.8,569.1 875.3,569.5 875.8,569.8 876.3,570.1 876.8,570.5 877.3,570.8 877.8,571.2 878.3,571.5 878.8,571.8 879.3,572.2 879.8,572.5 880.3,572.9 880.8,573.2 881.3,573.5 881.8,573.9 882.3,574.2 882.8,574.5 883.3,574.9 883.8,575.2 884.3,575.5 884.8,575.8 885.3,576.2 885.8,576.5 886.3,576.8 886.8,577.1 887.3,577.4 887.8,577.7 888.3,578 888.8,578.3 889.3,578.6 889.8,578.8 890.3,579.1 890.8,579.4 891.3,579.6 891.8,579.9 892.3,580.1 892.8,580.4 893.3,580.6 893.8,580.9 894.3,581.1 894.8,581.3 895.3,581.6 895.8,581.8 896.3,582 896.8,582.3 897.3,582.5 897.8,582.7 898.3,582.9 898.8,583.2 899.3,583.4 899.8,583.6 900.3,583.8 900.8,584 901.3,584.2 901.8,584.4 902.3,584.7 902.8,584.9 903.3,585.1 903.8,585.3 904.3,585.5 904.8,585.7 905.3,585.9 905.8,586 906.3,586.2 906.8,586.4 907.3,586.6 907.8,586.8 908.3,587 908.8,587.1 909.3,587.3 909.8,587.5 910.3,587.7 910.8,587.8 911.3,588 911.8,588.1 912.3,588.3 912.8,588.4 913.3,588.6 913.8,588.7 914.3,588.9 914.8,589 915.3,589.2 915.8,589.3 916.3,589.4 916.8,589.6 917.3,589.7 917.8,589.8 918.3,589.9 918.8,590.1 919.3,590.2 919.8,590.3 920.3,590.4 920.8,590.5 921.3,590.7 921.8,590.8 922.3,590.9 922.8,591 923.3,591.1 923.8,591.2 924.3,591.3 924.8,591.4 925.3,591.5 925.8,591.7 926.3,591.8 926.8,591.9 927.3,592 927.8,592.1 928.3,592.2 928.8,592.3 929.3,592.3 929.8,592.4 930.3,592.5 930.8,592.6 931.3,592.7 931.8,592.8 932.3,592.9 932.8,593 933.3,593.1 933.8,593.1 934.3,593.2 934.8,593.3 935.3,593.4 935.8,593.5 936.3,593.5 936.8,593.6 937.3,593.7 937.8,593.8 938.3,593.8 938.8,593.9 939.3,594 939.8,594 940.3,594.1 940.8,594.2 941.3,594.2 941.8,594.3 942.3,594.4 942.8,594.4 943.3,594.5 943.8,594.6 944.3,594.6 944.8,594.7 945.3,594.7 945.8,594.8 946.3,594.8 946.8,594.9 947.3,594.9 947.8,595 948.3,595.1 948.8,595.1 949.3,595.2 949.8,595.2 950.3,595.3 950.8,595.3 951.3,595.4 951.8,595.4 952.3,595.4 952.8,595.5 953.3,595.5 953.8,595.6 954.3,595.6 954.8,595.7 955.3,595.7 955.8,595.8 956.3,595.8 956.8,595.9 957.3,595.9 957.8,595.9 958.3,596 958.8,596 959.3,596.1 959.8,596.1 960.3,596.2 960.8,596.2 961.3,596.2 961.8,596.3 962.3,596.3 962.8,596.4 963.3,596.4 963.8,596.5 964.3,596.5 964.8,596.6 965.3,596.6 965.8,596.6 966.3,596.7 966.8,596.7 967.3,596.8 967.8,596.8 968.3,596.9 968.8,596.9 969.3,596.9 969.8,597 970.3,597 970.8,597.1 971.3,597.1 971.8,597.2 972.3,597.2 972.8,597.2 973.3,597.3 973.8,597.3 974.3,597.4 974.8,597.4 975.3,597.4 975.8,597.5 976.3,597.5 976.8,597.6 977.3,597.6 977.8,597.6 978.3,597.7 978.8,597.7 979.3,597.8 979.8,597.8 980.3,597.8 980.8,597.9 981.3,597.9 981.8,598 982.3,598 982.8,598 983.3,598.1 983.8,598.1 984.3,598.2 984.8,598.2 985.3,598.2 985.8,598.3 986.3,598.3 986.8,598.4 987.3,598.4 987.8,598.4 988.3,598.5 988.8,598.5 989.3,598.6 989.8,598.6 990.3,598.6 990.8,598.7 991.3,598.7 991.8,598.8 992.3,598.8 992.8,598.9 993.3,598.9 993.8,598.9 994.3,599 994.8,599 995.3,599.1 995.8,599.1 996.3,599.1 996.8,599.2 997.3,599.2 997.8,599.3 998.3,599.3 998.8,599.3 999.3,599.4 999.8,599.4 1000.3,599.5 1000.8,599.5 1001.3,599.5 1001.8,599.6 1002.3,599.6 1002.8,599.7 1003.3,599.7 1003.8,599.7 1004.3,599.8 1004.8,599.8 1005.3,599.8 1005.8,599.9 1006.3,599.9 1006.8,600 1007.3,600 1007.8,600 1008.3,600.1 1008.8,600.1 1009.3,600.2 1009.8,600.2 1010.3,600.2 1010.8,600.2" fill="none" stroke="#22229f" stroke-width="2.0" stroke-linejoin="round" stroke-linecap="round"/>
<rect x="538.8" y="414.4" width="472.5" height="335.7" fill="none" stroke="#2a2a2a" stroke-width="1.5"/>
<text x="538.9" y="780.2" font-size="24" text-anchor="middle">525</text>
<text x="735.6" y="780.2" font-size="24" text-anchor="middle">530</text>
<text x="932.4" y="780.2" font-size="24" text-anchor="middle">535</text>
<text x="774.7" y="804.7" font-size="27.1" font-weight="bold" text-anchor="middle">Binding energy (eV)</text>
<text transform="translate(529.3,599.4) rotate(-90)" font-size="28.3" font-weight="bold" text-anchor="middle">Intensity / a.u.</text>
<text x="547.8" y="437.6" font-size="20.5" font-weight="bold">D</text>
<text x="543.8" y="465" font-size="21.5" font-weight="bold">O1s</text>
<line x1="867.5" y1="480.5" x2="867.5" y2="448.4" stroke="#3a3a3a" stroke-width="1.2"/>
<path d="M867.5,441.4 L870,449.4 L865,449.4 Z" fill="#1a1a1a"/>
<line x1="873" y1="451.6" x2="912" y2="451.6" stroke="#22229f" stroke-width="2"/>
<line x1="873" y1="478.9" x2="912" y2="478.9" stroke="#111" stroke-width="2"/>
<text x="917.5" y="457.8" font-size="21.3">9T/P-LFO</text>
<text x="917.5" y="485.2" font-size="21.3">P-LFO</text>
<line x1="706.9" y1="606.9" x2="706.9" y2="503.6" stroke="#3a3a3a" stroke-width="1.3"/>
<path d="M706.9,495.6 L709.5,504.6 L704.3,504.6 Z" fill="#1a1a1a"/>
<text x="694.6" y="632.3" font-size="22.5">O<tspan font-size="13.5" dy="8" dx="0.3">L</tspan></text>
<line x1="792.3" y1="635.7" x2="792.3" y2="567.8" stroke="#3a3a3a" stroke-width="1.3"/>
<path d="M792.3,559.8 L794.9,568.8 L789.7,568.8 Z" fill="#1a1a1a"/>
<text x="779.8" y="661.5" font-size="22.5">O<tspan font-size="13.5" dy="8" dx="0.3">H</tspan></text>
<line x1="364.8" y1="1154.9" x2="364.8" y2="1161.4" stroke="#2a2a2a" stroke-width="1.4"/>
<line x1="492.1" y1="1154.9" x2="492.1" y2="1161.4" stroke="#2a2a2a" stroke-width="1.4"/>
<line x1="619.4" y1="1154.9" x2="619.4" y2="1161.4" stroke="#2a2a2a" stroke-width="1.4"/>
<line x1="746.7" y1="1154.9" x2="746.7" y2="1161.4" stroke="#2a2a2a" stroke-width="1.4"/>
<line x1="301.1" y1="1154.9" x2="301.1" y2="1158.9" stroke="#2a2a2a" stroke-width="1.4"/>
<line x1="428.5" y1="1154.9" x2="428.5" y2="1158.9" stroke="#2a2a2a" stroke-width="1.4"/>
<line x1="555.8" y1="1154.9" x2="555.8" y2="1158.9" stroke="#2a2a2a" stroke-width="1.4"/>
<line x1="683" y1="1154.9" x2="683" y2="1158.9" stroke="#2a2a2a" stroke-width="1.4"/>
<path d="M287.7,1151.1 288.2,1151.1 288.7,1151.1 289.2,1151 289.7,1151 290.2,1150.9 290.7,1150.9 291.2,1150.8 291.7,1150.8 292.2,1150.7 292.7,1150.7 293.2,1150.6 293.7,1150.6 294.2,1150.5 294.7,1150.5 295.2,1150.4 295.7,1150.4 296.2,1150.3 296.7,1150.3 297.2,1150.3 297.7,1150.2 298.2,1150.2 298.7,1150.2 299.2,1150.1 299.7,1150.1 300.2,1150.1 300.7,1150.1 301.2,1150 301.7,1150 302.2,1150 302.7,1150 303.2,1150 303.7,1150 304.2,1150 304.7,1150 305.2,1150 305.7,1150 306.2,1150 306.7,1150 307.2,1150 307.7,1150 308.2,1150 308.7,1150 309.2,1150 309.7,1150 310.2,1150 310.7,1150 311.2,1150 311.7,1150 312.2,1150 312.7,1150 313.2,1150 313.7,1150 314.2,1150 314.7,1150 315.2,1150 315.7,1150 316.2,1150 316.7,1150 317.2,1150 317.7,1150 318.2,1150 318.7,1150 319.2,1150 319.7,1150 320.2,1150 320.7,1150 321.2,1150 321.7,1150 322.2,1150 322.7,1150 323.2,1150 323.7,1150 324.2,1150 324.7,1150 325.2,1150 325.7,1150 326.2,1150 326.7,1150 327.2,1150 327.7,1150 328.2,1150 328.7,1150 329.2,1150 329.7,1150 330.2,1150 330.7,1150 331.2,1149.9 331.7,1149.9 332.2,1149.9 332.7,1149.9 333.2,1149.9 333.7,1149.9 334.2,1149.9 334.7,1149.8 335.2,1149.8 335.7,1149.8 336.2,1149.8 336.7,1149.8 337.2,1149.7 337.7,1149.7 338.2,1149.7 338.7,1149.7 339.2,1149.6 339.7,1149.6 340.2,1149.6 340.7,1149.6 341.2,1149.5 341.7,1149.5 342.2,1149.5 342.7,1149.5 343.2,1149.4 343.7,1149.4 344.2,1149.4 344.7,1149.3 345.2,1149.3 345.7,1149.3 346.2,1149.3 346.7,1149.2 347.2,1149.2 347.7,1149.2 348.2,1149.1 348.7,1149.1 349.2,1149.1 349.7,1149 350.2,1149 350.7,1149 351.2,1148.9 351.7,1148.9 352.2,1148.8 352.7,1148.8 353.2,1148.7 353.7,1148.7 354.2,1148.6 354.7,1148.5 355.2,1148.5 355.7,1148.4 356.2,1148.3 356.7,1148.3 357.2,1148.2 357.7,1148.1 358.2,1148.1 358.7,1148 359.2,1148 359.7,1147.9 360.2,1147.9 360.7,1147.8 361.2,1147.8 361.7,1147.7 362.2,1147.7 362.7,1147.7 363.2,1147.6 363.7,1147.6 364.2,1147.6 364.7,1147.6 365.2,1147.6 365.7,1147.6 366.2,1147.6 366.7,1147.6 367.2,1147.6 367.7,1147.6 368.2,1147.6 368.7,1147.6 369.2,1147.6 369.7,1147.6 370.2,1147.6 370.7,1147.6 371.2,1147.6 371.7,1147.6 372.2,1147.6 372.7,1147.6 373.2,1147.6 373.7,1147.6 374.2,1147.6 374.7,1147.6 375.2,1147.6 375.7,1147.6 376.2,1147.6 376.7,1147.6 377.2,1147.6 377.7,1147.6 378.2,1147.6 378.7,1147.5 379.2,1147.5 379.7,1147.4 380.2,1147.4 380.7,1147.3 381.2,1147.2 381.7,1147 382.2,1146.9 382.7,1146.7 383.2,1146.6 383.7,1146.4 384.2,1146.2 384.7,1146.1 385.2,1145.9 385.7,1145.7 386.2,1145.5 386.7,1145.3 387.2,1145 387.7,1144.8 388.2,1144.5 388.7,1144.3 389.2,1144 389.7,1143.7 390.2,1143.4 390.7,1143.2 391.2,1142.9 391.7,1142.7 392.2,1142.5 392.7,1142.3 393.2,1142.1 393.7,1141.9 394.2,1141.8 394.7,1141.6 395.2,1141.5 395.7,1141.3 396.2,1141.2 396.7,1141.1 397.2,1141 397.7,1140.8 398.2,1140.7 398.7,1140.6 399.2,1140.4 399.7,1140.2 400.2,1140.1 400.7,1139.9 401.2,1139.7 401.7,1139.4 402.2,1139.1 402.7,1138.8 403.2,1138.5 403.7,1138.1 404.2,1137.7 404.7,1137.2 405.2,1136.7 405.7,1136.1 406.2,1135.5 406.7,1134.9 407.2,1134.1 407.7,1133.3 408.2,1132.3 408.7,1131.2 409.2,1130 409.7,1128.7 410.2,1127.2 410.7,1125.6 411.2,1123.8 411.7,1121.9 412.2,1119.8 412.7,1117.5 413.2,1115 413.7,1112.2 414.2,1109.3 414.7,1106.2 415.2,1102.9 415.7,1099.5 416.2,1095.9 416.7,1092.2 417.2,1088.4 417.7,1084.4 418.2,1080.3 418.7,1076.1 419.2,1071.9 419.7,1067.5 420.2,1063 420.7,1058.4 421.2,1053.5 421.7,1048.4 422.2,1043 422.7,1037.1 423.2,1030.6 423.7,1023.7 424.2,1016.3 424.7,1008.5 425.2,1000.5 425.7,992.5 426.2,984.6 426.7,977 427.2,969.6 427.7,962.5 428.2,955.6 428.7,949 429.2,942.6 429.7,936.4 430.2,930.4 430.7,924.6 431.2,919 431.7,913.6 432.2,908.4 432.7,903.4 433.2,898.7 433.7,894.2 434.2,889.9 434.7,886 435.2,882.3 435.7,878.8 436.2,875.6 436.7,872.8 437.2,870.3 437.7,868.1 438.2,866.3 438.7,864.7 439.2,863.4 439.7,862.3 440.2,861.5 440.7,860.8 441.2,860.5 441.7,860.3 442.2,860.5 442.7,860.8 443.2,861.5 443.7,862.3 444.2,863.4 444.7,864.7 445.2,866.3 445.7,868.1 446.2,870.3 446.7,872.8 447.2,875.6 447.7,878.8 448.2,882.3 448.7,886 449.2,889.9 449.7,894.2 450.2,898.7 450.7,903.4 451.2,908.4 451.7,913.7 452.2,919.1 452.7,924.8 453.2,930.7 453.7,936.9 454.2,943.3 454.7,949.9 455.2,956.5 455.7,963 456.2,969.2 456.7,975.1 457.2,980.5 457.7,985.6 458.2,990.4 458.7,995.1 459.2,999.7 459.7,1004.5 460.2,1009.3 460.7,1014.3 461.2,1019.3 461.7,1024.2 462.2,1029 462.7,1033.6 463.2,1038.1 463.7,1042.3 464.2,1046.4 464.7,1050.3 465.2,1054.1 465.7,1057.8 466.2,1061.3 466.7,1064.8 467.2,1068.1 467.7,1071.4 468.2,1074.6 468.7,1077.7 469.2,1080.7 469.7,1083.6 470.2,1086.4 470.7,1089 471.2,1091.4 471.7,1093.5 472.2,1095.5 472.7,1097.3 473.2,1099 473.7,1100.5 474.2,1101.9 474.7,1103.2 475.2,1104.3 475.7,1105.4 476.2,1106.4 476.7,1107.2 477.2,1108 477.7,1108.8 478.2,1109.4 478.7,1110.1 479.2,1110.7 479.7,1111.2 480.2,1111.7 480.7,1112.2 481.2,1112.7 481.7,1113.1 482.2,1113.5 482.7,1113.9 483.2,1114.3 483.7,1114.6 484.2,1115 484.7,1115.3 485.2,1115.6 485.7,1115.9 486.2,1116.2 486.7,1116.5 487.2,1116.8 487.7,1117.1 488.2,1117.3 488.7,1117.6 489.2,1117.8 489.7,1118 490.2,1118.3 490.7,1118.5 491.2,1118.7 491.7,1118.9 492.2,1119.1 492.7,1119.3 493.2,1119.5 493.7,1119.6 494.2,1119.8 494.7,1120 495.2,1120.1 495.7,1120.3 496.2,1120.5 496.7,1120.6 497.2,1120.8 497.7,1120.9 498.2,1121.1 498.7,1121.2 499.2,1121.3 499.7,1121.4 500.2,1121.5 500.7,1121.6 501.2,1121.7 501.7,1121.8 502.2,1121.8 502.7,1121.9 503.2,1121.9 503.7,1122 504.2,1122 504.7,1122 505.2,1122 505.7,1122.1 506.2,1122.1 506.7,1122.1 507.2,1122.1 507.7,1122.2 508.2,1122.2 508.7,1122.2 509.2,1122.2 509.7,1122.2 510.2,1122.2 510.7,1122.3 511.2,1122.3 511.7,1122.3 512.2,1122.3 512.7,1122.3 513.2,1122.3 513.7,1122.3 514.2,1122.3 514.7,1122.3 515.2,1122.3 515.7,1122.3 516.2,1122.3 516.7,1122.3 517.2,1122.3 517.7,1122.3 518.2,1122.3 518.7,1122.2 519.2,1122.2 519.7,1122.2 520.2,1122.2 520.7,1122.2 521.2,1122.2 521.7,1122.1 522.2,1122.1 522.7,1122.1 523.2,1122.1 523.7,1122.1 524.2,1122 524.7,1122 525.2,1122 525.7,1121.9 526.2,1121.9 526.7,1121.8 527.2,1121.7 527.7,1121.6 528.2,1121.5 528.7,1121.3 529.2,1121.1 529.7,1120.9 530.2,1120.7 530.7,1120.4 531.2,1120.2 531.7,1119.9 532.2,1119.6 532.7,1119.3 533.2,1118.9 533.7,1118.6 534.2,1118.3 534.7,1117.9 535.2,1117.6 535.7,1117.2 536.2,1116.9 536.7,1116.5 537.2,1116.1 537.7,1115.7 538.2,1115.3 538.7,1114.8 539.2,1114.4 539.7,1113.9 540.2,1113.4 540.7,1112.9 541.2,1112.4 541.7,1111.8 542.2,1111.3 542.7,1110.7 543.2,1110.2 543.7,1109.6 544.2,1109 544.7,1108.4 545.2,1107.8 545.7,1107.1 546.2,1106.5 546.7,1105.8 547.2,1105.1 547.7,1104.4 548.2,1103.6 548.7,1102.9 549.2,1102.1 549.7,1101.3 550.2,1100.5 550.7,1099.7 551.2,1098.9 551.7,1098 552.2,1097.2 552.7,1096.3 553.2,1095.5 553.7,1094.6 554.2,1093.7 554.7,1092.9 555.2,1092 555.7,1091.2 556.2,1090.3 556.7,1089.4 557.2,1088.6 557.7,1087.7 558.2,1086.9 558.7,1086 559.2,1085.1 559.7,1084.3 560.2,1083.4 560.7,1082.5 561.2,1081.6 561.7,1080.7 562.2,1079.8 562.7,1078.9 563.2,1078 563.7,1077.1 564.2,1076.2 564.7,1075.3 565.2,1074.4 565.7,1073.4 566.2,1072.5 566.7,1071.6 567.2,1070.6 567.7,1069.7 568.2,1068.7 568.7,1067.8 569.2,1066.8 569.7,1065.8 570.2,1064.7 570.7,1063.7 571.2,1062.6 571.7,1061.6 572.2,1060.5 572.7,1059.4 573.2,1058.3 573.7,1057.3 574.2,1056.2 574.7,1055.2 575.2,1054.2 575.7,1053.2 576.2,1052.3 576.7,1051.4 577.2,1050.6 577.7,1049.8 578.2,1049 578.7,1048.2 579.2,1047.5 579.7,1046.8 580.2,1046.1 580.7,1045.4 581.2,1044.7 581.7,1044.1 582.2,1043.5 582.7,1043 583.2,1042.5 583.7,1042.1 584.2,1041.7 584.7,1041.3 585.2,1041 585.7,1040.7 586.2,1040.5 586.7,1040.2 587.2,1040 587.7,1039.9 588.2,1039.7 588.7,1039.6 589.2,1039.6 589.7,1039.6 590.2,1039.6 590.7,1039.7 591.2,1039.8 591.7,1040 592.2,1040.2 592.7,1040.5 593.2,1040.8 593.7,1041.1 594.2,1041.4 594.7,1041.8 595.2,1042.2 595.7,1042.6 596.2,1043 596.7,1043.5 597.2,1044 597.7,1044.5 598.2,1045.1 598.7,1045.7 599.2,1046.4 599.7,1047.1 600.2,1047.9 600.7,1048.7 601.2,1049.5 601.7,1050.4 602.2,1051.3 602.7,1052.1 603.2,1053 603.7,1054 604.2,1054.9 604.7,1055.9 605.2,1056.9 605.7,1058 606.2,1059 606.7,1060.2 607.2,1061.3 607.7,1062.4 608.2,1063.6 608.7,1064.8 609.2,1066 609.7,1067.2 610.2,1068.4 610.7,1069.5 611.2,1070.7 611.7,1071.8 612.2,1073 612.7,1074.1 613.2,1075.2 613.7,1076.3 614.2,1077.4 614.7,1078.5 615.2,1079.6 615.7,1080.7 616.2,1081.8 616.7,1082.8 617.2,1083.9 617.7,1085 618.2,1086 618.7,1087 619.2,1088 619.7,1089 620.2,1089.9 620.7,1090.8 621.2,1091.6 621.7,1092.4 622.2,1093.2 622.7,1093.9 623.2,1094.6 623.7,1095.2 624.2,1095.9 624.7,1096.5 625.2,1097.1 625.7,1097.6 626.2,1098.2 626.7,1098.8 627.2,1099.3 627.7,1099.8 628.2,1100.3 628.7,1100.8 629.2,1101.3 629.7,1101.8 630.2,1102.2 630.7,1102.7 631.2,1103.1 631.7,1103.5 632.2,1103.9 632.7,1104.3 633.2,1104.7 633.7,1105.1 634.2,1105.5 634.7,1105.9 635.2,1106.2 635.7,1106.6 636.2,1107 636.7,1107.3 637.2,1107.7 637.7,1108 638.2,1108.4 638.7,1108.7 639.2,1109.1 639.7,1109.4 640.2,1109.7 640.7,1110.1 641.2,1110.4 641.7,1110.7 642.2,1111 642.7,1111.3 643.2,1111.6 643.7,1111.9 644.2,1112.2 644.7,1112.4 645.2,1112.7 645.7,1112.9 646.2,1113.2 646.7,1113.4 647.2,1113.6 647.7,1113.8 648.2,1114 648.7,1114.2 649.2,1114.4 649.7,1114.5 650.2,1114.7 650.7,1114.8 651.2,1114.9 651.7,1115.1 652.2,1115.2 652.7,1115.3 653.2,1115.4 653.7,1115.5 654.2,1115.6 654.7,1115.7 655.2,1115.8 655.7,1115.9 656.2,1116 656.7,1116.1 657.2,1116.2 657.7,1116.3 658.2,1116.4 658.7,1116.5 659.2,1116.6 659.7,1116.7 660.2,1116.7 660.7,1116.8 661.2,1116.9 661.7,1117 662.2,1117.1 662.7,1117.1 663.2,1117.2 663.7,1117.3 664.2,1117.3 664.7,1117.4 665.2,1117.5 665.7,1117.5 666.2,1117.6 666.7,1117.6 667.2,1117.7 667.7,1117.8 668.2,1117.8 668.7,1117.9 669.2,1117.9 669.7,1118 670.2,1118 670.7,1118 671.2,1118.1 671.7,1118.1 672.2,1118.2 672.7,1118.2 673.2,1118.2 673.7,1118.3 674.2,1118.3 674.7,1118.3 675.2,1118.4 675.7,1118.4 676.2,1118.4 676.7,1118.5 677.2,1118.5 677.7,1118.5 678.2,1118.5 678.7,1118.6 679.2,1118.6 679.7,1118.6 680.2,1118.6 680.7,1118.7 681.2,1118.7 681.7,1118.7 682.2,1118.7 682.7,1118.7 683.2,1118.8 683.7,1118.8 684.2,1118.8 684.7,1118.8 685.2,1118.8 685.7,1118.8 686.2,1118.8 686.7,1118.8 687.2,1118.8 687.7,1118.8 688.2,1118.7 688.7,1118.7 689.2,1118.7 689.7,1118.7 690.2,1118.6 690.7,1118.6 691.2,1118.6 691.7,1118.5 692.2,1118.5 692.7,1118.5 693.2,1118.4 693.7,1118.4 694.2,1118.3 694.7,1118.2 695.2,1118.2 695.7,1118.1 696.2,1118.1 696.7,1118 697.2,1117.9 697.7,1117.9 698.2,1117.8 698.7,1117.7 699.2,1117.7 699.7,1117.6 700.2,1117.5 700.7,1117.4 701.2,1117.3 701.7,1117.3 702.2,1117.2 702.7,1117.1 703.2,1117 703.7,1116.9 704.2,1116.9 704.7,1116.8 705.2,1116.7 705.7,1116.6 706.2,1116.5 706.7,1116.4 707.2,1116.3 707.7,1116.3 708.2,1116.2 708.7,1116.1 709.2,1116 709.7,1115.9 710.2,1115.8 710.7,1115.7 711.2,1115.6 711.7,1115.5 712.2,1115.4 712.7,1115.3 713.2,1115.2 713.7,1115.1 714.2,1114.9 714.7,1114.8 715.2,1114.7 715.7,1114.6 716.2,1114.4 716.7,1114.3 717.2,1114.1 717.7,1114 718.2,1113.9 718.7,1113.7 719.2,1113.6 719.7,1113.4 720.2,1113.2 720.7,1113.1 721.2,1112.9 721.7,1112.8 722.2,1112.6 722.7,1112.4 723.2,1112.3 723.7,1112.1 724.2,1111.9 724.7,1111.8 725.2,1111.6 725.7,1111.4 726.2,1111.3 726.7,1111.1 727.2,1110.9 727.7,1110.7 728.2,1110.6 728.7,1110.4 729.2,1110.2 729.7,1110 730.2,1109.9 730.7,1109.7 731.2,1109.5 731.7,1109.3 732.2,1109.1 732.7,1109 733.2,1108.8 733.7,1108.6 734.2,1108.4 734.7,1108.2 735.2,1108 735.7,1107.8 736.2,1107.6 736.7,1107.4 737.2,1107.2 737.7,1107 738.2,1106.8 738.7,1106.6 739.2,1106.4 739.7,1106.2 740.2,1106 740.7,1105.8 741.2,1105.6 741.7,1105.4 742.2,1105.1 742.7,1104.9 743.2,1104.7 743.7,1104.5 744.2,1104.2 744.7,1104 745.2,1103.8 745.7,1103.6 746.2,1103.5 746.7,1103.3" fill="none" stroke="#2a2aa5" stroke-width="2.0" stroke-linejoin="round" stroke-linecap="round"/>
<rect x="287.7" y="819.3" width="459" height="335.6" fill="none" stroke="#2a2a2a" stroke-width="1.5"/>
<text x="364.8" y="1183" font-size="22" text-anchor="middle">455</text>
<text x="492.1" y="1183" font-size="22" text-anchor="middle">460</text>
<text x="619.4" y="1183" font-size="22" text-anchor="middle">465</text>
<text x="746.7" y="1183" font-size="22" text-anchor="middle">470</text>
<text x="517.7" y="1209.4" font-size="25.3" font-weight="bold" text-anchor="middle">Binding Energy (eV)</text>
<text transform="translate(279,982.8) rotate(-90)" font-size="26.2" font-weight="bold" text-anchor="middle">Intensity/ a.u.</text>
<text x="300.2" y="842.2" font-size="19.5" font-weight="bold">E</text>
<text x="292.3" y="871.4" font-size="19.5" font-weight="bold">Ti2p</text>
<line x1="441.2" y1="855.3" x2="458.2" y2="843.6" stroke="#3a3a3a" stroke-width="1.2"/>
<path d="M464,839.6 L458.8,846.2 L456,842.1 Z" fill="#1a1a1a"/>
<text x="470.6" y="844.1" font-size="19">2p<tspan font-size="11.5" dy="7" dx="0.5">1/2</tspan></text>
<line x1="588.9" y1="1032.7" x2="595.8" y2="1010.8" stroke="#3a3a3a" stroke-width="1.2"/>
<path d="M597.9,1004.1 L597.9,1012.5 L593.1,1011 Z" fill="#1a1a1a"/>
<text x="583.4" y="995.7" font-size="19">2p<tspan font-size="11.5" dy="7.5" dx="0.5">3/2</tspan></text>
</g>
</svg></body></html>
